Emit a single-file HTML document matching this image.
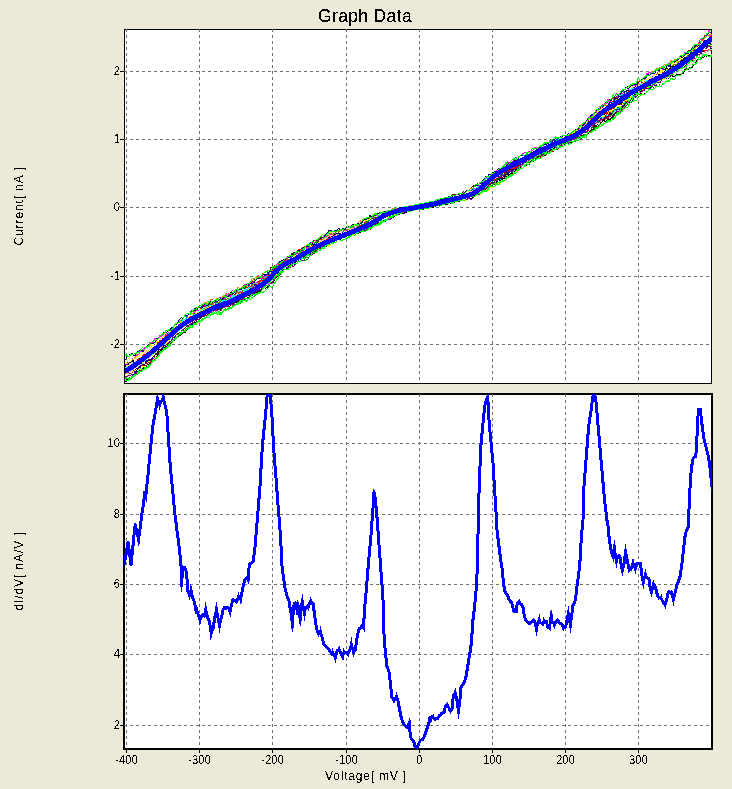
<!DOCTYPE html>
<html><head><meta charset="utf-8"><title>Graph Data</title>
<style>
html,body{margin:0;padding:0}
body{width:732px;height:789px;background:#ece9d8;position:relative;overflow:hidden;font-family:"Liberation Sans",sans-serif;color:#000}
.title{filter:url(#thr)}
.yl,.xl,.xt,.yt{filter:url(#thr2)}
.title{position:absolute;left:265px;width:200px;top:6px;text-align:center;font-size:17.5px;letter-spacing:0.35px;line-height:20px;white-space:nowrap}
.yl{position:absolute;left:61px;width:59px;text-align:right;font-size:12.5px;letter-spacing:0;line-height:13px;height:13px;transform:scaleX(0.9);transform-origin:100% 50%}
.xl{position:absolute;top:754px;width:61px;text-align:center;font-size:12.5px;letter-spacing:0;line-height:13px;height:13px;transform:scaleX(0.9);transform-origin:50% 50%}
.xt{position:absolute;left:301px;width:130px;top:769px;text-align:center;font-size:12px;letter-spacing:0.8px;line-height:14px;white-space:nowrap}
.yt{position:absolute;left:-41px;width:120px;height:14px;text-align:center;font-size:12px;letter-spacing:0.9px;line-height:14px;white-space:nowrap;transform:rotate(-90deg);transform-origin:50% 50%}
</style></head><body>
<svg width="732" height="789" viewBox="0 0 732 789" style="position:absolute;left:0;top:0"><defs><filter id="thr" x="0" y="0" width="100%" height="100%" color-interpolation-filters="sRGB"><feComponentTransfer><feFuncA type="discrete" tableValues="0 0 1 1 1"/></feComponentTransfer></filter><filter id="thr2" x="0" y="0" width="100%" height="100%" color-interpolation-filters="sRGB"><feComponentTransfer><feFuncA type="discrete" tableValues="0 0 0 0 0 1 1 1 1 1"/></feComponentTransfer></filter><clipPath id="c1"><rect x="125" y="30" width="587" height="353"/></clipPath><clipPath id="c2"><rect x="124" y="394" width="588" height="356"/></clipPath></defs><g shape-rendering="crispEdges"><rect x="124.5" y="29.5" width="587" height="354" fill="#fff" stroke="#000" stroke-width="1"/><rect x="124" y="394" width="588" height="355" fill="#fff" stroke="#000" stroke-width="2"/><line x1="126.5" y1="29" x2="126.5" y2="383" stroke="#707070" stroke-dasharray="3 3"/><line x1="126.5" y1="394" x2="126.5" y2="748" stroke="#707070" stroke-dasharray="3 3"/><line x1="126.5" y1="750" x2="126.5" y2="753" stroke="#000"/><line x1="199.5" y1="29" x2="199.5" y2="383" stroke="#707070" stroke-dasharray="3 3"/><line x1="199.5" y1="394" x2="199.5" y2="748" stroke="#707070" stroke-dasharray="3 3"/><line x1="199.5" y1="750" x2="199.5" y2="753" stroke="#000"/><line x1="272.5" y1="29" x2="272.5" y2="383" stroke="#707070" stroke-dasharray="3 3"/><line x1="272.5" y1="394" x2="272.5" y2="748" stroke="#707070" stroke-dasharray="3 3"/><line x1="272.5" y1="750" x2="272.5" y2="753" stroke="#000"/><line x1="346.5" y1="29" x2="346.5" y2="383" stroke="#707070" stroke-dasharray="3 3"/><line x1="346.5" y1="394" x2="346.5" y2="748" stroke="#707070" stroke-dasharray="3 3"/><line x1="346.5" y1="750" x2="346.5" y2="753" stroke="#000"/><line x1="419.5" y1="29" x2="419.5" y2="383" stroke="#707070" stroke-dasharray="3 3"/><line x1="419.5" y1="394" x2="419.5" y2="748" stroke="#707070" stroke-dasharray="3 3"/><line x1="419.5" y1="750" x2="419.5" y2="753" stroke="#000"/><line x1="492.5" y1="29" x2="492.5" y2="383" stroke="#707070" stroke-dasharray="3 3"/><line x1="492.5" y1="394" x2="492.5" y2="748" stroke="#707070" stroke-dasharray="3 3"/><line x1="492.5" y1="750" x2="492.5" y2="753" stroke="#000"/><line x1="565.5" y1="29" x2="565.5" y2="383" stroke="#707070" stroke-dasharray="3 3"/><line x1="565.5" y1="394" x2="565.5" y2="748" stroke="#707070" stroke-dasharray="3 3"/><line x1="565.5" y1="750" x2="565.5" y2="753" stroke="#000"/><line x1="638.5" y1="29" x2="638.5" y2="383" stroke="#707070" stroke-dasharray="3 3"/><line x1="638.5" y1="394" x2="638.5" y2="748" stroke="#707070" stroke-dasharray="3 3"/><line x1="638.5" y1="750" x2="638.5" y2="753" stroke="#000"/><line x1="124" y1="71.5" x2="711" y2="71.5" stroke="#707070" stroke-dasharray="3 3"/><line x1="120" y1="71.5" x2="124" y2="71.5" stroke="#000"/><line x1="124" y1="139.5" x2="711" y2="139.5" stroke="#707070" stroke-dasharray="3 3"/><line x1="120" y1="139.5" x2="124" y2="139.5" stroke="#000"/><line x1="124" y1="207.5" x2="711" y2="207.5" stroke="#707070" stroke-dasharray="3 3"/><line x1="120" y1="207.5" x2="124" y2="207.5" stroke="#000"/><line x1="124" y1="276.5" x2="711" y2="276.5" stroke="#707070" stroke-dasharray="3 3"/><line x1="120" y1="276.5" x2="124" y2="276.5" stroke="#000"/><line x1="124" y1="344.5" x2="711" y2="344.5" stroke="#707070" stroke-dasharray="3 3"/><line x1="120" y1="344.5" x2="124" y2="344.5" stroke="#000"/><line x1="124" y1="443.5" x2="711" y2="443.5" stroke="#707070" stroke-dasharray="3 3"/><line x1="120" y1="443.5" x2="123" y2="443.5" stroke="#000"/><line x1="124" y1="514.5" x2="711" y2="514.5" stroke="#707070" stroke-dasharray="3 3"/><line x1="120" y1="514.5" x2="123" y2="514.5" stroke="#000"/><line x1="124" y1="584.5" x2="711" y2="584.5" stroke="#707070" stroke-dasharray="3 3"/><line x1="120" y1="584.5" x2="123" y2="584.5" stroke="#000"/><line x1="124" y1="654.5" x2="711" y2="654.5" stroke="#707070" stroke-dasharray="3 3"/><line x1="120" y1="654.5" x2="123" y2="654.5" stroke="#000"/><line x1="124" y1="725.5" x2="711" y2="725.5" stroke="#707070" stroke-dasharray="3 3"/><line x1="120" y1="725.5" x2="123" y2="725.5" stroke="#000"/></g><g clip-path="url(#c1)" fill="none" shape-rendering="crispEdges" stroke-width="1"><polyline stroke="#ff00ff" points="125,364.0 126,364.2 127,363.0 128,362.9 129,362.2 130,362.2 131,363.0 132,363.4 133,362.7 134,363.7 135,364.5 136,362.8 137,362.9 138,362.5 139,361.2 140,361.4 141,361.6 142,360.1 143,359.4 144,358.5 145,358.0 146,356.9 147,355.9 148,356.7 149,355.9 150,353.7 151,352.6 152,351.7 153,351.2 154,350.6 155,349.2 156,348.2 157,346.3 158,345.6 159,344.4 160,343.8 161,343.2 162,341.8 163,341.5 164,341.8 165,340.9 166,338.8 167,337.3 168,337.8 169,336.0 170,334.3 171,332.8 172,332.6 173,331.0 174,328.1 175,327.3 176,326.4 177,326.7 178,325.7 179,322.8 180,322.4 181,322.8 182,320.8 183,320.1 184,319.3 185,318.5 186,317.8 187,316.0 188,316.1 189,317.4 190,314.1 191,312.5 192,313.2 193,312.0 194,311.1 195,309.1 196,308.7 197,308.2 198,307.7 199,306.8 200,305.7 201,305.5 202,307.0 203,305.7 204,302.8 205,302.1 206,303.0 207,302.6 208,302.1 209,301.8 210,300.9 211,299.1 212,299.3 213,301.5 214,300.7 215,300.6 216,299.9 217,298.7 218,298.3 219,297.9 220,297.3 221,297.3 222,298.4 223,299.1 224,299.2 225,296.9 226,294.6 227,295.4 228,294.9 229,293.2 230,293.4 231,293.5 232,290.8 233,291.0 234,291.0 235,291.3 236,291.2 237,290.0 238,291.1 239,289.6 240,289.7 241,288.5 242,288.5 243,286.8 244,284.7 245,284.7 246,285.4 247,284.7 248,286.0 249,284.4 250,284.2 251,283.7 252,282.9 253,281.9 254,281.2 255,281.0 256,279.3 257,277.5 258,278.6 259,278.1 260,278.8 261,277.8 262,278.2 263,277.4 264,275.8 265,276.3 266,276.7 267,274.1 268,272.7 269,273.0 270,272.1 271,271.0 272,270.2 273,270.1 274,268.2 275,267.7 276,266.5 277,264.1 278,262.7 279,263.6 280,263.5 281,263.5 282,262.1 283,260.5 284,260.2 285,259.6 286,258.2 287,257.8 288,259.3 289,260.4 290,259.3 291,256.5 292,256.5 293,256.9 294,257.5 295,255.6 296,253.5 297,252.3 298,253.8 299,254.0 300,252.6 301,251.6 302,253.1 303,252.4 304,250.6 305,249.6 306,249.0 307,247.6 308,248.2 309,247.4 310,246.7 311,246.9 312,246.1 313,245.0 314,243.5 315,243.5 316,244.6 317,244.8 318,242.4 319,240.5 320,241.8 321,241.4 322,240.2 323,240.4 324,238.9 325,237.1 326,237.5 327,237.9 328,237.8 329,236.3 330,234.9 331,235.0 332,234.7 333,234.5 334,235.1 335,235.9 336,235.6 337,233.9 338,233.4 339,234.2 340,234.2 341,233.4 342,233.1 343,232.5 344,232.9 345,232.6 346,232.4 347,232.0 348,230.5 349,230.7 350,230.7 351,230.9 352,230.3 353,228.8 354,227.3 355,227.0 356,227.4 357,226.5 358,226.2 359,226.5 360,227.1 361,226.5 362,224.2 363,223.2 364,223.1 365,224.0 366,223.2 367,222.3 368,221.8 369,222.1 370,220.0 371,220.1 372,219.6 373,217.9 374,217.4 375,217.0 376,217.8 377,216.3 378,215.8 379,216.9 380,216.8 381,215.6 382,214.9 383,214.5 384,214.6 385,214.9 386,216.2 387,214.9 388,213.7 389,213.0 390,212.7 391,212.1 392,211.1 393,210.7 394,211.1 395,211.1 396,210.9 397,210.4 398,209.5 399,208.8 400,208.8 401,209.1 402,208.8 403,208.3 404,208.3 405,208.8 406,208.2 407,206.9 408,206.9 409,207.2 410,206.8 411,206.7 412,206.6 413,206.7 414,206.4 415,205.6 416,205.6 417,205.4 418,205.1 419,204.8 420,204.6 421,204.6 422,204.6 423,204.3 424,204.2 425,204.0 426,203.8 427,203.3 428,203.1 429,202.5 430,202.3 431,202.0 432,202.2 433,202.1 434,202.1 435,202.4 436,202.3 437,201.2 438,200.6 439,200.0 440,199.9 441,200.3 442,199.9 443,199.0 444,198.2 445,198.8 446,199.0 447,198.1 448,198.1 449,198.3 450,197.4 451,197.2 452,196.9 453,196.0 454,196.1 455,196.2 456,196.4 457,195.5 458,194.6 459,194.3 460,194.5 461,193.9 462,193.1 463,192.8 464,192.6 465,191.7 466,191.4 467,191.4 468,190.8 469,190.4 470,190.2 471,190.1 472,188.6 473,188.4 474,188.3 475,187.5 476,187.1 477,186.1 478,185.6 479,186.4 480,186.3 481,184.2 482,182.7 483,180.8 484,180.0 485,179.9 486,178.4 487,177.6 488,177.1 489,177.7 490,178.7 491,178.0 492,173.9 493,173.5 494,175.2 495,174.1 496,172.7 497,172.0 498,171.3 499,168.9 500,168.3 501,168.1 502,167.4 503,166.1 504,165.7 505,165.3 506,163.4 507,161.7 508,162.6 509,162.8 510,162.9 511,162.8 512,163.3 513,161.6 514,159.0 515,157.9 516,157.0 517,157.9 518,157.2 519,157.0 520,156.1 521,155.8 522,154.9 523,153.3 524,153.0 525,152.7 526,152.9 527,153.6 528,152.7 529,151.0 530,151.1 531,151.4 532,151.1 533,149.9 534,149.3 535,147.6 536,147.7 537,147.4 538,147.0 539,148.4 540,147.3 541,146.5 542,145.9 543,144.9 544,145.2 545,145.4 546,143.1 547,142.9 548,144.2 549,143.5 550,142.3 551,141.4 552,141.0 553,140.6 554,140.9 555,141.5 556,141.4 557,141.5 558,141.3 559,140.8 560,139.8 561,138.7 562,138.0 563,138.3 564,137.9 565,137.2 566,136.9 567,137.4 568,135.9 569,135.0 570,134.6 571,133.7 572,132.9 573,132.5 574,133.3 575,132.7 576,130.9 577,130.1 578,129.2 579,129.7 580,129.2 581,127.6 582,126.6 583,125.2 584,125.4 585,124.0 586,121.9 587,121.2 588,119.6 589,120.9 590,120.8 591,117.6 592,115.9 593,115.5 594,114.6 595,112.5 596,112.0 597,112.3 598,112.0 599,109.6 600,107.7 601,106.3 602,106.5 603,106.1 604,106.0 605,105.1 606,103.6 607,100.7 608,99.5 609,99.1 610,101.8 611,101.1 612,100.5 613,100.2 614,98.2 615,96.8 616,94.0 617,93.5 618,93.8 619,94.1 620,93.5 621,92.8 622,92.4 623,91.5 624,89.7 625,88.3 626,87.8 627,88.3 628,88.2 629,87.9 630,87.1 631,86.5 632,85.0 633,84.5 634,84.2 635,83.5 636,83.2 637,81.8 638,80.5 639,80.5 640,81.6 641,81.0 642,79.5 643,78.2 644,77.2 645,77.8 646,76.2 647,73.5 648,73.3 649,72.8 650,72.5 651,73.3 652,73.5 653,73.2 654,72.2 655,71.8 656,70.9 657,70.9 658,70.3 659,70.2 660,70.5 661,69.3 662,67.9 663,68.8 664,67.0 665,66.0 666,65.0 667,65.1 668,64.2 669,62.7 670,61.9 671,61.9 672,61.9 673,61.0 674,60.9 675,61.1 676,60.0 677,59.1 678,58.2 679,59.8 680,60.0 681,59.3 682,57.9 683,55.7 684,53.8 685,52.7 686,52.6 687,53.7 688,53.0 689,52.1 690,51.4 691,52.0 692,51.1 693,48.8 694,46.9 695,45.6 696,46.3 697,45.5 698,44.6 699,41.8 700,40.1 701,39.4 702,38.5 703,38.5 704,38.2 705,38.4 706,36.4 707,34.3 708,33.5 709,30.5 710,29.5 711,29.7 712,30.1 713,28.9"/><polyline stroke="#800000" points="125,365.8 126,365.7 127,365.4 128,365.1 129,364.3 130,363.2 131,362.2 132,361.9 133,362.3 134,362.9 135,361.7 136,360.9 137,359.6 138,359.6 139,358.5 140,358.2 141,359.0 142,357.8 143,355.8 144,354.8 145,354.7 146,353.5 147,351.4 148,350.2 149,349.1 150,349.9 151,349.7 152,348.8 153,348.5 154,349.5 155,348.6 156,346.2 157,344.1 158,342.3 159,341.3 160,340.2 161,339.7 162,338.2 163,337.8 164,337.4 165,337.0 166,336.4 167,334.5 168,332.2 169,330.3 170,330.4 171,331.1 172,330.0 173,329.3 174,327.4 175,326.4 176,326.7 177,324.4 178,323.6 179,322.3 180,322.7 181,322.3 182,320.4 183,319.8 184,320.2 185,319.3 186,317.9 187,317.2 188,316.0 189,315.8 190,315.1 191,314.8 192,315.2 193,315.0 194,313.5 195,312.3 196,310.1 197,309.5 198,308.5 199,307.9 200,307.6 201,307.0 202,306.0 203,305.3 204,305.4 205,305.1 206,305.5 207,304.7 208,304.2 209,304.8 210,305.0 211,303.6 212,302.8 213,302.3 214,301.8 215,302.4 216,301.5 217,300.9 218,300.5 219,301.1 220,301.8 221,301.8 222,300.8 223,300.0 224,299.1 225,298.6 226,298.9 227,298.4 228,297.2 229,295.7 230,294.8 231,293.5 232,293.0 233,295.3 234,295.6 235,293.9 236,291.9 237,291.3 238,290.1 239,289.4 240,289.1 241,288.8 242,287.8 243,288.3 244,288.4 245,287.1 246,285.8 247,284.6 248,284.4 249,284.2 250,283.7 251,284.1 252,282.5 253,279.7 254,279.7 255,279.5 256,280.2 257,278.5 258,277.4 259,278.8 260,277.8 261,276.9 262,276.0 263,274.5 264,272.7 265,272.6 266,272.0 267,271.7 268,272.7 269,273.3 270,270.7 271,267.2 272,268.0 273,267.9 274,266.8 275,265.4 276,265.4 277,265.8 278,266.5 279,265.7 280,262.8 281,261.2 282,261.0 283,260.1 284,259.8 285,259.5 286,259.3 287,259.7 288,259.3 289,258.3 290,256.2 291,255.4 292,254.6 293,254.7 294,255.0 295,255.0 296,252.8 297,251.7 298,251.4 299,251.8 300,251.0 301,249.8 302,248.5 303,247.7 304,247.5 305,247.4 306,245.7 307,245.1 308,245.8 309,244.4 310,245.0 311,245.7 312,243.1 313,241.2 314,240.6 315,241.1 316,240.7 317,240.2 318,238.9 319,239.0 320,238.3 321,236.4 322,237.4 323,237.4 324,235.6 325,235.3 326,234.8 327,233.9 328,232.9 329,233.4 330,233.3 331,232.4 332,231.2 333,231.4 334,232.0 335,232.4 336,231.8 337,231.0 338,230.5 339,229.9 340,229.9 341,230.4 342,230.9 343,231.5 344,230.3 345,230.0 346,229.3 347,228.4 348,228.8 349,229.5 350,229.5 351,229.7 352,229.6 353,227.6 354,227.2 355,227.9 356,228.1 357,227.8 358,228.5 359,228.5 360,226.9 361,226.3 362,226.1 363,226.5 364,226.2 365,225.0 366,223.8 367,223.9 368,224.0 369,224.3 370,224.8 371,223.8 372,222.6 373,220.0 374,219.8 375,220.3 376,221.3 377,220.7 378,220.0 379,218.4 380,217.7 381,217.3 382,216.9 383,216.7 384,215.7 385,215.7 386,215.6 387,214.6 388,213.3 389,212.4 390,213.0 391,213.6 392,212.3 393,211.8 394,211.6 395,210.1 396,209.5 397,209.0 398,209.1 399,208.6 400,208.0 401,208.1 402,207.9 403,208.0 404,207.9 405,208.2 406,208.3 407,207.4 408,206.8 409,206.2 410,206.1 411,206.0 412,206.1 413,206.0 414,206.2 415,206.3 416,205.8 417,205.7 418,205.2 419,204.8 420,204.6 421,204.6 422,204.4 423,203.8 424,203.9 425,203.9 426,203.7 427,203.2 428,203.0 429,203.1 430,202.4 431,202.1 432,202.3 433,202.5 434,201.9 435,201.7 436,201.8 437,201.0 438,200.7 439,200.8 440,200.5 441,200.0 442,199.8 443,199.7 444,199.2 445,198.7 446,198.1 447,197.6 448,197.7 449,197.6 450,196.8 451,195.9 452,195.3 453,194.7 454,194.9 455,194.8 456,194.6 457,194.4 458,194.0 459,194.2 460,193.9 461,193.2 462,192.9 463,192.2 464,191.7 465,192.0 466,191.5 467,190.7 468,190.7 469,191.2 470,190.7 471,188.8 472,186.9 473,186.3 474,185.7 475,185.0 476,184.1 477,184.1 478,183.6 479,183.3 480,185.1 481,184.9 482,182.7 483,182.1 484,181.4 485,180.4 486,180.7 487,181.1 488,181.0 489,181.2 490,180.5 491,180.0 492,180.0 493,179.2 494,177.6 495,178.2 496,177.8 497,177.0 498,175.6 499,174.3 500,173.9 501,175.0 502,174.3 503,172.9 504,172.7 505,171.8 506,171.2 507,169.9 508,168.3 509,168.1 510,168.3 511,167.3 512,165.7 513,164.3 514,164.5 515,164.3 516,163.6 517,162.3 518,162.0 519,161.3 520,160.5 521,161.0 522,161.1 523,158.6 524,157.3 525,158.8 526,158.1 527,158.0 528,157.1 529,156.6 530,156.2 531,156.4 532,155.2 533,154.3 534,154.3 535,153.9 536,152.9 537,152.5 538,151.5 539,151.6 540,151.6 541,151.5 542,149.9 543,148.2 544,148.5 545,148.0 546,147.0 547,147.5 548,147.1 549,145.5 550,144.1 551,143.9 552,143.5 553,142.5 554,143.3 555,143.0 556,143.8 557,144.6 558,143.4 559,141.3 560,140.9 561,140.5 562,140.1 563,139.6 564,140.1 565,139.8 566,139.1 567,139.1 568,137.2 569,136.4 570,137.1 571,136.0 572,135.2 573,134.2 574,134.0 575,133.7 576,132.7 577,130.4 578,131.0 579,131.5 580,129.9 581,128.6 582,128.3 583,126.3 584,124.6 585,125.3 586,124.8 587,123.3 588,122.1 589,120.6 590,120.1 591,119.6 592,117.4 593,115.3 594,114.9 595,112.2 596,110.8 597,110.8 598,110.8 599,109.7 600,109.0 601,107.6 602,106.4 603,105.1 604,105.0 605,102.9 606,102.0 607,103.3 608,101.9 609,99.7 610,99.0 611,99.3 612,99.2 613,97.6 614,97.1 615,97.2 616,96.6 617,94.8 618,94.7 619,93.7 620,92.7 621,91.4 622,90.6 623,90.4 624,89.8 625,88.8 626,88.3 627,88.4 628,86.5 629,86.8 630,86.4 631,87.0 632,87.9 633,88.0 634,87.2 635,85.6 636,84.6 637,84.2 638,85.2 639,83.8 640,84.6 641,84.6 642,82.5 643,82.5 644,82.6 645,81.8 646,81.7 647,81.3 648,79.8 649,80.4 650,80.8 651,79.3 652,78.7 653,78.6 654,77.8 655,77.6 656,76.7 657,77.2 658,76.7 659,75.3 660,74.6 661,74.1 662,73.3 663,72.0 664,70.6 665,70.3 666,69.4 667,67.9 668,65.5 669,64.8 670,65.0 671,65.0 672,63.8 673,62.7 674,63.0 675,62.1 676,61.3 677,60.5 678,60.2 679,58.6 680,58.1 681,56.8 682,57.0 683,56.2 684,54.6 685,52.9 686,52.3 687,53.2 688,50.8 689,50.6 690,50.8 691,50.5 692,48.5 693,48.8 694,48.2 695,46.9 696,47.8 697,47.6 698,46.2 699,43.7 700,42.6 701,41.4 702,40.0 703,39.0 704,36.7 705,35.6 706,35.9 707,34.4 708,34.2 709,32.8 710,30.3 711,29.9 712,30.8 713,29.7"/><polyline stroke="#ff8000" points="125,362.2 126,361.2 127,361.1 128,360.7 129,359.6 130,358.9 131,358.2 132,358.8 133,359.3 134,359.3 135,357.6 136,354.7 137,353.8 138,355.5 139,355.8 140,355.5 141,355.3 142,353.9 143,352.5 144,350.8 145,349.0 146,348.1 147,347.8 148,347.2 149,346.5 150,345.6 151,343.9 152,343.6 153,342.4 154,342.0 155,342.4 156,341.4 157,339.4 158,338.6 159,337.4 160,335.6 161,335.8 162,335.4 163,334.2 164,334.1 165,333.0 166,332.3 167,332.0 168,331.9 169,332.5 170,331.5 171,329.7 172,329.7 173,328.7 174,327.4 175,325.6 176,325.2 177,323.8 178,322.2 179,323.4 180,322.9 181,320.6 182,319.2 183,318.2 184,318.2 185,316.9 186,316.2 187,316.6 188,315.6 189,314.5 190,315.0 191,313.5 192,312.9 193,313.5 194,312.6 195,310.4 196,307.4 197,306.9 198,307.2 199,307.3 200,306.7 201,305.8 202,307.4 203,307.1 204,304.3 205,302.6 206,303.6 207,302.3 208,301.7 209,301.9 210,301.2 211,299.3 212,300.1 213,301.0 214,299.9 215,299.9 216,299.1 217,298.7 218,298.4 219,300.0 220,298.7 221,298.0 222,297.2 223,296.4 224,295.9 225,294.9 226,293.7 227,293.8 228,295.7 229,295.1 230,294.3 231,292.8 232,293.0 233,291.9 234,291.4 235,291.4 236,290.5 237,289.7 238,287.4 239,287.9 240,288.7 241,288.9 242,288.0 243,286.2 244,286.1 245,285.3 246,286.1 247,286.3 248,283.9 249,282.7 250,283.8 251,282.1 252,281.2 253,280.2 254,278.6 255,277.9 256,277.8 257,276.1 258,275.7 259,276.0 260,276.7 261,276.9 262,275.5 263,273.3 264,272.9 265,272.0 266,272.0 267,271.7 268,270.7 269,269.8 270,271.0 271,271.4 272,270.4 273,269.6 274,268.3 275,267.5 276,268.1 277,266.8 278,265.6 279,263.5 280,262.6 281,263.3 282,262.6 283,260.5 284,260.9 285,261.7 286,260.0 287,260.0 288,259.4 289,259.0 290,259.0 291,258.4 292,256.3 293,256.7 294,256.1 295,254.4 296,254.4 297,254.9 298,254.4 299,254.0 300,254.0 301,253.2 302,252.9 303,253.6 304,252.7 305,251.2 306,252.0 307,251.9 308,250.8 309,249.6 310,248.8 311,248.2 312,248.5 313,249.9 314,247.3 315,245.1 316,243.4 317,243.4 318,245.3 319,244.5 320,241.6 321,241.6 322,241.4 323,241.3 324,239.9 325,237.9 326,236.9 327,237.7 328,238.2 329,236.3 330,236.1 331,236.4 332,235.7 333,234.4 334,233.2 335,234.0 336,233.5 337,232.7 338,232.7 339,231.4 340,230.3 341,230.0 342,230.7 343,229.4 344,229.2 345,230.4 346,230.2 347,229.3 348,227.6 349,227.8 350,227.1 351,227.5 352,228.6 353,226.5 354,224.5 355,225.3 356,225.3 357,224.2 358,224.0 359,222.2 360,220.7 361,221.6 362,221.5 363,221.4 364,220.3 365,218.9 366,218.8 367,217.7 368,218.1 369,218.4 370,217.6 371,216.6 372,216.4 373,216.0 374,215.0 375,214.9 376,214.1 377,213.8 378,214.3 379,213.3 380,211.9 381,212.5 382,212.4 383,212.5 384,211.9 385,211.9 386,211.5 387,211.0 388,210.7 389,210.6 390,210.4 391,210.0 392,208.9 393,208.7 394,209.3 395,208.7 396,208.6 397,208.3 398,208.5 399,208.6 400,208.0 401,207.6 402,207.5 403,207.3 404,206.8 405,207.0 406,206.6 407,206.7 408,206.8 409,206.0 410,205.8 411,205.9 412,206.1 413,205.6 414,205.3 415,205.4 416,205.1 417,204.8 418,205.2 419,205.1 420,204.3 421,204.0 422,204.4 423,204.5 424,204.8 425,205.3 426,204.8 427,204.7 428,204.6 429,203.8 430,203.2 431,202.9 432,203.0 433,203.5 434,203.3 435,202.4 436,201.7 437,201.6 438,201.3 439,200.7 440,200.3 441,200.3 442,201.0 443,200.3 444,199.8 445,199.5 446,198.8 447,198.3 448,197.7 449,197.9 450,197.7 451,197.3 452,197.0 453,196.7 454,196.9 455,196.7 456,196.0 457,195.4 458,194.9 459,194.2 460,194.5 461,194.7 462,193.3 463,193.0 464,193.0 465,192.4 466,191.2 467,191.4 468,191.8 469,191.0 470,189.4 471,188.2 472,188.1 473,188.8 474,188.3 475,187.7 476,186.7 477,185.4 478,184.5 479,183.3 480,182.6 481,182.1 482,180.8 483,181.5 484,181.0 485,180.4 486,180.3 487,180.4 488,178.5 489,179.0 490,179.0 491,178.3 492,176.6 493,176.4 494,176.9 495,175.7 496,173.2 497,173.8 498,175.0 499,173.3 500,172.5 501,171.9 502,172.9 503,172.4 504,169.6 505,168.7 506,168.0 507,169.2 508,167.7 509,166.5 510,166.5 511,167.3 512,165.3 513,163.6 514,162.8 515,162.7 516,162.3 517,160.9 518,160.6 519,161.3 520,161.9 521,160.7 522,158.8 523,157.6 524,157.1 525,156.0 526,155.7 527,156.4 528,155.9 529,155.7 530,155.1 531,154.4 532,153.9 533,153.3 534,153.1 535,153.7 536,153.1 537,152.5 538,151.8 539,150.0 540,149.7 541,149.9 542,148.4 543,147.5 544,148.0 545,147.4 546,146.2 547,146.2 548,144.7 549,144.1 550,144.9 551,144.8 552,144.3 553,142.7 554,142.5 555,141.9 556,141.4 557,142.2 558,141.2 559,141.3 560,141.3 561,141.3 562,141.4 563,139.7 564,138.9 565,138.3 566,138.8 567,138.2 568,135.7 569,136.1 570,137.0 571,135.9 572,134.0 573,132.4 574,133.2 575,132.3 576,131.1 577,129.3 578,129.2 579,127.7 580,127.0 581,126.1 582,124.6 583,123.5 584,123.2 585,122.1 586,121.2 587,120.9 588,119.2 589,117.3 590,116.0 591,116.9 592,116.1 593,114.8 594,113.1 595,112.5 596,111.9 597,110.3 598,109.6 599,108.9 600,106.5 601,106.3 602,108.2 603,106.1 604,105.8 605,105.7 606,105.1 607,105.5 608,105.1 609,104.8 610,104.3 611,104.6 612,104.2 613,101.4 614,102.0 615,103.1 616,101.6 617,100.2 618,99.5 619,99.6 620,98.4 621,98.3 622,97.0 623,95.8 624,96.2 625,94.8 626,92.4 627,92.4 628,92.4 629,92.4 630,92.0 631,90.0 632,87.0 633,86.0 634,85.5 635,84.9 636,85.3 637,84.2 638,82.7 639,81.6 640,81.2 641,80.2 642,78.9 643,79.3 644,78.1 645,76.2 646,76.4 647,75.8 648,75.1 649,75.8 650,73.7 651,73.0 652,71.0 653,71.9 654,72.9 655,71.4 656,68.9 657,68.4 658,68.7 659,68.2 660,67.5 661,68.4 662,68.3 663,66.7 664,65.3 665,64.1 666,64.3 667,65.1 668,64.6 669,64.6 670,62.5 671,60.2 672,61.4 673,62.4 674,61.2 675,59.6 676,59.0 677,59.1 678,58.5 679,58.5 680,57.7 681,56.0 682,55.0 683,55.2 684,55.5 685,53.2 686,51.8 687,52.9 688,53.8 689,53.3 690,53.7 691,52.7 692,51.9 693,50.6 694,49.4 695,49.3 696,47.4 697,46.0 698,44.1 699,43.9 700,43.4 701,42.0 702,41.0 703,40.8 704,39.3 705,37.6 706,36.2 707,36.3 708,34.9 709,35.5 710,34.4 711,33.9 712,34.9 713,34.1"/><polyline stroke="#ff00ff" points="125,363.7 126,363.6 127,361.3 128,360.9 129,360.3 130,359.1 131,359.2 132,358.7 133,356.8 134,355.9 135,355.3 136,355.8 137,355.1 138,354.8 139,353.8 140,352.0 141,351.2 142,351.4 143,348.8 144,348.2 145,347.8 146,347.5 147,346.9 148,346.1 149,344.3 150,342.5 151,342.0 152,342.2 153,342.2 154,340.0 155,338.3 156,338.7 157,340.7 158,340.2 159,337.5 160,335.5 161,337.0 162,336.9 163,334.9 164,334.1 165,334.8 166,334.4 167,334.3 168,334.0 169,332.3 170,332.0 171,333.0 172,333.5 173,331.9 174,328.7 175,327.3 176,328.3 177,327.6 178,325.6 179,322.9 180,322.3 181,323.5 182,323.0 183,322.7 184,321.9 185,321.7 186,319.6 187,318.1 188,319.0 189,318.5 190,317.1 191,315.1 192,315.5 193,314.6 194,313.0 195,312.1 196,310.8 197,310.6 198,310.2 199,311.0 200,311.2 201,309.6 202,307.6 203,306.9 204,306.4 205,305.4 206,305.9 207,305.4 208,304.0 209,303.6 210,303.4 211,302.0 212,301.6 213,301.5 214,302.3 215,302.5 216,300.9 217,300.1 218,300.4 219,301.1 220,300.0 221,300.0 222,300.1 223,300.6 224,300.5 225,298.2 226,298.3 227,298.8 228,298.4 229,298.1 230,296.5 231,295.7 232,293.9 233,293.2 234,292.9 235,291.8 236,292.8 237,291.8 238,291.3 239,291.0 240,291.5 241,291.9 242,291.6 243,289.7 244,289.5 245,288.9 246,287.4 247,287.2 248,286.9 249,287.1 250,287.2 251,285.9 252,283.3 253,282.1 254,282.6 255,283.3 256,282.8 257,282.9 258,281.4 259,281.0 260,280.3 261,280.8 262,279.2 263,276.7 264,277.4 265,277.1 266,276.0 267,275.0 268,275.7 269,274.6 270,271.7 271,270.4 272,272.6 273,271.6 274,271.0 275,268.4 276,269.0 277,268.9 278,266.0 279,265.3 280,265.9 281,265.5 282,264.3 283,263.5 284,263.3 285,260.5 286,260.0 287,260.4 288,259.3 289,257.9 290,258.2 291,257.3 292,256.8 293,256.2 294,254.9 295,254.3 296,254.1 297,253.8 298,254.0 299,253.4 300,252.6 301,252.4 302,251.5 303,250.0 304,249.6 305,250.3 306,249.9 307,248.4 308,247.8 309,245.9 310,244.3 311,243.1 312,243.2 313,243.4 314,243.2 315,242.9 316,241.9 317,241.8 318,239.6 319,238.8 320,241.1 321,241.7 322,240.5 323,239.7 324,239.1 325,238.2 326,235.2 327,235.9 328,235.5 329,235.3 330,235.7 331,235.7 332,235.0 333,236.0 334,235.6 335,234.2 336,234.0 337,234.7 338,235.4 339,235.3 340,234.5 341,234.1 342,233.4 343,231.9 344,230.8 345,231.0 346,231.5 347,230.7 348,230.2 349,229.7 350,230.2 351,229.7 352,229.6 353,228.8 354,227.4 355,226.3 356,226.4 357,226.4 358,224.9 359,223.8 360,223.3 361,223.0 362,224.3 363,224.4 364,223.7 365,221.0 366,219.4 367,219.6 368,221.3 369,219.2 370,217.8 371,218.6 372,217.7 373,217.7 374,217.7 375,217.1 376,216.2 377,215.2 378,216.6 379,216.9 380,216.1 381,216.0 382,215.7 383,214.5 384,213.7 385,213.2 386,212.5 387,212.9 388,212.9 389,212.3 390,212.4 391,212.6 392,211.5 393,211.0 394,211.2 395,211.0 396,210.8 397,210.7 398,210.5 399,210.4 400,209.3 401,208.7 402,209.0 403,208.7 404,209.0 405,208.8 406,208.5 407,207.9 408,207.4 409,207.0 410,207.0 411,207.0 412,207.0 413,206.8 414,206.6 415,206.1 416,205.3 417,205.3 418,204.9 419,204.9 420,205.3 421,204.6 422,203.5 423,203.7 424,204.2 425,204.2 426,203.8 427,202.9 428,202.4 429,203.1 430,202.3 431,201.5 432,201.8 433,201.3 434,201.2 435,201.1 436,200.7 437,200.8 438,200.6 439,200.0 440,199.9 441,199.8 442,199.6 443,199.7 444,199.4 445,198.3 446,197.5 447,197.3 448,198.0 449,197.5 450,197.2 451,196.7 452,196.6 453,196.9 454,196.5 455,196.1 456,195.2 457,195.1 458,195.6 459,196.5 460,196.6 461,196.2 462,195.2 463,195.0 464,195.3 465,194.6 466,193.0 467,191.5 468,191.4 469,191.5 470,191.5 471,190.0 472,189.8 473,190.0 474,188.5 475,187.4 476,188.3 477,187.7 478,186.3 479,185.0 480,184.6 481,182.9 482,182.8 483,182.9 484,181.7 485,180.8 486,179.5 487,178.5 488,178.8 489,178.6 490,176.2 491,175.9 492,176.6 493,176.5 494,175.9 495,172.6 496,170.7 497,170.5 498,169.2 499,170.5 500,170.5 501,170.2 502,169.1 503,167.0 504,168.0 505,167.5 506,166.1 507,164.1 508,164.4 509,164.2 510,164.8 511,164.4 512,162.2 513,162.2 514,162.7 515,162.5 516,161.3 517,160.7 518,160.6 519,160.2 520,160.2 521,159.3 522,160.5 523,159.8 524,158.0 525,158.8 526,158.0 527,155.3 528,154.7 529,156.5 530,156.7 531,155.0 532,154.1 533,153.3 534,152.4 535,151.8 536,152.2 537,151.9 538,152.3 539,152.9 540,151.4 541,151.8 542,151.5 543,149.9 544,149.1 545,149.2 546,148.4 547,147.4 548,147.2 549,147.3 550,147.1 551,146.3 552,145.8 553,145.2 554,145.9 555,146.0 556,144.0 557,142.2 558,142.0 559,142.0 560,141.8 561,141.7 562,141.5 563,141.8 564,141.4 565,140.4 566,139.8 567,140.1 568,139.3 569,138.1 570,137.6 571,137.2 572,136.2 573,134.5 574,132.9 575,132.0 576,132.3 577,131.6 578,129.7 579,129.7 580,128.2 581,128.2 582,127.0 583,126.0 584,125.2 585,123.4 586,121.2 587,120.0 588,118.2 589,117.8 590,118.3 591,116.8 592,116.1 593,115.7 594,115.3 595,112.6 596,109.7 597,110.3 598,110.3 599,109.7 600,107.7 601,106.6 602,104.7 603,104.5 604,104.3 605,103.5 606,103.9 607,102.8 608,101.8 609,101.5 610,101.8 611,100.8 612,100.5 613,101.7 614,101.4 615,99.7 616,97.6 617,96.6 618,97.0 619,95.5 620,95.8 621,95.4 622,93.6 623,93.0 624,93.2 625,93.8 626,93.5 627,91.2 628,90.5 629,88.7 630,87.9 631,86.8 632,86.5 633,86.7 634,86.5 635,85.5 636,85.1 637,84.6 638,84.0 639,82.9 640,81.8 641,82.1 642,81.0 643,80.7 644,80.2 645,79.5 646,80.0 647,80.0 648,78.8 649,78.4 650,78.1 651,78.7 652,78.8 653,76.3 654,75.6 655,75.9 656,76.0 657,73.9 658,71.2 659,70.2 660,73.0 661,72.6 662,71.0 663,69.2 664,68.7 665,68.4 666,68.3 667,68.0 668,68.7 669,69.5 670,68.4 671,66.4 672,65.5 673,66.1 674,65.3 675,66.4 676,65.4 677,65.2 678,64.3 679,64.4 680,63.4 681,61.3 682,60.6 683,60.0 684,60.7 685,61.0 686,57.9 687,57.7 688,59.0 689,57.5 690,56.8 691,55.7 692,54.8 693,54.9 694,53.1 695,52.0 696,51.3 697,50.7 698,49.4 699,47.1 700,45.3 701,45.8 702,45.3 703,44.0 704,43.0 705,41.7 706,40.5 707,40.1 708,40.2 709,38.2 710,36.2 711,35.5 712,35.0 713,32.6"/><polyline stroke="#ffffff" points="125,361.9 126,361.4 127,360.4 128,359.4 129,361.1 130,359.8 131,358.6 132,357.5 133,357.1 134,356.7 135,356.1 136,355.9 137,356.5 138,357.3 139,355.5 140,354.6 141,354.1 142,354.0 143,352.9 144,352.0 145,352.4 146,354.1 147,351.2 148,349.6 149,348.9 150,347.0 151,345.3 152,346.7 153,345.6 154,345.3 155,345.0 156,342.9 157,341.0 158,339.7 159,339.3 160,338.5 161,338.9 162,336.8 163,336.1 164,335.3 165,333.7 166,333.2 167,332.6 168,331.6 169,331.2 170,330.9 171,329.6 172,329.5 173,328.6 174,327.8 175,326.6 176,324.9 177,324.5 178,323.6 179,321.5 180,320.7 181,320.4 182,320.7 183,319.4 184,318.3 185,316.4 186,314.6 187,315.3 188,315.8 189,313.2 190,312.3 191,311.7 192,313.2 193,311.2 194,310.1 195,308.7 196,308.7 197,308.7 198,308.7 199,307.5 200,306.7 201,305.8 202,304.5 203,304.8 204,304.3 205,304.3 206,305.1 207,304.6 208,302.2 209,302.4 210,303.1 211,302.8 212,301.8 213,300.6 214,300.1 215,299.5 216,299.3 217,300.1 218,300.3 219,299.8 220,299.3 221,297.9 222,297.6 223,297.1 224,299.0 225,299.4 226,299.0 227,297.6 228,296.2 229,297.5 230,299.1 231,297.3 232,296.3 233,296.1 234,295.9 235,296.2 236,296.3 237,297.4 238,294.5 239,291.9 240,293.3 241,293.7 242,294.0 243,292.5 244,291.0 245,291.0 246,289.4 247,289.6 248,290.8 249,289.8 250,288.5 251,287.3 252,284.9 253,285.3 254,285.6 255,285.2 256,284.5 257,284.7 258,282.8 259,282.5 260,282.5 261,281.0 262,278.9 263,279.0 264,279.7 265,279.0 266,278.8 267,277.8 268,275.5 269,276.4 270,276.5 271,273.6 272,270.8 273,271.5 274,271.1 275,268.1 276,267.9 277,269.2 278,268.9 279,266.4 280,264.5 281,264.6 282,263.9 283,263.8 284,263.7 285,263.5 286,262.1 287,260.9 288,259.7 289,258.4 290,259.1 291,259.4 292,257.3 293,257.5 294,256.0 295,253.8 296,253.9 297,254.6 298,254.8 299,253.8 300,253.2 301,251.9 302,251.3 303,250.3 304,249.3 305,249.1 306,249.0 307,249.4 308,249.9 309,248.4 310,247.2 311,245.5 312,245.0 313,245.3 314,245.0 315,244.8 316,243.0 317,241.2 318,241.4 319,241.1 320,240.8 321,239.5 322,238.7 323,239.4 324,239.9 325,237.9 326,236.1 327,236.4 328,237.3 329,236.1 330,233.1 331,234.1 332,236.5 333,235.2 334,234.6 335,235.3 336,234.7 337,232.5 338,232.6 339,234.5 340,234.4 341,234.6 342,234.0 343,231.9 344,231.3 345,231.6 346,232.7 347,231.6 348,232.0 349,231.9 350,231.0 351,230.8 352,230.2 353,229.9 354,228.9 355,228.2 356,228.4 357,228.4 358,228.0 359,227.4 360,226.2 361,226.0 362,226.1 363,225.5 364,225.0 365,225.1 366,224.2 367,223.3 368,222.2 369,222.8 370,223.5 371,223.1 372,221.5 373,220.8 374,220.6 375,220.7 376,219.3 377,219.1 378,218.6 379,217.5 380,217.1 381,216.4 382,214.8 383,214.8 384,215.3 385,215.4 386,214.5 387,214.2 388,213.5 389,212.7 390,212.0 391,212.4 392,211.7 393,211.1 394,210.7 395,210.3 396,210.5 397,209.9 398,209.4 399,209.1 400,208.8 401,208.5 402,208.8 403,208.3 404,207.6 405,207.6 406,207.4 407,206.9 408,207.3 409,207.8 410,207.2 411,206.4 412,206.9 413,207.3 414,206.7 415,206.0 416,205.8 417,205.5 418,205.5 419,205.3 420,205.4 421,205.7 422,205.3 423,205.1 424,204.9 425,204.3 426,204.1 427,204.0 428,203.6 429,202.9 430,203.4 431,203.9 432,204.2 433,203.4 434,202.6 435,202.2 436,202.2 437,201.9 438,201.7 439,201.6 440,200.8 441,200.7 442,200.2 443,199.7 444,199.1 445,199.1 446,199.1 447,198.7 448,198.1 449,197.8 450,197.2 451,196.7 452,196.8 453,196.4 454,196.5 455,196.5 456,196.0 457,194.6 458,194.3 459,193.5 460,193.9 461,194.3 462,194.1 463,192.9 464,191.7 465,191.3 466,191.5 467,192.5 468,191.7 469,190.8 470,189.9 471,189.3 472,189.6 473,187.9 474,187.5 475,187.1 476,187.2 477,186.6 478,183.7 479,183.9 480,184.7 481,183.5 482,182.8 483,181.9 484,180.9 485,180.2 486,179.9 487,179.7 488,179.9 489,178.2 490,177.9 491,178.1 492,176.9 493,175.9 494,175.5 495,174.1 496,173.9 497,174.7 498,175.8 499,173.3 500,170.5 501,171.3 502,170.4 503,169.6 504,169.4 505,170.3 506,169.6 507,169.2 508,168.4 509,167.2 510,165.6 511,165.1 512,165.9 513,165.5 514,164.3 515,163.7 516,164.4 517,163.5 518,162.1 519,161.8 520,161.0 521,161.8 522,162.4 523,160.3 524,159.1 525,159.5 526,158.5 527,158.0 528,158.2 529,157.1 530,155.8 531,155.2 532,154.7 533,154.9 534,153.8 535,153.1 536,153.4 537,153.2 538,152.2 539,151.5 540,150.7 541,150.9 542,150.3 543,147.8 544,147.5 545,148.1 546,148.1 547,145.7 548,145.2 549,144.9 550,143.5 551,142.1 552,142.9 553,143.4 554,142.9 555,141.1 556,141.0 557,141.9 558,140.1 559,139.7 560,140.2 561,139.7 562,140.0 563,139.7 564,138.0 565,137.1 566,137.2 567,136.9 568,136.5 569,136.6 570,136.1 571,135.4 572,135.2 573,135.2 574,135.2 575,134.9 576,134.0 577,134.4 578,135.3 579,133.1 580,132.5 581,131.8 582,130.6 583,131.0 584,130.9 585,128.3 586,126.8 587,127.3 588,128.6 589,127.4 590,125.7 591,125.3 592,124.7 593,124.2 594,123.6 595,121.8 596,120.1 597,120.1 598,118.6 599,119.2 600,118.8 601,115.9 602,113.0 603,110.9 604,110.2 605,110.0 606,108.3 607,106.7 608,104.9 609,104.5 610,103.8 611,102.1 612,101.4 613,100.4 614,100.0 615,98.6 616,96.3 617,94.1 618,93.6 619,93.1 620,92.6 621,93.1 622,92.9 623,90.8 624,89.0 625,88.9 626,89.2 627,88.2 628,87.4 629,87.0 630,85.2 631,85.6 632,86.4 633,83.7 634,83.3 635,83.3 636,80.8 637,79.8 638,80.6 639,78.7 640,79.0 641,78.8 642,77.2 643,76.3 644,77.2 645,77.2 646,76.4 647,76.4 648,77.0 649,76.3 650,75.9 651,75.0 652,75.0 653,73.1 654,71.8 655,72.9 656,73.4 657,71.5 658,69.4 659,67.8 660,69.4 661,68.9 662,68.1 663,69.0 664,69.3 665,69.3 666,68.7 667,68.0 668,67.1 669,67.2 670,67.1 671,66.8 672,66.1 673,66.3 674,65.6 675,65.8 676,66.1 677,65.6 678,64.6 679,65.0 680,63.6 681,63.1 682,64.1 683,63.4 684,61.4 685,60.9 686,60.8 687,61.3 688,58.9 689,58.8 690,59.0 691,58.1 692,58.4 693,56.6 694,55.4 695,55.3 696,53.6 697,52.6 698,52.0 699,51.1 700,49.6 701,46.7 702,45.2 703,44.4 704,44.3 705,44.7 706,44.8 707,44.3 708,43.9 709,42.3 710,40.4 711,41.6 712,41.3 713,40.1"/><polyline stroke="#008080" points="125,365.2 126,366.2 127,365.0 128,362.9 129,362.6 130,362.9 131,362.8 132,363.2 133,363.5 134,362.7 135,361.8 136,360.6 137,361.3 138,361.7 139,362.5 140,360.3 141,357.8 142,358.1 143,358.8 144,358.5 145,356.9 146,355.7 147,354.3 148,353.7 149,352.4 150,352.2 151,350.8 152,350.2 153,349.8 154,349.5 155,347.5 156,345.9 157,344.6 158,344.6 159,344.3 160,344.2 161,342.3 162,340.9 163,339.8 164,338.2 165,336.9 166,335.7 167,334.9 168,335.0 169,333.5 170,332.3 171,332.7 172,332.5 173,329.8 174,328.4 175,326.9 176,327.6 177,326.4 178,326.9 179,325.7 180,324.7 181,322.9 182,320.3 183,319.5 184,320.0 185,320.2 186,318.2 187,316.5 188,316.8 189,316.7 190,314.7 191,315.6 192,317.0 193,317.2 194,316.2 195,313.7 196,313.0 197,311.8 198,310.8 199,311.6 200,310.2 201,308.9 202,309.6 203,309.0 204,308.1 205,307.5 206,308.9 207,308.2 208,305.6 209,306.6 210,306.5 211,305.4 212,306.1 213,306.6 214,305.7 215,304.4 216,303.9 217,304.9 218,305.8 219,304.6 220,304.7 221,303.2 222,303.2 223,304.0 224,305.0 225,305.3 226,305.3 227,304.8 228,303.7 229,303.0 230,302.3 231,301.5 232,300.9 233,301.9 234,301.7 235,300.8 236,300.4 237,299.6 238,297.5 239,297.0 240,296.2 241,296.8 242,298.9 243,298.8 244,296.8 245,296.2 246,293.9 247,294.0 248,292.9 249,292.7 250,292.9 251,291.3 252,290.5 253,290.1 254,288.8 255,288.9 256,287.4 257,286.1 258,285.7 259,284.4 260,283.7 261,284.3 262,283.0 263,281.9 264,280.9 265,279.8 266,278.7 267,278.2 268,276.6 269,275.4 270,275.6 271,274.4 272,273.7 273,272.5 274,270.0 275,268.2 276,268.8 277,266.9 278,265.0 279,265.1 280,265.0 281,264.8 282,264.5 283,263.7 284,262.8 285,261.3 286,259.5 287,260.1 288,259.7 289,260.0 290,260.3 291,258.5 292,256.7 293,256.9 294,257.2 295,256.4 296,255.4 297,254.2 298,254.0 299,253.9 300,253.0 301,252.8 302,251.0 303,249.4 304,249.4 305,249.4 306,249.5 307,249.0 308,247.9 309,247.1 310,246.4 311,246.1 312,245.0 313,244.0 314,243.8 315,242.6 316,242.0 317,242.7 318,241.4 319,241.0 320,239.3 321,239.6 322,238.2 323,237.2 324,237.4 325,236.8 326,236.6 327,236.8 328,235.2 329,235.0 330,234.0 331,233.4 332,232.8 333,233.6 334,234.8 335,233.2 336,232.5 337,232.0 338,231.4 339,230.7 340,230.5 341,230.4 342,231.2 343,231.4 344,230.4 345,229.6 346,228.7 347,228.7 348,227.7 349,227.8 350,227.5 351,227.2 352,227.5 353,226.2 354,226.5 355,226.9 356,226.3 357,224.8 358,224.0 359,225.3 360,225.2 361,224.2 362,223.4 363,222.5 364,223.7 365,223.1 366,220.8 367,220.0 368,218.8 369,218.9 370,219.8 371,220.6 372,219.2 373,218.5 374,218.3 375,217.4 376,217.1 377,216.0 378,216.7 379,217.4 380,216.8 381,216.6 382,216.0 383,216.9 384,216.3 385,215.2 386,215.2 387,214.8 388,214.0 389,213.3 390,214.4 391,214.6 392,213.0 393,212.5 394,213.2 395,212.0 396,212.0 397,212.5 398,211.9 399,211.5 400,211.1 401,210.2 402,209.5 403,209.5 404,209.5 405,209.0 406,209.2 407,209.4 408,209.3 409,208.9 410,208.3 411,208.3 412,208.0 413,207.4 414,207.1 415,207.2 416,207.0 417,206.7 418,206.5 419,206.2 420,205.8 421,206.1 422,205.4 423,204.8 424,205.2 425,204.5 426,204.0 427,203.9 428,203.4 429,203.5 430,203.1 431,202.2 432,202.2 433,202.0 434,202.6 435,202.7 436,202.1 437,201.3 438,201.4 439,200.6 440,200.0 441,199.9 442,201.0 443,200.4 444,199.2 445,199.2 446,199.0 447,199.0 448,198.9 449,199.0 450,198.8 451,198.3 452,197.9 453,197.2 454,197.7 455,198.1 456,197.7 457,196.6 458,196.0 459,196.3 460,196.6 461,196.4 462,196.0 463,195.6 464,195.1 465,195.0 466,195.0 467,194.7 468,193.6 469,192.1 470,192.3 471,192.8 472,192.0 473,190.9 474,190.8 475,191.2 476,190.3 477,188.7 478,187.3 479,187.4 480,186.1 481,185.5 482,185.2 483,184.6 484,183.5 485,182.3 486,182.0 487,182.0 488,180.6 489,180.8 490,179.3 491,176.5 492,177.2 493,178.3 494,176.4 495,175.1 496,175.6 497,175.6 498,174.6 499,173.8 500,172.2 501,171.6 502,169.8 503,169.0 504,167.9 505,168.4 506,168.8 507,168.2 508,167.3 509,166.4 510,165.5 511,165.9 512,164.5 513,163.6 514,164.8 515,164.9 516,162.4 517,160.9 518,161.4 519,160.9 520,160.4 521,160.2 522,159.3 523,158.9 524,157.7 525,157.5 526,157.2 527,155.9 528,155.4 529,155.5 530,154.8 531,153.5 532,152.5 533,152.4 534,152.7 535,152.7 536,151.7 537,151.2 538,150.1 539,148.8 540,148.2 541,147.5 542,147.3 543,147.6 544,146.1 545,144.9 546,144.4 547,144.3 548,144.4 549,144.0 550,142.8 551,141.1 552,140.1 553,141.0 554,140.3 555,139.8 556,137.9 557,138.1 558,138.4 559,138.5 560,139.2 561,137.6 562,136.4 563,135.6 564,135.8 565,136.1 566,136.3 567,136.1 568,135.5 569,135.0 570,134.5 571,133.0 572,132.5 573,132.5 574,132.5 575,131.8 576,132.2 577,133.5 578,132.4 579,129.4 580,129.8 581,129.6 582,128.6 583,127.8 584,126.5 585,126.6 586,126.1 587,125.4 588,124.1 589,122.6 590,123.0 591,121.1 592,120.2 593,120.2 594,119.8 595,118.8 596,117.7 597,117.0 598,114.8 599,113.8 600,113.5 601,112.6 602,112.5 603,112.0 604,109.8 605,108.6 606,110.5 607,109.9 608,106.7 609,104.2 610,104.2 611,103.9 612,103.1 613,101.7 614,99.5 615,98.4 616,99.8 617,100.2 618,98.6 619,96.4 620,95.1 621,95.3 622,96.0 623,94.3 624,91.9 625,92.2 626,92.9 627,93.1 628,90.8 629,89.9 630,91.1 631,91.1 632,90.8 633,90.1 634,87.5 635,87.1 636,86.5 637,86.8 638,85.0 639,84.8 640,84.9 641,85.3 642,85.2 643,84.9 644,85.0 645,83.4 646,83.3 647,82.7 648,82.4 649,82.5 650,81.4 651,79.3 652,78.4 653,77.8 654,77.1 655,78.8 656,79.7 657,77.6 658,77.9 659,77.7 660,76.9 661,75.7 662,75.4 663,74.0 664,74.3 665,72.6 666,71.6 667,71.3 668,69.4 669,69.4 670,68.6 671,66.5 672,67.5 673,66.6 674,67.7 675,67.0 676,65.4 677,63.6 678,63.0 679,61.3 680,61.3 681,61.5 682,60.9 683,59.3 684,58.7 685,58.8 686,59.5 687,58.1 688,56.2 689,55.0 690,55.5 691,55.5 692,53.3 693,52.4 694,51.9 695,50.8 696,51.2 697,52.5 698,50.5 699,48.6 700,48.1 701,46.1 702,45.3 703,43.9 704,44.0 705,42.3 706,41.8 707,39.8 708,38.8 709,38.9 710,38.4 711,36.0 712,33.8 713,34.7"/><polyline stroke="#ffff00" points="125,372.3 126,373.2 127,372.7 128,371.5 129,370.0 130,368.9 131,369.4 132,369.0 133,366.5 134,364.3 135,364.3 136,365.2 137,365.3 138,364.1 139,361.8 140,362.1 141,361.9 142,361.8 143,362.2 144,359.6 145,358.0 146,357.7 147,356.8 148,355.3 149,353.3 150,353.5 151,352.8 152,350.8 153,349.5 154,349.6 155,350.2 156,348.7 157,346.4 158,345.5 159,344.6 160,343.8 161,343.3 162,341.9 163,340.4 164,338.6 165,338.0 166,336.4 167,335.3 168,336.4 169,335.5 170,334.2 171,334.1 172,332.6 173,331.0 174,328.6 175,327.3 176,327.3 177,327.7 178,327.0 179,325.4 180,323.2 181,322.3 182,322.2 183,320.8 184,319.5 185,319.2 186,319.1 187,318.9 188,318.9 189,318.1 190,317.1 191,317.2 192,316.7 193,316.1 194,316.0 195,314.2 196,313.5 197,312.5 198,311.7 199,312.0 200,313.2 201,312.0 202,310.6 203,310.0 204,309.0 205,308.9 206,308.5 207,307.1 208,308.4 209,308.8 210,308.2 211,307.1 212,306.9 213,306.2 214,305.7 215,305.9 216,306.6 217,305.8 218,305.8 219,306.0 220,305.4 221,302.6 222,301.3 223,302.0 224,302.5 225,301.8 226,300.6 227,300.9 228,301.5 229,300.7 230,299.5 231,298.6 232,298.2 233,299.0 234,297.1 235,296.1 236,295.6 237,294.8 238,295.0 239,293.9 240,294.2 241,293.5 242,290.9 243,290.5 244,290.1 245,291.0 246,290.9 247,289.9 248,290.3 249,289.3 250,288.2 251,286.8 252,288.1 253,289.7 254,288.5 255,287.1 256,285.0 257,284.2 258,285.1 259,286.4 260,285.2 261,283.8 262,283.0 263,282.1 264,281.4 265,279.4 266,280.4 267,280.5 268,279.2 269,279.5 270,279.4 271,278.2 272,278.6 273,276.3 274,275.7 275,275.7 276,274.4 277,273.2 278,271.7 279,270.5 280,270.3 281,267.8 282,267.5 283,268.2 284,267.7 285,266.7 286,264.0 287,262.5 288,262.3 289,261.4 290,260.6 291,261.1 292,260.4 293,258.5 294,259.0 295,259.1 296,258.5 297,258.0 298,257.1 299,256.3 300,254.8 301,254.1 302,254.5 303,253.4 304,251.7 305,252.2 306,253.2 307,252.8 308,251.8 309,251.2 310,249.6 311,248.2 312,246.8 313,246.4 314,246.0 315,245.3 316,245.3 317,244.1 318,242.0 319,241.3 320,239.9 321,240.4 322,240.1 323,239.4 324,237.7 325,237.0 326,236.2 327,235.6 328,236.0 329,235.0 330,233.7 331,232.7 332,232.3 333,232.8 334,232.7 335,232.7 336,232.3 337,231.0 338,231.0 339,231.1 340,230.6 341,230.4 342,230.9 343,229.4 344,228.9 345,229.6 346,228.6 347,228.8 348,227.6 349,227.4 350,226.9 351,226.6 352,226.2 353,226.2 354,225.7 355,225.9 356,226.2 357,225.1 358,224.6 359,223.5 360,223.4 361,222.6 362,221.8 363,221.7 364,220.9 365,220.3 366,220.8 367,220.4 368,219.7 369,219.7 370,219.0 371,218.3 372,218.2 373,218.1 374,219.0 375,216.6 376,216.7 377,217.8 378,217.8 379,217.1 380,216.1 381,215.9 382,215.6 383,215.2 384,215.3 385,215.8 386,215.7 387,215.9 388,215.7 389,214.9 390,213.6 391,213.0 392,213.2 393,213.4 394,213.2 395,212.6 396,212.1 397,211.6 398,210.8 399,210.8 400,211.2 401,210.9 402,210.6 403,209.9 404,209.4 405,209.5 406,209.0 407,208.5 408,208.2 409,208.0 410,208.3 411,207.9 412,207.4 413,207.7 414,207.6 415,207.5 416,206.6 417,206.4 418,206.7 419,206.2 420,206.1 421,205.9 422,205.9 423,205.7 424,205.4 425,205.1 426,204.8 427,204.6 428,203.9 429,203.8 430,204.2 431,204.2 432,203.3 433,203.1 434,203.1 435,203.1 436,202.5 437,202.4 438,202.0 439,201.8 440,202.0 441,202.4 442,202.1 443,201.6 444,200.7 445,200.4 446,200.5 447,199.9 448,199.6 449,199.2 450,199.5 451,199.4 452,199.5 453,199.1 454,198.5 455,197.8 456,198.0 457,198.5 458,198.8 459,198.2 460,197.1 461,197.4 462,198.0 463,198.7 464,199.1 465,197.5 466,196.5 467,196.6 468,195.7 469,195.6 470,194.8 471,194.6 472,194.6 473,194.1 474,193.1 475,191.9 476,191.6 477,191.6 478,191.0 479,190.8 480,190.1 481,189.6 482,188.1 483,185.3 484,184.8 485,184.2 486,182.8 487,182.5 488,181.9 489,179.6 490,178.1 491,177.9 492,178.4 493,178.3 494,177.1 495,176.2 496,174.6 497,174.7 498,174.2 499,173.6 500,172.7 501,172.3 502,171.1 503,170.5 504,170.5 505,169.2 506,170.1 507,170.2 508,168.6 509,167.0 510,166.4 511,166.4 512,166.1 513,164.0 514,162.0 515,163.1 516,162.9 517,161.9 518,161.2 519,162.0 520,162.3 521,160.9 522,159.2 523,158.1 524,158.5 525,158.7 526,158.4 527,158.4 528,157.9 529,157.8 530,158.0 531,157.9 532,156.5 533,155.6 534,153.1 535,152.5 536,152.7 537,152.4 538,151.7 539,152.1 540,151.9 541,150.9 542,150.2 543,149.1 544,146.9 545,147.2 546,148.2 547,148.7 548,147.7 549,147.3 550,147.5 551,146.5 552,146.2 553,145.4 554,144.7 555,144.1 556,143.8 557,143.4 558,143.9 559,143.6 560,142.7 561,142.0 562,140.2 563,139.3 564,139.4 565,139.1 566,138.4 567,138.4 568,138.2 569,136.8 570,135.1 571,133.5 572,134.0 573,134.7 574,134.7 575,135.5 576,134.4 577,131.5 578,130.6 579,130.8 580,129.3 581,126.8 582,126.4 583,127.0 584,125.1 585,124.3 586,123.9 587,123.5 588,123.3 589,121.8 590,119.6 591,119.2 592,119.0 593,117.8 594,116.3 595,115.0 596,115.5 597,116.1 598,114.7 599,113.2 600,111.6 601,109.5 602,110.0 603,109.0 604,108.6 605,109.0 606,107.0 607,107.5 608,106.4 609,105.4 610,105.6 611,104.7 612,104.5 613,105.1 614,103.7 615,101.8 616,100.9 617,101.8 618,101.5 619,100.6 620,99.5 621,98.9 622,98.0 623,97.3 624,96.5 625,96.1 626,94.7 627,94.3 628,93.9 629,93.6 630,93.9 631,93.3 632,92.0 633,90.4 634,88.2 635,88.3 636,87.3 637,86.1 638,86.8 639,87.2 640,87.2 641,86.6 642,85.0 643,83.2 644,83.8 645,82.3 646,81.6 647,81.1 648,79.8 649,79.0 650,77.8 651,77.3 652,77.3 653,78.2 654,78.4 655,76.7 656,76.8 657,76.7 658,76.0 659,73.3 660,73.0 661,72.7 662,71.5 663,70.4 664,71.1 665,71.7 666,70.3 667,68.7 668,68.4 669,68.3 670,67.2 671,66.8 672,66.3 673,65.8 674,64.1 675,63.1 676,62.3 677,61.6 678,60.4 679,58.4 680,56.9 681,58.8 682,59.2 683,57.8 684,57.2 685,56.4 686,56.6 687,55.9 688,54.6 689,54.1 690,52.9 691,54.0 692,54.2 693,52.3 694,50.5 695,50.5 696,49.6 697,48.3 698,48.0 699,48.0 700,48.3 701,47.5 702,45.1 703,44.1 704,42.8 705,44.1 706,43.3 707,41.5 708,41.3 709,40.6 710,41.0 711,41.5 712,42.8 713,42.1"/><polyline stroke="#ff0000" points="125,367.2 126,367.0 127,365.8 128,365.6 129,366.4 130,365.8 131,363.4 132,362.7 133,364.7 134,366.6 135,366.9 136,366.0 137,364.6 138,363.8 139,363.7 140,362.0 141,360.7 142,360.3 143,359.3 144,358.4 145,359.0 146,358.3 147,357.1 148,356.0 149,354.6 150,352.5 151,351.1 152,352.2 153,350.8 154,349.9 155,350.3 156,349.3 157,347.6 158,346.3 159,345.5 160,343.5 161,344.9 162,344.1 163,341.6 164,341.1 165,339.4 166,338.4 167,337.9 168,337.9 169,336.6 170,335.4 171,333.1 172,331.2 173,331.6 174,331.2 175,330.7 176,328.9 177,328.4 178,327.0 179,326.7 180,326.6 181,324.8 182,322.8 183,322.7 184,322.3 185,321.3 186,320.5 187,320.5 188,319.2 189,316.4 190,317.4 191,316.3 192,314.5 193,314.2 194,314.2 195,314.3 196,313.3 197,313.6 198,312.3 199,311.9 200,309.8 201,308.4 202,307.2 203,306.9 204,306.4 205,307.2 206,306.2 207,306.5 208,305.9 209,306.6 210,304.3 211,304.4 212,304.4 213,307.3 214,306.6 215,304.3 216,302.8 217,302.3 218,302.2 219,302.4 220,302.8 221,303.4 222,302.5 223,301.2 224,301.1 225,301.2 226,299.3 227,299.1 228,298.9 229,299.0 230,299.3 231,299.3 232,299.4 233,298.5 234,296.7 235,296.2 236,296.4 237,295.2 238,294.9 239,294.3 240,294.3 241,294.6 242,294.8 243,294.4 244,293.6 245,292.0 246,290.7 247,290.0 248,289.3 249,289.9 250,290.0 251,289.5 252,287.2 253,285.4 254,285.2 255,284.8 256,284.0 257,283.8 258,282.0 259,281.0 260,281.5 261,280.7 262,281.6 263,279.7 264,278.8 265,277.5 266,276.3 267,276.1 268,276.7 269,274.8 270,272.9 271,273.7 272,272.5 273,270.9 274,269.4 275,268.3 276,266.7 277,265.5 278,264.3 279,264.7 280,262.9 281,263.5 282,263.0 283,262.0 284,261.2 285,259.5 286,259.5 287,258.2 288,256.5 289,256.9 290,256.4 291,254.9 292,253.4 293,253.6 294,253.8 295,253.0 296,252.4 297,251.5 298,250.5 299,249.7 300,249.7 301,249.8 302,249.1 303,248.6 304,248.0 305,246.2 306,246.0 307,247.0 308,246.4 309,246.2 310,245.2 311,243.7 312,242.5 313,241.2 314,240.9 315,240.9 316,240.7 317,240.4 318,240.8 319,239.9 320,239.8 321,238.8 322,239.0 323,239.6 324,239.7 325,239.6 326,237.6 327,236.7 328,236.8 329,236.1 330,236.1 331,236.3 332,236.9 333,237.9 334,238.2 335,238.8 336,239.1 337,237.5 338,237.1 339,237.8 340,237.9 341,236.6 342,235.8 343,235.7 344,234.9 345,234.6 346,234.1 347,233.9 348,233.5 349,232.3 350,231.9 351,231.9 352,231.8 353,231.6 354,231.1 355,230.5 356,230.0 357,229.0 358,229.2 359,229.6 360,228.0 361,228.0 362,227.5 363,226.8 364,225.4 365,224.9 366,224.6 367,225.2 368,223.2 369,222.3 370,221.6 371,221.8 372,222.8 373,221.8 374,220.9 375,219.4 376,218.9 377,219.6 378,220.2 379,218.8 380,217.5 381,216.9 382,217.4 383,217.1 384,216.6 385,216.1 386,215.7 387,215.0 388,214.2 389,214.3 390,213.4 391,212.0 392,211.4 393,211.6 394,211.7 395,211.8 396,211.9 397,211.5 398,210.4 399,209.5 400,210.1 401,209.7 402,209.0 403,209.2 404,209.4 405,208.9 406,208.9 407,208.6 408,208.5 409,208.0 410,207.6 411,207.2 412,207.1 413,206.6 414,206.6 415,206.6 416,206.1 417,205.8 418,205.8 419,206.0 420,205.6 421,205.2 422,205.2 423,205.4 424,205.6 425,204.8 426,204.4 427,204.4 428,204.2 429,203.8 430,203.5 431,202.8 432,203.0 433,203.0 434,202.1 435,201.9 436,202.1 437,201.4 438,201.2 439,201.5 440,202.1 441,201.4 442,200.1 443,200.5 444,200.2 445,199.8 446,199.3 447,198.6 448,198.5 449,198.3 450,198.0 451,198.0 452,197.7 453,197.2 454,197.0 455,197.1 456,196.5 457,196.2 458,195.0 459,194.8 460,195.0 461,195.3 462,195.7 463,195.0 464,194.1 465,193.8 466,193.5 467,193.7 468,193.2 469,192.4 470,191.4 471,190.8 472,191.0 473,191.2 474,190.0 475,189.1 476,188.7 477,187.4 478,187.7 479,188.3 480,187.3 481,186.0 482,186.7 483,185.8 484,184.3 485,183.4 486,182.2 487,181.5 488,181.5 489,180.0 490,180.5 491,180.7 492,179.2 493,179.4 494,180.2 495,179.2 496,177.4 497,177.1 498,176.6 499,177.1 500,176.0 501,173.9 502,174.2 503,173.3 504,171.1 505,171.7 506,171.6 507,171.7 508,170.4 509,169.5 510,166.6 511,165.7 512,166.7 513,166.0 514,165.0 515,164.4 516,163.7 517,162.8 518,161.9 519,162.1 520,162.3 521,161.5 522,160.3 523,159.5 524,158.9 525,157.5 526,156.8 527,156.1 528,156.4 529,157.2 530,156.2 531,155.2 532,154.7 533,152.9 534,153.5 535,153.8 536,153.1 537,152.6 538,151.8 539,151.5 540,149.6 541,148.9 542,148.5 543,149.0 544,148.6 545,147.8 546,148.5 547,148.3 548,147.2 549,145.7 550,145.4 551,144.7 552,143.3 553,143.1 554,143.7 555,142.9 556,142.3 557,142.6 558,142.3 559,141.4 560,140.9 561,140.7 562,140.8 563,140.4 564,140.0 565,140.5 566,140.1 567,139.9 568,139.1 569,138.6 570,138.4 571,137.8 572,136.9 573,136.2 574,136.0 575,135.2 576,135.0 577,135.6 578,134.8 579,133.1 580,132.2 581,132.8 582,133.2 583,131.5 584,130.8 585,129.9 586,129.0 587,130.0 588,128.5 589,127.4 590,127.1 591,126.4 592,125.7 593,124.6 594,124.1 595,122.3 596,121.7 597,120.8 598,119.3 599,118.2 600,118.5 601,116.8 602,116.2 603,112.3 604,110.3 605,110.0 606,109.9 607,109.5 608,108.0 609,105.1 610,105.1 611,105.1 612,102.1 613,101.2 614,100.9 615,100.0 616,99.3 617,97.0 618,97.2 619,97.4 620,96.9 621,95.5 622,95.2 623,94.1 624,93.2 625,92.1 626,91.2 627,91.0 628,91.2 629,91.5 630,91.0 631,89.8 632,88.5 633,87.3 634,87.5 635,86.9 636,85.9 637,86.3 638,86.4 639,86.1 640,85.5 641,84.4 642,83.6 643,82.4 644,82.6 645,82.8 646,82.6 647,82.0 648,81.7 649,82.0 650,80.4 651,79.8 652,79.4 653,79.0 654,78.5 655,77.8 656,75.8 657,74.3 658,75.6 659,76.4 660,76.2 661,74.3 662,74.4 663,73.3 664,72.6 665,72.4 666,72.1 667,71.0 668,69.2 669,69.0 670,68.9 671,68.5 672,68.0 673,66.9 674,66.3 675,66.8 676,66.2 677,64.7 678,64.3 679,62.1 680,61.3 681,62.4 682,62.1 683,61.3 684,60.4 685,59.1 686,58.0 687,57.0 688,55.9 689,56.7 690,57.6 691,56.2 692,56.4 693,55.9 694,53.1 695,52.1 696,51.5 697,51.4 698,49.9 699,48.5 700,49.2 701,48.4 702,46.2 703,45.4 704,45.0 705,44.0 706,44.4 707,43.2 708,42.9 709,43.0 710,44.2 711,44.3 712,44.3 713,44.6"/><polyline stroke="#ffff00" points="125,362.1 126,362.6 127,361.8 128,358.9 129,359.1 130,360.0 131,360.0 132,360.8 133,359.8 134,359.2 135,358.6 136,357.8 137,356.6 138,356.3 139,356.5 140,355.7 141,353.8 142,352.3 143,352.3 144,352.8 145,352.0 146,350.8 147,351.8 148,351.7 149,350.3 150,348.2 151,346.9 152,345.7 153,345.4 154,345.9 155,345.8 156,343.9 157,341.1 158,341.1 159,342.2 160,341.8 161,340.7 162,338.4 163,336.9 164,336.5 165,335.6 166,335.5 167,335.0 168,336.1 169,334.0 170,331.5 171,332.1 172,331.7 173,332.2 174,331.1 175,330.2 176,327.8 177,328.2 178,327.9 179,327.2 180,325.4 181,323.8 182,322.4 183,322.0 184,321.8 185,321.3 186,320.7 187,319.9 188,318.6 189,319.7 190,320.5 191,317.7 192,314.5 193,315.5 194,316.4 195,315.5 196,314.5 197,313.0 198,312.5 199,312.5 200,311.6 201,312.2 202,311.7 203,310.5 204,308.5 205,309.6 206,308.6 207,307.5 208,308.6 209,308.1 210,306.8 211,306.7 212,307.2 213,307.9 214,306.6 215,306.2 216,305.9 217,305.2 218,305.9 219,304.3 220,304.5 221,304.7 222,302.5 223,302.2 224,303.5 225,304.3 226,303.4 227,303.1 228,303.8 229,302.5 230,300.9 231,300.8 232,300.8 233,300.0 234,298.3 235,297.1 236,297.1 237,296.9 238,296.2 239,294.8 240,293.2 241,294.4 242,294.4 243,292.5 244,290.8 245,293.3 246,293.3 247,292.0 248,290.4 249,289.0 250,289.3 251,290.1 252,289.4 253,287.9 254,288.4 255,286.5 256,285.3 257,285.3 258,285.6 259,284.6 260,286.1 261,285.9 262,284.2 263,283.6 264,283.3 265,281.9 266,281.4 267,281.2 268,280.4 269,280.0 270,280.5 271,278.5 272,276.5 273,275.5 274,274.4 275,273.8 276,272.6 277,271.3 278,270.4 279,269.7 280,269.4 281,269.2 282,269.9 283,267.1 284,264.6 285,265.4 286,264.4 287,264.3 288,263.7 289,261.7 290,260.8 291,260.0 292,258.9 293,259.9 294,258.7 295,256.9 296,258.3 297,257.8 298,256.7 299,255.6 300,256.0 301,254.9 302,252.9 303,252.2 304,252.8 305,253.9 306,252.6 307,251.0 308,250.9 309,249.8 310,249.6 311,249.9 312,249.0 313,248.1 314,246.8 315,246.8 316,247.1 317,246.7 318,246.6 319,244.5 320,243.3 321,242.0 322,240.6 323,241.0 324,240.1 325,240.2 326,239.1 327,238.8 328,239.1 329,239.0 330,238.9 331,239.3 332,238.8 333,239.7 334,237.8 335,237.3 336,237.8 337,237.6 338,236.7 339,235.9 340,234.0 341,233.9 342,235.0 343,235.3 344,234.9 345,233.7 346,232.8 347,233.1 348,233.7 349,232.9 350,232.2 351,231.8 352,231.1 353,231.8 354,231.4 355,230.4 356,229.8 357,230.1 358,229.0 359,227.5 360,227.2 361,227.1 362,225.8 363,225.0 364,225.3 365,225.4 366,224.5 367,222.8 368,222.3 369,221.6 370,221.6 371,221.4 372,221.8 373,221.8 374,220.1 375,218.5 376,218.5 377,218.1 378,218.3 379,217.1 380,217.0 381,216.8 382,216.8 383,215.8 384,215.1 385,214.8 386,216.0 387,215.1 388,214.4 389,213.3 390,212.1 391,211.7 392,211.1 393,211.3 394,211.9 395,211.1 396,209.9 397,209.3 398,209.7 399,209.4 400,208.3 401,207.2 402,207.2 403,208.3 404,207.9 405,207.0 406,207.4 407,206.9 408,207.2 409,207.0 410,207.1 411,206.9 412,206.4 413,206.8 414,206.5 415,205.7 416,206.0 417,206.4 418,206.0 419,205.5 420,205.2 421,205.1 422,205.3 423,205.3 424,205.2 425,205.1 426,204.9 427,204.3 428,204.5 429,204.7 430,204.1 431,203.7 432,204.0 433,203.6 434,202.4 435,202.4 436,202.9 437,203.1 438,202.4 439,201.7 440,201.9 441,201.9 442,200.4 443,200.0 444,200.8 445,200.8 446,200.9 447,200.7 448,199.8 449,199.9 450,199.8 451,198.8 452,198.4 453,197.8 454,197.3 455,197.3 456,197.6 457,197.2 458,197.1 459,196.9 460,196.8 461,196.2 462,196.1 463,196.6 464,195.9 465,196.2 466,196.6 467,196.1 468,194.4 469,193.7 470,194.0 471,193.7 472,192.3 473,191.5 474,191.9 475,192.8 476,192.0 477,191.7 478,190.4 479,189.5 480,187.9 481,186.4 482,186.9 483,185.2 484,182.7 485,183.4 486,183.6 487,182.8 488,182.5 489,181.1 490,179.9 491,179.4 492,178.8 493,177.4 494,176.5 495,176.5 496,177.1 497,176.4 498,175.1 499,174.3 500,174.1 501,172.4 502,170.9 503,171.5 504,171.7 505,171.3 506,170.5 507,169.0 508,167.0 509,168.4 510,167.7 511,166.6 512,166.8 513,165.9 514,163.9 515,162.3 516,162.7 517,162.5 518,162.2 519,161.6 520,161.2 521,158.8 522,158.8 523,157.5 524,156.4 525,156.3 526,157.0 527,157.0 528,154.9 529,155.4 530,155.6 531,155.0 532,153.8 533,154.6 534,153.9 535,153.3 536,152.1 537,151.9 538,151.5 539,150.5 540,150.6 541,150.0 542,148.6 543,147.9 544,149.1 545,148.7 546,147.7 547,146.4 548,144.0 549,144.9 550,144.6 551,144.2 552,144.4 553,143.5 554,141.8 555,141.6 556,141.2 557,141.4 558,142.1 559,140.8 560,140.2 561,139.5 562,138.2 563,138.1 564,139.1 565,138.9 566,137.8 567,138.3 568,137.2 569,136.9 570,137.5 571,138.2 572,137.9 573,137.0 574,136.5 575,135.7 576,134.9 577,134.2 578,133.4 579,132.8 580,132.2 581,133.0 582,132.8 583,133.3 584,133.8 585,133.3 586,131.4 587,130.5 588,129.1 589,128.5 590,127.0 591,125.6 592,124.9 593,124.9 594,124.5 595,122.2 596,122.0 597,119.8 598,119.1 599,119.7 600,119.0 601,116.5 602,113.3 603,111.5 604,112.0 605,109.9 606,108.6 607,108.7 608,108.5 609,107.5 610,106.9 611,104.7 612,103.4 613,101.8 614,101.4 615,101.0 616,101.2 617,99.1 618,97.8 619,98.6 620,95.6 621,94.2 622,94.9 623,94.7 624,93.2 625,92.9 626,94.7 627,93.3 628,90.3 629,90.2 630,89.9 631,89.1 632,88.9 633,87.2 634,86.4 635,87.0 636,86.4 637,84.7 638,85.0 639,84.1 640,82.1 641,80.4 642,79.9 643,80.9 644,79.1 645,78.8 646,79.8 647,80.3 648,79.1 649,77.7 650,77.8 651,77.2 652,77.7 653,77.1 654,74.6 655,74.6 656,75.0 657,75.0 658,74.9 659,74.3 660,72.4 661,70.6 662,71.0 663,70.9 664,70.0 665,68.2 666,66.4 667,65.4 668,67.1 669,66.5 670,64.8 671,64.7 672,64.5 673,62.1 674,63.2 675,64.7 676,63.9 677,61.6 678,59.8 679,59.3 680,59.4 681,58.1 682,56.7 683,55.7 684,55.7 685,54.8 686,54.5 687,56.5 688,55.5 689,52.6 690,53.0 691,53.1 692,52.0 693,51.7 694,49.7 695,47.9 696,48.2 697,47.4 698,47.5 699,47.3 700,46.4 701,46.8 702,45.0 703,43.2 704,43.2 705,43.0 706,43.1 707,41.5 708,40.6 709,40.4 710,41.2 711,42.2 712,43.0 713,43.8"/><polyline stroke="#ffc0c0" points="125,365.4 126,365.2 127,364.3 128,363.0 129,363.0 130,363.0 131,362.8 132,362.2 133,362.4 134,362.0 135,362.0 136,361.0 137,359.4 138,359.0 139,358.0 140,357.1 141,357.6 142,356.9 143,355.7 144,354.4 145,352.6 146,351.1 147,350.8 148,351.8 149,352.7 150,351.3 151,349.3 152,348.1 153,347.7 154,346.9 155,345.4 156,345.3 157,344.8 158,343.4 159,341.7 160,339.8 161,337.8 162,338.9 163,338.6 164,336.2 165,335.0 166,335.0 167,335.8 168,335.3 169,333.5 170,332.4 171,331.2 172,331.5 173,331.1 174,331.2 175,330.2 176,329.0 177,327.2 178,327.3 179,326.0 180,324.6 181,324.7 182,325.3 183,322.9 184,320.5 185,318.4 186,318.8 187,318.0 188,318.6 189,317.5 190,315.9 191,315.9 192,314.9 193,315.3 194,316.1 195,314.4 196,313.5 197,312.3 198,311.2 199,312.4 200,312.7 201,311.7 202,311.3 203,309.8 204,309.6 205,309.7 206,310.0 207,310.5 208,309.2 209,308.7 210,310.1 211,309.9 212,309.9 213,308.7 214,307.4 215,307.7 216,307.6 217,307.3 218,307.6 219,306.8 220,306.7 221,306.8 222,306.4 223,304.1 224,303.2 225,303.3 226,302.6 227,301.6 228,301.0 229,299.7 230,300.3 231,299.9 232,299.6 233,300.4 234,299.6 235,299.0 236,296.8 237,296.0 238,295.2 239,293.5 240,293.4 241,293.9 242,293.0 243,293.5 244,294.2 245,292.5 246,290.5 247,290.5 248,291.0 249,289.9 250,287.8 251,288.3 252,288.0 253,288.4 254,287.1 255,285.5 256,285.4 257,284.1 258,283.8 259,282.5 260,282.0 261,282.0 262,281.4 263,279.1 264,277.8 265,277.3 266,278.3 267,277.4 268,277.1 269,277.0 270,276.0 271,275.7 272,275.2 273,274.4 274,271.8 275,270.1 276,270.1 277,268.9 278,268.0 279,269.4 280,270.2 281,267.7 282,265.1 283,264.8 284,263.8 285,263.5 286,262.6 287,262.5 288,262.0 289,262.1 290,261.4 291,260.6 292,258.4 293,257.8 294,258.0 295,256.4 296,255.3 297,254.8 298,256.1 299,256.7 300,255.9 301,255.4 302,255.3 303,255.1 304,253.9 305,253.5 306,252.0 307,251.1 308,251.5 309,250.0 310,249.0 311,248.4 312,248.0 313,246.9 314,246.6 315,244.4 316,243.7 317,244.1 318,244.2 319,244.1 320,243.6 321,241.5 322,241.1 323,240.2 324,238.5 325,238.1 326,238.1 327,237.7 328,236.5 329,234.9 330,233.5 331,234.0 332,234.0 333,232.4 334,232.7 335,233.5 336,232.7 337,230.7 338,229.9 339,230.9 340,230.6 341,229.9 342,230.5 343,230.7 344,230.0 345,229.6 346,229.0 347,228.1 348,226.9 349,228.0 350,228.5 351,228.9 352,228.5 353,227.9 354,227.2 355,226.4 356,225.7 357,225.4 358,225.6 359,225.1 360,224.6 361,224.5 362,224.4 363,222.6 364,222.0 365,221.8 366,221.5 367,222.0 368,221.0 369,219.9 370,220.8 371,220.9 372,220.7 373,220.1 374,218.0 375,217.9 376,216.6 377,217.4 378,217.9 379,217.6 380,217.5 381,216.8 382,216.0 383,215.5 384,215.1 385,213.5 386,213.4 387,213.7 388,213.7 389,213.0 390,213.1 391,212.0 392,211.5 393,210.4 394,210.7 395,210.8 396,210.7 397,210.1 398,210.4 399,210.1 400,209.0 401,208.8 402,209.0 403,209.9 404,209.7 405,208.7 406,207.9 407,207.0 408,207.3 409,208.1 410,208.0 411,207.6 412,207.5 413,207.5 414,207.7 415,207.6 416,207.0 417,206.4 418,206.0 419,206.0 420,205.2 421,205.1 422,205.5 423,205.4 424,205.2 425,204.6 426,204.5 427,204.5 428,204.3 429,204.0 430,204.0 431,204.0 432,203.8 433,202.8 434,202.3 435,202.2 436,202.5 437,202.0 438,201.7 439,201.8 440,201.9 441,201.1 442,201.1 443,201.1 444,200.5 445,200.5 446,200.0 447,199.4 448,199.2 449,199.1 450,198.3 451,198.5 452,198.1 453,197.7 454,197.3 455,197.2 456,196.7 457,195.8 458,196.2 459,196.3 460,195.7 461,195.8 462,196.1 463,196.2 464,195.4 465,194.5 466,193.7 467,194.1 468,194.4 469,194.1 470,193.2 471,192.6 472,192.5 473,192.7 474,191.5 475,190.4 476,189.9 477,190.1 478,189.4 479,189.7 480,189.3 481,189.2 482,187.1 483,185.5 484,184.0 485,184.2 486,185.0 487,185.3 488,185.4 489,184.4 490,181.9 491,181.5 492,181.7 493,181.4 494,180.1 495,178.4 496,178.3 497,178.9 498,178.2 499,177.4 500,175.6 501,175.0 502,175.6 503,175.7 504,174.1 505,172.6 506,171.1 507,171.6 508,171.8 509,170.6 510,168.9 511,168.9 512,168.0 513,166.4 514,165.1 515,164.7 516,163.5 517,163.4 518,163.2 519,161.9 520,161.3 521,159.9 522,159.3 523,159.2 524,159.0 525,157.8 526,158.1 527,157.3 528,156.8 529,156.0 530,155.2 531,155.2 532,156.7 533,155.3 534,152.7 535,152.6 536,153.5 537,152.5 538,150.8 539,149.3 540,148.5 541,148.9 542,149.2 543,148.4 544,148.0 545,148.0 546,146.3 547,144.7 548,144.6 549,144.7 550,143.8 551,144.5 552,145.2 553,144.5 554,143.5 555,142.0 556,141.5 557,141.7 558,141.4 559,138.9 560,138.6 561,139.4 562,139.5 563,139.1 564,138.4 565,138.8 566,138.2 567,137.5 568,137.2 569,137.3 570,136.5 571,136.3 572,136.5 573,136.8 574,135.4 575,134.5 576,134.9 577,134.8 578,134.1 579,132.8 580,132.9 581,133.8 582,133.0 583,132.1 584,132.5 585,132.0 586,131.6 587,128.9 588,129.4 589,129.9 590,128.3 591,126.9 592,126.1 593,125.0 594,125.5 595,125.2 596,125.1 597,123.6 598,122.3 599,120.4 600,118.6 601,118.3 602,116.0 603,114.1 604,113.3 605,114.2 606,113.6 607,112.4 608,110.4 609,109.7 610,111.2 611,110.5 612,108.2 613,105.5 614,105.9 615,105.2 616,103.6 617,103.7 618,103.3 619,102.6 620,101.8 621,100.8 622,99.5 623,99.9 624,99.0 625,97.8 626,96.9 627,96.2 628,96.2 629,95.2 630,93.4 631,92.2 632,91.9 633,91.6 634,90.7 635,90.4 636,89.3 637,88.6 638,88.2 639,87.9 640,87.6 641,88.3 642,85.5 643,85.6 644,85.9 645,85.1 646,85.7 647,85.6 648,85.5 649,84.6 650,83.4 651,82.4 652,81.8 653,81.2 654,80.3 655,80.8 656,79.2 657,78.6 658,79.2 659,79.3 660,78.5 661,77.5 662,77.6 663,76.6 664,73.3 665,73.4 666,73.0 667,72.4 668,71.7 669,70.9 670,69.7 671,70.2 672,68.8 673,69.1 674,69.1 675,68.0 676,66.4 677,66.2 678,65.4 679,64.3 680,61.8 681,60.9 682,61.5 683,62.3 684,60.8 685,59.9 686,60.5 687,58.9 688,56.9 689,56.0 690,55.8 691,55.2 692,54.1 693,53.0 694,52.0 695,52.0 696,52.6 697,52.5 698,50.5 699,48.7 700,48.0 701,46.4 702,44.9 703,43.1 704,41.8 705,42.2 706,42.3 707,42.9 708,42.9 709,43.2 710,42.6 711,41.0 712,40.2 713,38.8"/><polyline stroke="#ffffff" points="125,366.9 126,367.3 127,366.4 128,365.9 129,364.7 130,365.3 131,365.9 132,366.0 133,364.9 134,365.0 135,364.2 136,363.3 137,362.9 138,363.0 139,363.7 140,362.8 141,361.1 142,360.9 143,360.1 144,358.5 145,358.2 146,359.0 147,356.9 148,354.3 149,354.7 150,353.6 151,353.9 152,352.3 153,351.7 154,350.6 155,349.4 156,349.8 157,347.0 158,345.4 159,346.4 160,345.3 161,344.6 162,342.6 163,340.2 164,340.2 165,339.9 166,338.2 167,337.3 168,336.0 169,333.9 170,332.1 171,333.5 172,332.0 173,330.4 174,330.3 175,328.4 176,326.2 177,325.5 178,325.7 179,325.1 180,324.4 181,322.7 182,321.6 183,319.5 184,319.0 185,318.2 186,318.0 187,318.4 188,316.9 189,316.3 190,314.2 191,314.5 192,316.9 193,315.8 194,315.6 195,314.0 196,312.9 197,311.6 198,311.2 199,312.8 200,312.7 201,312.1 202,311.6 203,310.4 204,310.1 205,309.1 206,308.8 207,308.5 208,308.2 209,308.3 210,308.4 211,308.0 212,306.6 213,306.8 214,306.9 215,307.1 216,306.5 217,307.5 218,307.3 219,304.3 220,303.7 221,305.4 222,306.5 223,304.9 224,304.1 225,302.1 226,300.3 227,300.3 228,301.0 229,300.9 230,298.5 231,296.8 232,299.1 233,298.1 234,297.4 235,296.1 236,295.5 237,293.8 238,292.1 239,290.3 240,290.9 241,290.4 242,291.3 243,290.1 244,289.5 245,290.8 246,290.3 247,288.9 248,287.2 249,285.3 250,285.4 251,285.5 252,286.0 253,285.5 254,285.8 255,285.0 256,284.8 257,284.9 258,285.1 259,283.1 260,282.5 261,282.7 262,283.9 263,284.5 264,283.2 265,282.4 266,281.0 267,279.9 268,279.8 269,280.1 270,280.1 271,278.9 272,278.3 273,277.7 274,276.5 275,277.2 276,276.4 277,274.2 278,272.6 279,271.6 280,270.3 281,270.0 282,269.1 283,267.2 284,267.6 285,265.2 286,262.9 287,264.0 288,263.0 289,263.0 290,261.8 291,260.7 292,260.2 293,260.6 294,259.3 295,257.3 296,256.7 297,256.1 298,255.9 299,255.8 300,256.1 301,253.4 302,252.3 303,253.6 304,252.8 305,251.7 306,250.6 307,251.2 308,250.5 309,249.8 310,249.4 311,248.6 312,246.4 313,245.4 314,245.4 315,245.8 316,244.8 317,244.2 318,243.5 319,242.8 320,242.8 321,242.7 322,242.6 323,241.5 324,241.5 325,241.0 326,240.5 327,240.7 328,239.9 329,238.7 330,239.5 331,238.4 332,237.2 333,238.5 334,239.9 335,239.3 336,237.4 337,237.1 338,237.1 339,237.6 340,237.9 341,236.7 342,235.4 343,234.6 344,234.3 345,234.5 346,234.5 347,234.5 348,234.8 349,233.1 350,231.4 351,232.3 352,232.1 353,231.2 354,230.4 355,230.2 356,229.2 357,228.6 358,227.5 359,227.1 360,225.5 361,224.3 362,223.1 363,223.4 364,224.1 365,223.0 366,223.0 367,222.5 368,221.5 369,220.7 370,220.7 371,219.8 372,219.7 373,218.4 374,218.2 375,219.1 376,218.6 377,218.7 378,216.6 379,215.3 380,215.4 381,216.1 382,215.3 383,214.1 384,214.2 385,215.7 386,215.3 387,213.3 388,212.7 389,213.0 390,212.9 391,212.8 392,212.5 393,211.8 394,211.4 395,211.3 396,210.9 397,210.8 398,210.7 399,210.9 400,210.2 401,210.3 402,210.6 403,209.9 404,209.3 405,209.0 406,208.3 407,208.7 408,208.7 409,208.5 410,208.3 411,208.6 412,208.3 413,207.9 414,208.1 415,207.6 416,207.0 417,207.1 418,207.4 419,207.2 420,206.9 421,206.7 422,207.1 423,207.8 424,207.4 425,206.7 426,206.5 427,206.2 428,206.3 429,206.1 430,205.7 431,205.6 432,205.6 433,205.2 434,204.4 435,204.4 436,204.2 437,204.3 438,204.3 439,203.7 440,203.3 441,203.7 442,203.5 443,202.3 444,202.5 445,202.2 446,201.8 447,201.3 448,201.5 449,200.2 450,199.9 451,199.2 452,199.2 453,199.4 454,199.2 455,198.4 456,198.0 457,197.8 458,197.3 459,197.2 460,196.9 461,196.2 462,195.5 463,195.3 464,195.6 465,196.1 466,195.3 467,194.2 468,194.6 469,194.5 470,194.5 471,193.8 472,192.3 473,191.0 474,191.5 475,191.3 476,191.0 477,190.9 478,190.7 479,188.9 480,187.5 481,188.7 482,188.0 483,187.4 484,187.0 485,184.5 486,184.6 487,184.6 488,183.8 489,182.8 490,182.8 491,181.2 492,180.5 493,180.3 494,180.2 495,180.3 496,178.3 497,178.7 498,176.9 499,176.9 500,178.3 501,176.8 502,175.4 503,175.2 504,174.5 505,172.5 506,172.5 507,172.3 508,172.0 509,170.6 510,170.0 511,170.3 512,169.5 513,168.1 514,165.1 515,165.6 516,166.6 517,166.6 518,165.2 519,162.7 520,162.5 521,162.1 522,162.9 523,162.0 524,161.3 525,159.3 526,157.7 527,158.3 528,158.1 529,157.7 530,156.8 531,156.4 532,155.3 533,154.6 534,154.5 535,153.6 536,153.1 537,153.5 538,151.5 539,149.4 540,148.4 541,148.6 542,148.8 543,148.4 544,146.7 545,145.5 546,145.9 547,146.1 548,146.4 549,143.9 550,143.2 551,143.7 552,143.8 553,142.6 554,140.9 555,139.7 556,139.2 557,141.1 558,139.9 559,139.0 560,137.9 561,136.4 562,135.8 563,136.4 564,137.4 565,137.7 566,136.6 567,136.9 568,136.8 569,136.4 570,134.5 571,133.2 572,133.3 573,133.2 574,132.7 575,132.8 576,132.1 577,131.8 578,131.9 579,130.8 580,130.7 581,130.2 582,128.5 583,128.9 584,127.1 585,126.2 586,128.1 587,128.0 588,126.0 589,125.1 590,123.9 591,123.4 592,122.4 593,121.3 594,120.8 595,120.9 596,120.6 597,118.0 598,117.7 599,117.8 600,116.2 601,115.0 602,112.8 603,112.6 604,113.3 605,113.0 606,112.5 607,111.2 608,110.4 609,109.0 610,107.8 611,106.5 612,107.8 613,107.2 614,105.2 615,103.5 616,102.6 617,104.3 618,102.8 619,102.6 620,103.3 621,101.4 622,100.8 623,99.9 624,98.1 625,96.8 626,95.5 627,95.0 628,93.8 629,94.7 630,93.6 631,91.0 632,91.0 633,91.5 634,91.0 635,90.7 636,88.8 637,87.0 638,86.1 639,85.5 640,86.7 641,85.0 642,84.1 643,83.0 644,82.8 645,82.4 646,82.5 647,81.3 648,80.8 649,79.7 650,79.8 651,81.3 652,79.4 653,78.2 654,76.8 655,75.0 656,76.3 657,75.8 658,74.5 659,74.8 660,74.1 661,73.3 662,73.5 663,73.0 664,71.2 665,68.7 666,68.1 667,68.5 668,68.9 669,68.1 670,67.2 671,65.6 672,66.0 673,66.2 674,64.2 675,62.9 676,62.7 677,64.4 678,61.9 679,60.6 680,61.4 681,59.8 682,57.8 683,58.4 684,57.2 685,56.8 686,56.6 687,55.0 688,55.3 689,55.9 690,53.1 691,52.6 692,52.6 693,52.4 694,51.0 695,50.2 696,50.0 697,48.4 698,48.5 699,48.9 700,47.4 701,46.2 702,45.4 703,44.4 704,42.5 705,42.2 706,40.7 707,42.1 708,41.5 709,40.2 710,40.3 711,40.4 712,40.7 713,43.6"/><polyline stroke="#808000" points="125,369.9 126,368.7 127,369.9 128,370.4 129,370.3 130,368.6 131,366.0 132,365.1 133,366.2 134,366.7 135,365.2 136,363.8 137,362.2 138,359.9 139,358.5 140,360.3 141,360.2 142,360.3 143,359.7 144,358.3 145,356.6 146,355.0 147,353.9 148,352.9 149,353.3 150,353.5 151,351.4 152,351.0 153,351.1 154,349.7 155,349.1 156,346.9 157,346.5 158,345.4 159,344.1 160,342.9 161,341.8 162,341.9 163,341.4 164,339.5 165,340.4 166,338.9 167,339.1 168,339.1 169,337.6 170,337.0 171,335.7 172,335.9 173,335.4 174,335.1 175,333.7 176,330.6 177,328.5 178,328.5 179,328.0 180,326.5 181,325.5 182,327.7 183,326.6 184,323.7 185,323.6 186,323.5 187,321.6 188,321.0 189,319.3 190,320.0 191,318.7 192,317.1 193,316.4 194,317.1 195,316.5 196,315.3 197,313.9 198,312.4 199,312.5 200,311.7 201,310.1 202,309.9 203,308.7 204,308.7 205,308.0 206,307.3 207,306.6 208,303.4 209,304.9 210,305.3 211,303.6 212,303.9 213,303.6 214,304.3 215,304.1 216,302.8 217,303.3 218,303.6 219,301.9 220,302.1 221,301.9 222,301.5 223,299.6 224,299.5 225,300.4 226,300.8 227,299.3 228,298.1 229,298.6 230,298.7 231,297.4 232,296.1 233,296.3 234,295.8 235,294.9 236,293.9 237,292.2 238,292.3 239,293.1 240,292.3 241,292.1 242,291.5 243,290.6 244,291.5 245,290.9 246,289.6 247,289.0 248,288.1 249,287.2 250,286.7 251,287.7 252,286.6 253,284.4 254,283.2 255,284.2 256,285.2 257,284.3 258,282.6 259,282.0 260,282.6 261,280.8 262,279.0 263,278.7 264,280.3 265,279.8 266,278.5 267,278.0 268,279.3 269,278.8 270,277.2 271,276.6 272,275.8 273,273.6 274,273.2 275,273.2 276,273.1 277,271.4 278,270.5 279,268.5 280,266.9 281,266.9 282,266.6 283,265.7 284,264.0 285,263.3 286,263.3 287,262.1 288,260.9 289,259.4 290,260.5 291,259.4 292,258.7 293,258.3 294,257.4 295,255.9 296,255.7 297,256.5 298,255.5 299,253.5 300,252.3 301,252.8 302,253.0 303,252.9 304,252.7 305,252.5 306,251.3 307,249.6 308,247.6 309,247.1 310,248.6 311,247.4 312,245.9 313,246.1 314,246.0 315,244.2 316,242.1 317,241.0 318,240.8 319,240.9 320,241.7 321,240.2 322,239.5 323,239.2 324,237.9 325,236.9 326,235.9 327,235.8 328,235.6 329,235.1 330,233.2 331,233.0 332,234.6 333,234.9 334,234.2 335,233.5 336,232.0 337,231.2 338,231.8 339,232.2 340,231.9 341,231.2 342,230.0 343,229.9 344,230.5 345,230.1 346,229.0 347,229.3 348,229.6 349,229.7 350,229.3 351,227.9 352,227.9 353,227.8 354,228.0 355,228.8 356,227.5 357,226.2 358,226.5 359,225.7 360,225.0 361,225.2 362,224.9 363,224.8 364,224.4 365,223.1 366,223.2 367,224.1 368,224.4 369,224.1 370,222.0 371,221.9 372,222.1 373,222.4 374,220.2 375,218.4 376,218.4 377,218.8 378,218.5 379,217.6 380,218.4 381,218.2 382,217.4 383,215.6 384,215.4 385,216.1 386,216.3 387,215.0 388,215.0 389,214.6 390,213.9 391,213.7 392,213.3 393,213.5 394,212.8 395,212.0 396,212.1 397,212.0 398,210.7 399,210.4 400,210.5 401,210.7 402,210.5 403,210.1 404,209.7 405,209.3 406,209.4 407,209.5 408,208.7 409,208.9 410,208.8 411,208.1 412,207.9 413,208.1 414,208.0 415,207.6 416,207.7 417,207.9 418,207.2 419,206.7 420,206.4 421,206.6 422,206.3 423,205.9 424,206.0 425,205.6 426,205.5 427,206.0 428,205.7 429,204.7 430,204.5 431,204.4 432,203.9 433,204.1 434,204.0 435,203.7 436,202.8 437,202.1 438,202.4 439,202.8 440,203.3 441,203.2 442,202.3 443,201.4 444,200.7 445,199.8 446,200.3 447,200.5 448,200.0 449,200.3 450,199.4 451,198.3 452,198.0 453,198.6 454,198.5 455,198.5 456,198.2 457,198.0 458,197.4 459,197.2 460,196.5 461,196.9 462,196.4 463,195.9 464,195.6 465,195.8 466,195.2 467,195.1 468,195.1 469,194.3 470,194.0 471,193.8 472,192.6 473,192.2 474,191.9 475,191.1 476,190.1 477,189.5 478,187.7 479,187.7 480,187.8 481,187.9 482,186.4 483,184.8 484,182.2 485,181.9 486,184.0 487,184.3 488,182.7 489,182.0 490,180.5 491,180.6 492,180.0 493,180.2 494,177.9 495,177.8 496,177.5 497,176.4 498,175.9 499,174.7 500,174.9 501,174.4 502,173.5 503,172.3 504,170.5 505,170.8 506,169.8 507,168.2 508,168.1 509,168.3 510,167.8 511,167.0 512,165.6 513,164.9 514,164.3 515,165.0 516,164.1 517,162.4 518,161.9 519,160.8 520,161.3 521,160.0 522,157.7 523,157.6 524,158.5 525,158.6 526,158.3 527,157.0 528,156.1 529,156.4 530,156.2 531,154.2 532,153.1 533,153.1 534,152.7 535,151.9 536,151.3 537,151.2 538,150.9 539,151.1 540,150.1 541,149.8 542,148.6 543,147.2 544,148.3 545,147.8 546,146.3 547,144.1 548,143.2 549,144.3 550,144.4 551,143.2 552,142.7 553,143.0 554,142.9 555,142.7 556,143.4 557,142.7 558,140.3 559,140.1 560,139.7 561,138.8 562,137.8 563,137.4 564,137.4 565,137.6 566,137.7 567,136.5 568,136.3 569,136.7 570,135.2 571,134.4 572,135.0 573,135.1 574,135.6 575,133.3 576,131.2 577,131.3 578,131.4 579,131.6 580,131.3 581,129.9 582,127.3 583,125.6 584,127.0 585,127.1 586,126.2 587,125.0 588,124.6 589,126.1 590,124.4 591,121.7 592,120.1 593,119.1 594,118.4 595,117.3 596,117.3 597,115.9 598,114.4 599,114.0 600,113.3 601,113.4 602,111.2 603,111.3 604,111.6 605,111.4 606,111.3 607,108.3 608,108.5 609,108.6 610,109.4 611,108.2 612,107.8 613,107.1 614,106.3 615,106.5 616,106.0 617,105.2 618,103.3 619,102.3 620,101.2 621,101.6 622,102.3 623,100.2 624,96.7 625,96.3 626,97.0 627,96.4 628,94.6 629,94.2 630,93.4 631,93.0 632,92.7 633,92.1 634,90.9 635,89.6 636,90.0 637,89.6 638,88.3 639,88.6 640,87.2 641,87.0 642,86.3 643,85.2 644,82.9 645,81.7 646,81.4 647,82.3 648,81.2 649,80.4 650,78.9 651,79.6 652,81.0 653,80.2 654,79.2 655,79.0 656,78.2 657,78.0 658,76.2 659,75.3 660,76.1 661,74.7 662,73.9 663,74.6 664,73.4 665,72.3 666,72.0 667,71.7 668,70.6 669,70.5 670,68.4 671,67.7 672,66.4 673,65.7 674,64.2 675,65.0 676,64.8 677,63.8 678,61.7 679,60.8 680,61.5 681,60.6 682,59.3 683,59.4 684,59.3 685,58.6 686,57.7 687,56.5 688,55.6 689,55.4 690,55.4 691,54.7 692,54.7 693,52.8 694,49.8 695,49.2 696,50.9 697,50.9 698,49.7 699,48.3 700,47.5 701,47.2 702,48.6 703,47.7 704,45.5 705,44.1 706,44.7 707,45.5 708,46.3 709,46.3 710,45.3 711,43.3 712,44.7 713,46.9"/><polyline stroke="#000000" points="125,371.3 126,371.1 127,370.0 128,368.6 129,368.2 130,367.9 131,368.5 132,368.3 133,367.4 134,366.2 135,366.3 136,366.3 137,364.5 138,364.0 139,364.6 140,363.5 141,362.4 142,362.0 143,360.5 144,361.0 145,360.5 146,361.0 147,357.9 148,356.2 149,357.6 150,356.5 151,355.4 152,355.3 153,354.8 154,353.5 155,351.9 156,350.2 157,349.0 158,350.2 159,348.7 160,347.4 161,347.8 162,346.5 163,345.5 164,344.4 165,343.0 166,340.9 167,339.2 168,339.0 169,339.2 170,338.3 171,337.2 172,337.6 173,337.9 174,336.0 175,334.9 176,334.6 177,333.4 178,331.9 179,331.4 180,330.8 181,328.6 182,327.5 183,328.0 184,327.5 185,326.7 186,325.1 187,324.0 188,324.2 189,323.0 190,323.4 191,322.7 192,321.9 193,320.2 194,318.4 195,318.1 196,316.7 197,315.9 198,315.8 199,316.1 200,315.8 201,314.0 202,314.2 203,313.1 204,312.4 205,312.8 206,310.2 207,309.5 208,309.4 209,308.8 210,308.1 211,309.1 212,308.9 213,307.5 214,308.6 215,308.3 216,307.5 217,307.3 218,307.2 219,307.7 220,307.1 221,307.2 222,305.2 223,303.9 224,304.6 225,305.3 226,304.9 227,304.8 228,303.7 229,302.6 230,301.7 231,301.7 232,299.7 233,298.4 234,299.7 235,299.9 236,298.2 237,298.1 238,297.6 239,295.3 240,293.8 241,294.6 242,295.1 243,295.5 244,295.2 245,294.4 246,296.0 247,294.0 248,291.6 249,291.0 250,290.3 251,290.2 252,290.3 253,290.7 254,289.7 255,288.5 256,287.2 257,285.7 258,286.1 259,284.8 260,284.1 261,284.7 262,285.6 263,285.2 264,284.3 265,284.0 266,284.2 267,282.6 268,281.3 269,280.4 270,279.9 271,280.4 272,279.6 273,278.8 274,276.9 275,276.3 276,274.6 277,272.4 278,272.2 279,273.3 280,271.9 281,269.7 282,268.7 283,266.7 284,265.5 285,265.3 286,264.2 287,263.8 288,263.7 289,262.3 290,262.3 291,261.8 292,260.2 293,259.1 294,260.2 295,258.6 296,256.7 297,256.3 298,255.9 299,256.0 300,255.6 301,254.1 302,253.6 303,253.0 304,252.3 305,252.3 306,251.3 307,249.3 308,249.2 309,249.4 310,249.0 311,248.3 312,246.5 313,244.1 314,245.6 315,245.1 316,243.9 317,242.9 318,241.7 319,242.3 320,242.8 321,243.2 322,242.9 323,242.5 324,242.1 325,241.5 326,240.7 327,240.7 328,240.3 329,240.7 330,240.0 331,238.5 332,238.5 333,239.3 334,239.0 335,237.7 336,237.5 337,236.3 338,237.1 339,235.8 340,234.4 341,235.1 342,234.7 343,234.8 344,235.3 345,234.2 346,233.5 347,233.6 348,233.5 349,233.5 350,232.9 351,232.5 352,232.4 353,231.4 354,231.5 355,232.1 356,232.1 357,231.0 358,230.0 359,228.2 360,227.6 361,226.5 362,225.6 363,225.8 364,227.1 365,226.7 366,225.0 367,224.3 368,224.7 369,224.1 370,222.7 371,222.4 372,222.7 373,221.8 374,221.0 375,219.7 376,219.8 377,219.3 378,218.4 379,218.9 380,219.0 381,219.9 382,219.0 383,218.3 384,217.6 385,217.5 386,217.6 387,216.9 388,217.2 389,216.8 390,215.9 391,215.8 392,215.2 393,214.3 394,214.6 395,214.4 396,213.7 397,212.9 398,211.2 399,211.4 400,211.9 401,211.6 402,210.2 403,210.1 404,210.0 405,209.8 406,210.1 407,209.9 408,209.6 409,209.0 410,208.9 411,209.1 412,208.7 413,208.6 414,208.4 415,208.2 416,208.2 417,207.8 418,207.0 419,206.5 420,206.6 421,206.9 422,207.3 423,207.0 424,206.5 425,205.7 426,205.5 427,204.9 428,204.6 429,205.5 430,205.5 431,204.6 432,204.3 433,204.2 434,204.0 435,203.9 436,203.7 437,203.2 438,202.9 439,202.5 440,202.2 441,202.3 442,202.2 443,202.2 444,202.0 445,201.7 446,200.8 447,199.9 448,200.3 449,200.9 450,200.4 451,199.9 452,199.1 453,199.1 454,199.2 455,198.7 456,198.5 457,198.7 458,198.2 459,197.9 460,197.5 461,197.5 462,197.4 463,197.3 464,196.5 465,196.0 466,196.0 467,196.6 468,195.9 469,195.7 470,195.5 471,194.7 472,193.8 473,193.3 474,191.8 475,191.3 476,190.5 477,190.2 478,189.0 479,188.8 480,188.0 481,188.2 482,189.2 483,186.6 484,184.8 485,184.2 486,183.8 487,183.1 488,183.4 489,183.9 490,184.2 491,183.1 492,182.2 493,182.2 494,181.2 495,178.9 496,177.6 497,177.8 498,176.4 499,176.9 500,176.6 501,177.1 502,174.6 503,172.5 504,172.8 505,173.1 506,172.1 507,171.3 508,170.2 509,169.7 510,169.8 511,168.0 512,165.3 513,165.5 514,165.3 515,162.4 516,160.7 517,162.0 518,161.6 519,160.4 520,159.6 521,158.3 522,158.8 523,158.1 524,158.0 525,157.0 526,155.4 527,156.1 528,156.1 529,154.9 530,154.1 531,154.5 532,153.6 533,154.7 534,154.8 535,153.7 536,151.6 537,151.2 538,150.7 539,149.6 540,149.6 541,149.8 542,150.9 543,151.3 544,150.5 545,149.6 546,150.1 547,150.6 548,148.6 549,146.5 550,146.7 551,147.2 552,145.9 553,145.1 554,144.8 555,145.0 556,144.9 557,143.3 558,142.2 559,142.1 560,143.5 561,142.4 562,139.6 563,139.9 564,140.4 565,140.5 566,139.4 567,138.5 568,137.7 569,137.8 570,138.2 571,138.5 572,137.2 573,136.5 574,136.5 575,134.7 576,133.5 577,134.0 578,133.0 579,132.4 580,131.2 581,130.5 582,129.1 583,127.4 584,128.2 585,128.4 586,127.8 587,125.5 588,124.5 589,123.2 590,121.0 591,121.0 592,121.5 593,120.7 594,118.5 595,118.4 596,117.0 597,116.3 598,115.7 599,114.0 600,112.7 601,111.1 602,112.0 603,113.1 604,111.9 605,111.7 606,112.4 607,110.4 608,108.1 609,106.9 610,107.5 611,107.6 612,108.0 613,107.5 614,104.4 615,103.5 616,103.6 617,104.5 618,104.4 619,104.5 620,103.8 621,102.6 622,100.5 623,99.0 624,100.1 625,100.0 626,99.3 627,98.1 628,96.9 629,96.0 630,95.3 631,94.5 632,94.6 633,93.5 634,91.7 635,89.6 636,90.1 637,90.5 638,90.1 639,88.3 640,86.9 641,87.0 642,86.0 643,86.1 644,86.0 645,84.0 646,83.6 647,83.9 648,82.7 649,81.7 650,81.8 651,82.1 652,82.4 653,81.4 654,80.1 655,79.1 656,79.2 657,77.8 658,77.1 659,77.7 660,76.3 661,75.4 662,74.6 663,75.1 664,73.8 665,72.6 666,71.9 667,72.9 668,73.7 669,70.6 670,68.8 671,68.5 672,68.0 673,68.5 674,68.3 675,66.1 676,66.1 677,65.9 678,65.5 679,64.7 680,64.3 681,64.7 682,63.9 683,62.7 684,60.5 685,58.9 686,59.6 687,60.6 688,58.2 689,57.6 690,55.9 691,55.2 692,54.7 693,55.1 694,55.8 695,52.7 696,50.1 697,49.6 698,49.0 699,49.6 700,48.7 701,46.8 702,45.7 703,44.5 704,42.6 705,43.1 706,44.5 707,42.8 708,41.0 709,39.7 710,39.4 711,37.8 712,37.4 713,36.0"/><polyline stroke="#00ffff" points="125,367.8 126,368.0 127,367.3 128,368.3 129,369.4 130,370.0 131,369.2 132,366.2 133,365.2 134,367.6 135,366.9 136,365.6 137,365.0 138,364.1 139,363.6 140,364.5 141,363.2 142,363.6 143,363.4 144,361.7 145,360.3 146,359.8 147,358.2 148,358.2 149,357.6 150,354.7 151,353.5 152,352.9 153,353.1 154,352.6 155,353.8 156,351.6 157,349.8 158,350.7 159,347.3 160,345.2 161,344.2 162,343.9 163,342.2 164,341.4 165,340.7 166,340.3 167,338.2 168,334.9 169,332.7 170,333.0 171,333.1 172,332.8 173,334.5 174,332.9 175,328.7 176,326.7 177,327.9 178,326.6 179,325.0 180,324.8 181,323.1 182,320.8 183,321.3 184,320.1 185,318.8 186,318.2 187,318.0 188,317.9 189,318.9 190,319.0 191,317.6 192,317.4 193,316.5 194,314.9 195,314.5 196,313.4 197,313.2 198,311.7 199,311.7 200,312.3 201,312.5 202,311.9 203,311.5 204,311.4 205,310.6 206,310.1 207,311.4 208,311.1 209,309.2 210,309.7 211,309.5 212,310.6 213,310.1 214,309.6 215,310.2 216,310.3 217,309.9 218,309.0 219,307.9 220,307.6 221,307.4 222,306.2 223,305.0 224,304.3 225,304.4 226,304.1 227,302.7 228,301.8 229,302.2 230,302.3 231,301.2 232,299.8 233,297.1 234,296.6 235,297.8 236,297.5 237,295.7 238,294.1 239,293.1 240,293.5 241,294.8 242,295.3 243,293.5 244,290.4 245,290.4 246,289.7 247,289.5 248,289.2 249,288.5 250,288.4 251,287.6 252,287.3 253,286.0 254,285.5 255,284.4 256,285.2 257,286.3 258,286.4 259,285.3 260,283.9 261,283.0 262,282.1 263,280.9 264,281.3 265,281.7 266,281.6 267,281.2 268,279.5 269,279.7 270,277.9 271,277.0 272,276.4 273,275.3 274,275.3 275,275.6 276,274.6 277,273.8 278,272.5 279,271.6 280,268.9 281,267.2 282,268.0 283,267.6 284,265.9 285,264.6 286,263.8 287,262.5 288,261.9 289,261.2 290,260.6 291,260.8 292,259.8 293,259.0 294,258.2 295,257.7 296,256.4 297,255.2 298,254.7 299,254.1 300,254.5 301,254.3 302,253.0 303,252.3 304,252.4 305,252.7 306,252.0 307,250.3 308,249.2 309,249.4 310,248.8 311,249.2 312,249.4 313,248.1 314,246.4 315,246.4 316,245.8 317,245.9 318,245.5 319,244.4 320,243.5 321,241.8 322,240.8 323,240.4 324,240.8 325,240.4 326,239.2 327,238.2 328,237.4 329,237.4 330,237.9 331,236.9 332,236.6 333,236.9 334,237.0 335,237.5 336,237.8 337,236.6 338,236.0 339,236.0 340,235.6 341,235.4 342,235.0 343,234.5 344,234.1 345,232.3 346,233.2 347,233.9 348,233.0 349,231.9 350,231.4 351,230.7 352,231.7 353,232.0 354,231.0 355,230.5 356,230.7 357,230.6 358,230.5 359,230.3 360,229.4 361,229.3 362,230.5 363,230.2 364,228.3 365,227.4 366,226.8 367,226.1 368,226.2 369,227.1 370,225.9 371,223.6 372,223.1 373,223.2 374,224.0 375,223.5 376,223.8 377,223.2 378,221.9 379,222.0 380,221.2 381,220.2 382,219.8 383,220.2 384,219.3 385,218.6 386,217.3 387,217.3 388,215.8 389,214.9 390,214.1 391,214.3 392,214.1 393,213.3 394,212.8 395,212.2 396,211.7 397,211.6 398,211.4 399,210.2 400,210.0 401,209.9 402,209.5 403,209.1 404,209.1 405,209.0 406,209.2 407,208.6 408,208.2 409,208.0 410,207.5 411,207.1 412,207.5 413,207.3 414,207.5 415,207.2 416,206.8 417,207.3 418,207.2 419,206.7 420,206.1 421,206.4 422,206.8 423,206.8 424,206.3 425,206.0 426,205.7 427,205.8 428,205.9 429,205.1 430,204.7 431,205.3 432,205.8 433,205.6 434,205.0 435,204.2 436,203.5 437,203.7 438,204.3 439,204.0 440,203.3 441,203.5 442,202.7 443,201.7 444,202.1 445,201.7 446,201.3 447,202.0 448,201.3 449,200.5 450,200.1 451,200.3 452,200.1 453,198.8 454,198.8 455,198.9 456,198.7 457,198.2 458,198.2 459,198.8 460,198.3 461,198.0 462,197.9 463,196.3 464,195.2 465,196.0 466,196.9 467,196.6 468,196.1 469,195.2 470,195.7 471,195.2 472,194.5 473,193.1 474,192.8 475,192.8 476,192.9 477,192.2 478,190.5 479,188.9 480,188.7 481,188.0 482,188.5 483,189.3 484,187.6 485,186.4 486,185.9 487,184.9 488,183.2 489,182.1 490,182.1 491,182.3 492,181.6 493,179.9 494,178.3 495,178.8 496,178.5 497,177.3 498,177.4 499,179.6 500,180.0 501,177.7 502,176.8 503,176.5 504,174.6 505,173.3 506,172.4 507,172.8 508,172.6 509,171.1 510,172.1 511,171.8 512,171.2 513,170.5 514,170.4 515,168.3 516,166.5 517,168.5 518,168.8 519,167.8 520,164.9 521,164.2 522,166.1 523,166.2 524,164.5 525,161.5 526,162.0 527,162.3 528,160.9 529,158.4 530,158.6 531,158.7 532,158.1 533,156.8 534,156.6 535,156.4 536,156.0 537,154.9 538,154.1 539,152.9 540,153.1 541,154.6 542,153.2 543,151.2 544,149.7 545,149.8 546,149.9 547,149.4 548,146.9 549,146.0 550,145.9 551,146.3 552,145.2 553,144.4 554,144.0 555,143.8 556,143.0 557,142.1 558,141.2 559,141.7 560,141.0 561,141.2 562,141.5 563,141.8 564,140.4 565,139.6 566,139.6 567,138.2 568,136.5 569,137.0 570,136.8 571,136.7 572,135.7 573,134.8 574,134.5 575,134.5 576,134.2 577,133.9 578,133.8 579,132.4 580,132.1 581,132.0 582,130.2 583,129.2 584,128.5 585,128.4 586,126.8 587,127.0 588,127.1 589,127.7 590,127.1 591,125.1 592,123.4 593,122.1 594,121.3 595,120.6 596,119.7 597,117.8 598,116.2 599,116.8 600,115.6 601,116.1 602,115.8 603,114.8 604,114.2 605,113.1 606,112.9 607,112.0 608,112.8 609,113.3 610,111.9 611,109.8 612,109.9 613,110.6 614,111.7 615,110.7 616,109.3 617,108.2 618,108.6 619,108.2 620,108.3 621,107.7 622,105.4 623,103.5 624,102.0 625,101.0 626,101.0 627,101.0 628,100.4 629,98.7 630,97.6 631,98.1 632,96.6 633,93.9 634,92.3 635,91.4 636,90.7 637,91.1 638,89.6 639,87.4 640,86.3 641,85.3 642,83.3 643,85.2 644,85.4 645,84.9 646,82.5 647,81.4 648,83.4 649,83.4 650,81.5 651,79.9 652,79.7 653,78.4 654,77.2 655,76.5 656,76.1 657,76.4 658,75.9 659,76.5 660,76.9 661,76.2 662,73.8 663,74.3 664,73.0 665,71.0 666,70.9 667,71.0 668,69.4 669,68.9 670,68.7 671,69.1 672,68.2 673,68.3 674,67.5 675,66.5 676,67.3 677,68.6 678,66.5 679,63.8 680,62.7 681,63.1 682,62.3 683,60.3 684,59.9 685,60.7 686,61.6 687,60.2 688,58.8 689,58.0 690,57.4 691,55.7 692,54.6 693,54.6 694,54.6 695,53.0 696,52.7 697,53.3 698,51.8 699,50.5 700,47.9 701,45.8 702,46.3 703,46.8 704,44.6 705,43.5 706,43.9 707,45.1 708,44.6 709,43.2 710,43.3 711,44.9 712,45.5 713,45.0"/><polyline stroke="#ff0000" points="125,369.9 126,369.6 127,368.2 128,367.9 129,368.4 130,368.0 131,365.7 132,363.1 133,362.9 134,363.1 135,362.7 136,362.5 137,361.2 138,360.8 139,360.0 140,360.6 141,359.5 142,357.1 143,355.2 144,354.8 145,354.7 146,355.3 147,354.4 148,353.0 149,351.4 150,350.8 151,350.6 152,350.7 153,350.3 154,349.9 155,348.0 156,346.0 157,344.9 158,343.4 159,342.2 160,340.1 161,340.8 162,340.0 163,338.4 164,337.9 165,337.1 166,335.9 167,335.3 168,335.8 169,335.0 170,333.0 171,331.9 172,331.3 173,330.4 174,329.7 175,330.2 176,329.8 177,327.0 178,326.8 179,326.7 180,325.3 181,325.3 182,324.1 183,324.4 184,324.3 185,322.3 186,322.0 187,320.8 188,318.9 189,319.0 190,319.1 191,317.4 192,318.1 193,319.0 194,317.1 195,315.9 196,316.3 197,315.7 198,314.3 199,314.3 200,314.3 201,314.6 202,314.0 203,315.5 204,315.6 205,314.3 206,312.5 207,311.5 208,310.3 209,310.3 210,310.6 211,310.5 212,311.4 213,311.8 214,311.2 215,312.0 216,311.8 217,311.3 218,309.2 219,309.5 220,309.1 221,310.5 222,309.5 223,306.0 224,305.8 225,306.2 226,306.3 227,305.8 228,303.8 229,302.9 230,301.8 231,300.7 232,299.7 233,298.8 234,299.3 235,298.2 236,296.2 237,295.0 238,294.4 239,293.4 240,293.4 241,292.9 242,292.8 243,292.8 244,292.4 245,289.4 246,287.2 247,288.0 248,287.1 249,285.8 250,286.3 251,286.5 252,285.7 253,286.7 254,286.5 255,284.8 256,283.5 257,283.3 258,284.1 259,283.5 260,282.9 261,281.9 262,280.4 263,279.7 264,280.6 265,281.2 266,280.1 267,279.1 268,279.4 269,278.2 270,277.1 271,275.9 272,274.0 273,274.5 274,274.5 275,273.8 276,272.2 277,270.9 278,269.8 279,269.0 280,268.6 281,268.3 282,267.2 283,267.1 284,266.8 285,266.4 286,265.4 287,264.8 288,263.2 289,263.0 290,262.3 291,260.8 292,259.2 293,258.8 294,258.9 295,259.1 296,259.7 297,259.2 298,256.5 299,255.3 300,254.6 301,254.4 302,254.1 303,252.3 304,251.9 305,252.7 306,252.3 307,251.6 308,250.7 309,250.1 310,251.1 311,250.3 312,249.6 313,250.0 314,249.2 315,247.9 316,246.6 317,246.3 318,245.2 319,244.3 320,244.1 321,243.8 322,242.4 323,243.0 324,243.0 325,243.2 326,241.7 327,240.4 328,239.0 329,240.0 330,239.5 331,239.9 332,239.7 333,239.8 334,239.0 335,238.2 336,237.8 337,237.7 338,237.4 339,236.5 340,236.0 341,235.8 342,236.1 343,236.4 344,235.0 345,233.6 346,232.9 347,234.1 348,233.2 349,232.0 350,232.6 351,232.0 352,231.7 353,229.7 354,228.2 355,228.4 356,227.1 357,226.5 358,226.4 359,227.6 360,226.4 361,225.4 362,225.6 363,225.4 364,224.3 365,223.7 366,223.6 367,224.0 368,222.8 369,222.2 370,222.4 371,220.5 372,220.4 373,220.4 374,219.9 375,220.3 376,220.4 377,219.5 378,219.5 379,217.7 380,216.4 381,217.3 382,217.7 383,216.8 384,215.5 385,215.1 386,215.4 387,214.0 388,214.7 389,214.9 390,213.4 391,213.2 392,213.3 393,212.6 394,212.3 395,211.6 396,212.0 397,211.6 398,211.1 399,210.9 400,211.5 401,211.0 402,210.9 403,210.6 404,209.8 405,210.1 406,210.0 407,208.6 408,208.3 409,208.8 410,208.5 411,208.0 412,208.5 413,208.8 414,208.6 415,207.9 416,207.5 417,206.4 418,205.6 419,205.2 420,205.2 421,205.9 422,205.8 423,205.3 424,204.9 425,204.6 426,204.4 427,204.3 428,203.8 429,203.3 430,203.4 431,203.6 432,203.3 433,203.3 434,203.2 435,202.0 436,201.3 437,201.7 438,201.5 439,201.6 440,201.0 441,200.5 442,201.1 443,200.7 444,200.2 445,199.6 446,199.5 447,199.9 448,199.7 449,199.6 450,198.9 451,198.8 452,199.0 453,198.7 454,198.4 455,198.5 456,197.6 457,196.9 458,197.2 459,197.3 460,196.9 461,196.6 462,197.2 463,196.2 464,195.9 465,195.6 466,195.8 467,195.5 468,194.3 469,193.9 470,192.4 471,192.8 472,193.1 473,192.3 474,191.9 475,190.8 476,189.5 477,189.2 478,188.7 479,186.9 480,185.0 481,185.1 482,184.7 483,183.5 484,182.7 485,182.5 486,182.5 487,181.5 488,179.5 489,178.0 490,177.4 491,176.5 492,177.0 493,177.1 494,175.5 495,174.9 496,174.2 497,173.9 498,172.9 499,173.3 500,172.9 501,171.9 502,171.6 503,171.2 504,170.1 505,170.0 506,169.3 507,168.4 508,167.9 509,167.4 510,168.2 511,167.8 512,167.0 513,167.5 514,167.4 515,165.9 516,164.6 517,164.9 518,165.0 519,164.0 520,161.9 521,161.6 522,161.7 523,162.1 524,160.7 525,159.0 526,159.5 527,160.4 528,160.0 529,158.7 530,156.2 531,156.1 532,157.4 533,155.3 534,154.1 535,154.2 536,154.4 537,154.4 538,153.8 539,151.6 540,150.3 541,150.2 542,151.1 543,150.9 544,150.0 545,146.8 546,147.1 547,147.2 548,146.2 549,145.4 550,144.6 551,144.2 552,144.6 553,143.1 554,141.8 555,141.6 556,140.5 557,139.4 558,139.3 559,140.5 560,139.5 561,138.6 562,137.9 563,139.0 564,139.5 565,138.2 566,136.2 567,135.8 568,136.3 569,135.3 570,134.8 571,135.0 572,134.6 573,133.8 574,133.8 575,133.0 576,132.2 577,131.4 578,129.1 579,129.2 580,130.1 581,129.1 582,128.6 583,127.2 584,127.2 585,127.7 586,126.2 587,124.6 588,121.7 589,122.1 590,123.0 591,120.7 592,120.1 593,120.0 594,119.1 595,117.5 596,116.4 597,116.0 598,114.5 599,112.4 600,111.4 601,111.8 602,111.3 603,110.9 604,108.8 605,107.8 606,106.8 607,107.3 608,106.1 609,106.1 610,106.6 611,105.7 612,106.6 613,106.5 614,106.3 615,105.7 616,104.1 617,102.9 618,103.9 619,103.6 620,101.0 621,99.8 622,99.8 623,100.3 624,99.3 625,98.0 626,96.7 627,94.2 628,95.1 629,95.5 630,95.2 631,95.4 632,94.0 633,90.8 634,89.6 635,89.7 636,87.9 637,86.9 638,87.8 639,88.5 640,87.5 641,86.8 642,85.3 643,83.8 644,83.1 645,83.1 646,84.3 647,84.2 648,82.9 649,81.2 650,80.4 651,80.1 652,80.5 653,80.6 654,80.9 655,80.3 656,79.3 657,77.3 658,77.4 659,77.0 660,77.3 661,75.6 662,73.7 663,72.9 664,73.1 665,72.5 666,74.2 667,74.3 668,71.8 669,71.4 670,71.7 671,70.5 672,69.7 673,68.4 674,67.3 675,67.1 676,66.7 677,67.0 678,67.0 679,66.6 680,65.9 681,65.4 682,65.0 683,64.5 684,64.3 685,62.2 686,61.3 687,61.0 688,61.6 689,62.0 690,60.7 691,60.8 692,59.1 693,58.3 694,57.6 695,55.8 696,54.6 697,54.1 698,52.6 699,52.0 700,49.5 701,46.8 702,45.1 703,44.2 704,43.0 705,42.4 706,41.2 707,41.1 708,39.7 709,38.3 710,37.0 711,36.8 712,35.3 713,32.2"/><polyline stroke="#ffff00" points="125,368.9 126,368.3 127,366.4 128,366.0 129,365.9 130,365.6 131,366.6 132,366.9 133,366.6 134,367.2 135,367.0 136,366.6 137,366.2 138,365.3 139,364.8 140,363.5 141,363.3 142,362.1 143,361.6 144,359.3 145,358.0 146,359.0 147,359.5 148,358.3 149,356.9 150,355.2 151,354.6 152,355.5 153,354.5 154,353.5 155,351.3 156,350.0 157,348.6 158,347.4 159,346.8 160,345.8 161,344.4 162,343.3 163,344.1 164,344.7 165,341.8 166,339.2 167,337.8 168,336.4 169,336.3 170,335.0 171,335.2 172,334.7 173,331.6 174,330.7 175,331.4 176,331.1 177,328.8 178,326.5 179,325.7 180,323.4 181,323.2 182,324.5 183,324.3 184,323.0 185,321.9 186,320.2 187,319.6 188,319.6 189,319.9 190,319.4 191,319.4 192,317.8 193,317.5 194,316.9 195,314.4 196,314.9 197,316.8 198,315.7 199,314.6 200,313.9 201,312.6 202,312.1 203,313.3 204,313.5 205,311.6 206,311.3 207,311.4 208,311.7 209,312.6 210,313.7 211,312.4 212,310.3 213,308.6 214,308.4 215,308.4 216,308.4 217,309.4 218,309.0 219,308.2 220,308.5 221,307.9 222,307.7 223,307.2 224,304.2 225,304.5 226,305.0 227,305.2 228,305.0 229,302.8 230,301.8 231,303.4 232,304.6 233,304.1 234,302.7 235,300.7 236,299.5 237,301.0 238,299.6 239,297.9 240,297.3 241,296.5 242,295.8 243,294.5 244,294.1 245,294.1 246,294.2 247,294.2 248,292.3 249,291.0 250,291.8 251,292.2 252,291.4 253,289.9 254,289.0 255,288.6 256,290.1 257,287.2 258,284.3 259,285.5 260,284.5 261,283.4 262,284.9 263,283.1 264,281.3 265,281.0 266,281.4 267,279.3 268,279.6 269,277.7 270,276.8 271,277.2 272,274.9 273,273.1 274,271.6 275,271.0 276,269.5 277,268.0 278,268.8 279,269.0 280,270.3 281,270.2 282,267.9 283,265.3 284,264.8 285,264.4 286,264.7 287,262.4 288,261.3 289,260.2 290,259.4 291,259.1 292,259.0 293,258.7 294,256.5 295,255.5 296,256.4 297,255.0 298,254.0 299,255.3 300,253.9 301,253.4 302,253.4 303,252.6 304,251.0 305,250.1 306,249.1 307,249.8 308,250.7 309,249.1 310,247.7 311,246.5 312,246.8 313,244.8 314,243.6 315,242.9 316,244.2 317,243.9 318,243.7 319,242.2 320,241.6 321,240.7 322,241.9 323,242.3 324,241.8 325,241.0 326,240.6 327,239.8 328,240.2 329,239.4 330,238.8 331,237.6 332,236.7 333,238.2 334,237.9 335,237.9 336,237.8 337,236.6 338,236.5 339,235.9 340,236.0 341,236.3 342,236.3 343,234.7 344,233.7 345,234.0 346,234.0 347,234.0 348,233.6 349,233.7 350,233.4 351,232.7 352,233.1 353,232.0 354,230.6 355,230.3 356,230.8 357,230.4 358,229.5 359,229.2 360,229.2 361,228.1 362,227.7 363,227.6 364,226.8 365,225.3 366,225.0 367,224.4 368,225.3 369,224.5 370,223.0 371,222.6 372,221.7 373,221.7 374,220.6 375,219.9 376,220.0 377,219.9 378,218.7 379,218.7 380,218.5 381,218.2 382,217.1 383,217.0 384,217.8 385,217.3 386,216.1 387,215.3 388,215.7 389,214.9 390,214.1 391,215.0 392,214.5 393,213.6 394,212.6 395,212.2 396,212.0 397,211.3 398,210.6 399,209.8 400,210.3 401,210.2 402,209.9 403,210.2 404,209.8 405,209.5 406,209.6 407,208.7 408,208.4 409,208.3 410,208.4 411,208.6 412,208.4 413,207.9 414,207.8 415,207.9 416,208.0 417,207.2 418,207.1 419,207.1 420,206.8 421,206.2 422,206.1 423,206.0 424,205.9 425,205.6 426,205.2 427,205.2 428,206.1 429,206.1 430,205.0 431,204.7 432,204.7 433,204.5 434,204.3 435,204.3 436,204.3 437,204.0 438,204.0 439,203.3 440,202.8 441,202.6 442,202.1 443,201.7 444,201.4 445,201.5 446,200.9 447,200.6 448,200.5 449,200.6 450,200.3 451,199.9 452,198.7 453,197.7 454,197.6 455,198.7 456,198.6 457,198.0 458,198.3 459,198.2 460,197.6 461,197.4 462,197.3 463,196.7 464,196.7 465,196.9 466,196.3 467,196.3 468,195.2 469,195.8 470,195.3 471,194.1 472,193.9 473,194.2 474,193.3 475,192.5 476,191.4 477,191.2 478,192.0 479,190.5 480,190.7 481,189.6 482,188.5 483,188.6 484,187.7 485,186.6 486,186.2 487,186.8 488,186.8 489,185.7 490,184.6 491,183.3 492,182.5 493,181.4 494,180.9 495,181.5 496,181.3 497,179.3 498,178.7 499,179.7 500,179.0 501,177.0 502,176.6 503,176.2 504,176.6 505,176.1 506,174.9 507,175.3 508,173.7 509,172.3 510,172.1 511,171.7 512,170.8 513,171.0 514,170.6 515,169.1 516,167.9 517,165.8 518,166.8 519,165.2 520,164.3 521,165.2 522,165.7 523,164.3 524,163.5 525,162.6 526,162.1 527,161.5 528,159.9 529,160.3 530,158.9 531,158.0 532,156.8 533,155.7 534,155.3 535,153.9 536,153.4 537,154.7 538,155.0 539,154.7 540,152.5 541,150.3 542,150.1 543,148.8 544,147.1 545,146.9 546,146.0 547,147.2 548,147.4 549,147.3 550,145.1 551,143.1 552,142.5 553,142.1 554,141.0 555,139.8 556,139.4 557,139.0 558,138.0 559,137.5 560,137.8 561,138.7 562,138.1 563,137.2 564,137.2 565,137.8 566,135.9 567,134.9 568,134.1 569,133.1 570,133.2 571,133.6 572,133.2 573,133.0 574,133.1 575,131.2 576,130.4 577,130.9 578,130.6 579,129.8 580,129.2 581,130.1 582,127.9 583,127.8 584,127.4 585,126.5 586,124.4 587,125.0 588,124.0 589,122.9 590,120.9 591,121.8 592,120.8 593,118.5 594,117.8 595,117.6 596,115.7 597,113.5 598,113.9 599,114.2 600,111.5 601,111.1 602,111.1 603,110.3 604,109.8 605,108.4 606,108.0 607,108.1 608,107.7 609,106.7 610,105.0 611,104.4 612,104.5 613,103.8 614,103.2 615,103.7 616,102.4 617,103.0 618,101.3 619,99.3 620,99.8 621,100.1 622,98.9 623,98.2 624,97.1 625,97.0 626,96.1 627,94.8 628,95.6 629,95.0 630,95.3 631,96.0 632,94.3 633,92.3 634,91.5 635,91.5 636,90.2 637,90.6 638,90.8 639,90.2 640,88.6 641,87.1 642,87.1 643,87.4 644,87.0 645,85.9 646,85.7 647,84.2 648,83.7 649,84.6 650,83.8 651,83.5 652,83.3 653,83.5 654,82.9 655,83.4 656,83.6 657,83.2 658,83.1 659,80.7 660,78.3 661,79.2 662,77.8 663,76.6 664,77.1 665,76.2 666,77.5 667,76.3 668,75.0 669,74.3 670,73.6 671,72.2 672,72.0 673,71.0 674,69.9 675,68.6 676,68.1 677,66.9 678,66.2 679,66.8 680,66.9 681,66.0 682,64.0 683,65.3 684,66.3 685,66.3 686,64.0 687,62.0 688,60.8 689,59.5 690,58.3 691,58.8 692,58.7 693,58.7 694,58.0 695,57.5 696,56.6 697,56.3 698,53.1 699,51.5 700,51.5 701,51.7 702,50.4 703,49.0 704,47.9 705,47.2 706,46.3 707,46.3 708,47.6 709,46.5 710,45.7 711,44.0 712,44.3 713,43.6"/><polyline stroke="#00ffff" points="125,366.0 126,366.0 127,365.1 128,364.8 129,364.7 130,366.4 131,366.8 132,365.5 133,365.6 134,365.3 135,364.7 136,363.4 137,363.5 138,363.8 139,363.0 140,361.4 141,361.4 142,361.2 143,360.8 144,360.0 145,360.1 146,359.4 147,358.2 148,359.1 149,357.1 150,356.5 151,356.3 152,354.1 153,350.9 154,351.7 155,352.9 156,351.4 157,349.3 158,348.3 159,348.6 160,347.8 161,346.0 162,344.0 163,342.7 164,340.8 165,340.1 166,339.1 167,337.6 168,337.3 169,338.3 170,337.6 171,335.5 172,334.6 173,333.5 174,333.1 175,332.7 176,332.2 177,331.0 178,329.6 179,327.7 180,327.3 181,325.6 182,324.9 183,323.4 184,323.1 185,323.1 186,323.5 187,321.7 188,319.6 189,320.0 190,320.0 191,318.9 192,316.9 193,315.5 194,314.6 195,315.1 196,314.5 197,313.0 198,311.8 199,311.7 200,310.6 201,310.1 202,309.9 203,306.4 204,307.1 205,307.5 206,307.1 207,306.4 208,304.8 209,305.1 210,307.1 211,305.6 212,305.6 213,305.0 214,304.4 215,304.6 216,304.7 217,302.8 218,303.9 219,304.3 220,303.5 221,302.5 222,301.4 223,300.1 224,300.0 225,300.7 226,300.8 227,301.0 228,300.1 229,299.3 230,298.1 231,298.4 232,296.5 233,295.4 234,295.7 235,295.4 236,295.2 237,294.9 238,295.0 239,294.3 240,293.2 241,293.4 242,293.4 243,292.4 244,292.0 245,289.1 246,289.0 247,290.5 248,287.9 249,286.8 250,287.1 251,287.4 252,287.0 253,286.1 254,283.0 255,282.3 256,284.0 257,283.9 258,283.9 259,284.3 260,283.0 261,281.8 262,279.9 263,278.5 264,277.9 265,277.8 266,277.5 267,276.0 268,274.5 269,273.5 270,274.0 271,274.8 272,274.4 273,273.6 274,271.5 275,270.2 276,268.8 277,268.8 278,268.4 279,268.4 280,267.1 281,264.7 282,265.0 283,264.7 284,263.4 285,263.0 286,263.1 287,262.6 288,262.1 289,261.4 290,260.9 291,260.2 292,260.0 293,260.2 294,260.3 295,259.1 296,258.4 297,258.2 298,257.9 299,257.4 300,257.2 301,257.7 302,257.3 303,256.2 304,255.5 305,255.6 306,254.5 307,253.3 308,252.6 309,252.3 310,252.1 311,252.3 312,250.5 313,249.2 314,248.4 315,249.0 316,250.4 317,249.9 318,247.5 319,247.2 320,246.4 321,246.2 322,245.9 323,243.7 324,242.9 325,241.5 326,240.8 327,240.3 328,240.2 329,239.6 330,240.3 331,239.3 332,237.5 333,238.6 334,239.4 335,238.5 336,238.0 337,237.0 338,237.3 339,237.5 340,236.0 341,234.7 342,234.7 343,235.9 344,236.8 345,235.8 346,235.2 347,234.6 348,233.4 349,233.7 350,232.9 351,231.9 352,231.5 353,230.5 354,231.1 355,231.3 356,229.9 357,228.8 358,228.9 359,228.6 360,228.3 361,227.9 362,229.0 363,227.3 364,226.7 365,226.2 366,225.7 367,224.8 368,225.2 369,223.6 370,221.8 371,221.8 372,222.6 373,222.8 374,221.5 375,219.5 376,218.1 377,216.8 378,216.3 379,216.4 380,217.6 381,217.1 382,216.5 383,214.9 384,215.2 385,214.4 386,213.6 387,214.1 388,213.8 389,213.1 390,212.7 391,212.4 392,212.1 393,212.1 394,211.6 395,210.6 396,210.5 397,210.5 398,210.2 399,209.7 400,209.1 401,208.6 402,207.8 403,206.9 404,206.9 405,207.4 406,208.4 407,207.9 408,207.8 409,207.3 410,207.3 411,206.9 412,206.9 413,206.7 414,206.6 415,206.1 416,205.7 417,206.0 418,205.6 419,205.7 420,206.0 421,205.5 422,205.2 423,205.1 424,205.0 425,204.8 426,204.8 427,204.6 428,204.1 429,204.1 430,204.1 431,203.4 432,203.2 433,203.2 434,203.0 435,203.1 436,203.3 437,202.6 438,202.3 439,202.2 440,201.9 441,202.1 442,201.4 443,200.4 444,200.2 445,199.8 446,199.4 447,199.9 448,200.2 449,199.7 450,198.8 451,199.0 452,198.4 453,198.5 454,198.4 455,197.4 456,196.3 457,196.4 458,196.9 459,197.0 460,196.7 461,196.4 462,196.4 463,196.2 464,195.8 465,195.1 466,193.8 467,193.6 468,193.9 469,193.0 470,192.7 471,192.7 472,191.3 473,190.6 474,190.5 475,189.3 476,188.0 477,187.5 478,186.5 479,186.7 480,186.4 481,185.5 482,183.0 483,183.0 484,182.8 485,180.8 486,179.1 487,177.9 488,177.6 489,177.4 490,176.8 491,176.4 492,175.1 493,173.4 494,173.4 495,172.9 496,171.4 497,172.2 498,173.8 499,172.6 500,169.8 501,169.0 502,170.8 503,170.3 504,167.8 505,167.1 506,167.4 507,167.0 508,165.6 509,164.9 510,164.3 511,164.2 512,164.7 513,164.4 514,164.7 515,162.6 516,161.3 517,161.7 518,162.2 519,160.0 520,160.3 521,159.6 522,159.5 523,159.4 524,158.5 525,158.4 526,158.6 527,158.6 528,157.0 529,155.8 530,154.5 531,154.1 532,154.4 533,153.8 534,153.3 535,152.7 536,151.8 537,151.9 538,152.6 539,151.8 540,150.3 541,150.5 542,150.7 543,149.2 544,148.1 545,149.3 546,149.5 547,147.9 548,145.5 549,144.9 550,144.0 551,142.6 552,143.0 553,143.6 554,142.8 555,141.3 556,140.4 557,140.2 558,139.7 559,139.0 560,139.3 561,138.6 562,139.6 563,140.4 564,139.6 565,138.2 566,136.7 567,137.0 568,137.6 569,137.2 570,136.7 571,136.2 572,136.2 573,136.3 574,136.0 575,134.4 576,133.4 577,133.6 578,134.6 579,134.9 580,133.7 581,133.7 582,132.7 583,131.5 584,131.6 585,130.9 586,130.0 587,130.5 588,129.9 589,128.3 590,127.2 591,126.6 592,124.9 593,124.9 594,124.8 595,123.6 596,122.7 597,122.1 598,121.0 599,119.8 600,117.6 601,116.1 602,113.9 603,113.6 604,112.6 605,112.4 606,111.5 607,110.5 608,109.0 609,106.9 610,105.8 611,106.0 612,104.0 613,102.5 614,101.9 615,100.4 616,100.6 617,100.5 618,98.0 619,97.0 620,95.6 621,94.5 622,94.3 623,93.9 624,94.2 625,93.0 626,92.3 627,91.3 628,90.6 629,90.9 630,90.0 631,89.3 632,88.4 633,87.9 634,88.3 635,89.9 636,88.2 637,86.8 638,87.1 639,86.4 640,84.4 641,83.9 642,84.3 643,83.9 644,83.2 645,82.8 646,80.8 647,80.2 648,80.4 649,80.6 650,80.3 651,79.5 652,78.8 653,78.5 654,76.8 655,76.2 656,76.6 657,78.1 658,77.1 659,75.8 660,75.6 661,75.6 662,74.7 663,74.4 664,74.1 665,72.6 666,73.1 667,72.5 668,71.2 669,72.1 670,72.9 671,71.4 672,70.2 673,71.0 674,70.8 675,70.8 676,69.8 677,69.0 678,67.4 679,66.9 680,65.9 681,65.2 682,64.7 683,64.0 684,64.3 685,64.1 686,62.2 687,60.3 688,60.2 689,59.4 690,59.1 691,58.2 692,57.0 693,57.4 694,57.2 695,56.5 696,56.2 697,55.9 698,53.0 699,52.1 700,51.0 701,47.2 702,46.2 703,46.3 704,47.2 705,45.8 706,44.6 707,43.9 708,43.8 709,44.0 710,43.0 711,42.3 712,41.3 713,41.5"/><polyline stroke="#ffc0c0" points="125,367.0 126,366.4 127,365.5 128,364.6 129,364.5 130,365.0 131,364.8 132,363.7 133,362.1 134,362.0 135,361.2 136,360.0 137,360.9 138,359.9 139,360.7 140,361.8 141,359.6 142,358.6 143,357.0 144,357.0 145,354.9 146,352.5 147,351.2 148,350.7 149,352.2 150,352.9 151,351.4 152,349.5 153,350.0 154,350.0 155,349.2 156,347.8 157,345.0 158,344.4 159,345.2 160,343.6 161,343.0 162,342.3 163,341.4 164,340.6 165,340.3 166,342.4 167,340.7 168,338.3 169,338.2 170,337.2 171,336.0 172,334.7 173,332.4 174,331.2 175,332.4 176,330.7 177,328.1 178,328.7 179,328.8 180,327.6 181,326.2 182,324.9 183,323.7 184,322.5 185,323.1 186,323.7 187,322.4 188,320.8 189,320.8 190,320.4 191,320.1 192,319.4 193,318.3 194,318.0 195,316.6 196,315.7 197,315.1 198,313.6 199,312.8 200,313.5 201,313.4 202,313.0 203,312.6 204,311.6 205,310.6 206,308.6 207,309.2 208,309.4 209,309.4 210,309.3 211,309.5 212,308.1 213,306.5 214,304.9 215,304.7 216,306.3 217,306.6 218,306.3 219,305.8 220,306.8 221,306.9 222,305.5 223,304.8 224,304.6 225,304.7 226,304.1 227,304.0 228,303.8 229,302.8 230,301.4 231,301.1 232,300.3 233,300.6 234,298.9 235,298.8 236,299.9 237,299.8 238,299.7 239,298.9 240,298.5 241,297.7 242,296.3 243,295.8 244,296.5 245,297.0 246,296.0 247,296.0 248,294.2 249,294.0 250,293.5 251,291.3 252,290.5 253,290.6 254,290.6 255,289.4 256,289.3 257,289.1 258,287.4 259,286.2 260,284.8 261,283.1 262,284.3 263,284.1 264,282.4 265,282.4 266,281.8 267,279.2 268,278.5 269,277.9 270,275.9 271,273.5 272,274.4 273,273.6 274,273.2 275,271.6 276,271.1 277,270.5 278,268.5 279,266.8 280,267.2 281,267.0 282,265.6 283,265.2 284,265.1 285,263.7 286,262.8 287,262.9 288,263.2 289,262.6 290,261.3 291,259.8 292,259.1 293,258.4 294,258.4 295,258.1 296,257.6 297,257.0 298,257.2 299,256.7 300,255.2 301,254.8 302,254.8 303,253.7 304,252.9 305,252.9 306,252.1 307,250.3 308,249.4 309,249.6 310,250.2 311,249.4 312,247.5 313,247.1 314,246.4 315,245.4 316,245.2 317,244.4 318,243.5 319,242.8 320,240.3 321,239.9 322,240.2 323,239.9 324,239.5 325,239.9 326,238.6 327,237.7 328,237.6 329,235.7 330,235.5 331,236.4 332,236.9 333,235.2 334,234.9 335,235.6 336,234.2 337,235.7 338,234.7 339,233.0 340,231.9 341,231.0 342,231.3 343,231.8 344,232.7 345,232.7 346,231.9 347,231.4 348,230.8 349,230.2 350,229.4 351,229.8 352,229.6 353,228.7 354,229.2 355,227.7 356,226.7 357,226.2 358,227.4 359,227.1 360,226.8 361,225.7 362,224.9 363,224.0 364,222.9 365,223.0 366,222.1 367,221.6 368,222.1 369,221.8 370,221.3 371,219.8 372,218.6 373,219.4 374,219.2 375,217.7 376,216.9 377,217.2 378,217.4 379,216.5 380,216.8 381,217.0 382,216.4 383,216.4 384,216.0 385,216.3 386,216.3 387,216.3 388,215.6 389,213.9 390,215.2 391,215.5 392,214.3 393,213.3 394,213.9 395,213.3 396,212.4 397,212.4 398,212.1 399,211.5 400,211.7 401,211.4 402,211.4 403,211.5 404,210.8 405,209.9 406,209.9 407,210.4 408,210.0 409,209.6 410,209.6 411,208.7 412,208.8 413,208.9 414,208.6 415,208.4 416,207.9 417,207.4 418,207.6 419,207.3 420,206.0 421,205.6 422,206.1 423,206.2 424,205.4 425,205.2 426,205.5 427,205.6 428,204.8 429,204.2 430,203.7 431,203.6 432,204.3 433,203.8 434,202.6 435,202.4 436,202.9 437,203.0 438,202.4 439,201.8 440,200.9 441,201.4 442,201.7 443,201.6 444,200.8 445,200.3 446,200.0 447,201.0 448,201.1 449,200.6 450,200.1 451,199.6 452,199.2 453,198.8 454,198.7 455,198.0 456,198.0 457,198.6 458,198.7 459,197.8 460,196.7 461,196.9 462,197.5 463,197.2 464,197.8 465,197.8 466,196.2 467,194.7 468,194.2 469,194.6 470,194.5 471,194.2 472,193.6 473,192.6 474,191.9 475,192.4 476,190.7 477,189.7 478,188.8 479,189.4 480,189.8 481,188.5 482,186.2 483,185.4 484,185.6 485,184.4 486,183.0 487,181.7 488,181.7 489,182.7 490,180.9 491,179.3 492,179.3 493,180.6 494,178.9 495,178.0 496,177.9 497,177.2 498,176.8 499,174.8 500,173.7 501,173.8 502,173.8 503,172.6 504,172.8 505,172.8 506,170.9 507,169.7 508,169.3 509,169.4 510,168.1 511,167.0 512,167.2 513,167.9 514,165.2 515,165.5 516,164.6 517,162.8 518,162.9 519,162.1 520,161.2 521,160.8 522,162.6 523,163.1 524,161.2 525,161.5 526,160.3 527,159.9 528,158.4 529,157.5 530,156.4 531,155.7 532,155.4 533,155.8 534,155.8 535,154.1 536,152.5 537,150.9 538,150.6 539,150.9 540,150.1 541,150.2 542,149.6 543,148.3 544,147.6 545,146.9 546,147.1 547,148.4 548,148.1 549,147.1 550,146.5 551,145.8 552,144.9 553,143.2 554,142.7 555,142.8 556,142.5 557,141.6 558,140.9 559,140.0 560,140.1 561,140.4 562,141.0 563,140.4 564,138.6 565,138.5 566,139.1 567,139.4 568,138.2 569,136.9 570,136.3 571,136.5 572,136.4 573,135.7 574,136.0 575,135.4 576,134.1 577,133.9 578,133.4 579,132.9 580,132.3 581,130.7 582,131.7 583,132.5 584,132.3 585,131.9 586,130.9 587,127.2 588,125.8 589,126.0 590,126.9 591,126.3 592,124.7 593,123.1 594,122.7 595,123.3 596,121.8 597,118.7 598,118.5 599,117.2 600,116.5 601,116.0 602,114.6 603,113.2 604,112.3 605,112.2 606,111.9 607,110.6 608,109.0 609,107.3 610,106.2 611,104.5 612,102.7 613,104.1 614,104.0 615,103.3 616,102.6 617,102.4 618,99.4 619,97.8 620,96.6 621,96.3 622,96.0 623,97.0 624,95.7 625,94.3 626,92.1 627,90.4 628,90.1 629,90.1 630,88.0 631,87.4 632,86.9 633,86.8 634,86.9 635,86.8 636,86.5 637,84.9 638,85.1 639,86.3 640,85.9 641,85.7 642,84.8 643,83.0 644,82.6 645,83.5 646,83.6 647,83.2 648,80.9 649,79.3 650,79.0 651,78.3 652,77.0 653,77.8 654,78.1 655,77.4 656,77.0 657,77.5 658,77.3 659,75.7 660,75.2 661,74.3 662,74.0 663,74.6 664,74.3 665,73.0 666,71.4 667,71.7 668,72.8 669,72.1 670,69.0 671,67.0 672,66.4 673,66.3 674,66.3 675,67.0 676,67.0 677,66.6 678,66.0 679,67.2 680,66.3 681,64.5 682,63.4 683,63.7 684,62.6 685,61.7 686,60.7 687,60.4 688,60.2 689,58.2 690,56.6 691,56.9 692,56.7 693,56.1 694,56.3 695,55.6 696,53.6 697,52.2 698,49.0 699,48.2 700,48.6 701,46.3 702,46.1 703,44.9 704,43.3 705,43.5 706,43.3 707,42.6 708,43.0 709,41.6 710,40.8 711,40.2 712,39.8 713,39.1"/><polyline stroke="#000080" points="125,363.3 126,363.5 127,363.1 128,362.7 129,363.3 130,363.2 131,362.6 132,361.5 133,361.5 134,362.8 135,362.3 136,361.4 137,361.8 138,361.6 139,361.2 140,360.4 141,360.1 142,360.1 143,359.9 144,357.6 145,355.3 146,354.8 147,354.6 148,354.5 149,354.2 150,353.8 151,353.1 152,351.9 153,350.6 154,350.9 155,349.8 156,349.1 157,347.3 158,344.4 159,344.8 160,345.0 161,344.1 162,342.5 163,342.7 164,342.4 165,340.3 166,338.8 167,338.8 168,338.2 169,336.4 170,337.0 171,337.9 172,335.4 173,334.2 174,333.9 175,333.3 176,331.9 177,330.6 178,330.9 179,330.6 180,327.9 181,326.6 182,326.1 183,325.2 184,323.3 185,321.8 186,322.8 187,322.8 188,322.0 189,321.0 190,321.9 191,321.0 192,319.2 193,319.0 194,318.6 195,319.2 196,318.3 197,316.7 198,317.7 199,317.9 200,317.0 201,315.3 202,312.7 203,311.1 204,311.8 205,312.1 206,311.7 207,312.3 208,313.2 209,311.1 210,309.5 211,308.9 212,308.8 213,309.7 214,309.0 215,307.9 216,308.8 217,310.2 218,308.9 219,308.5 220,308.8 221,308.2 222,307.5 223,307.3 224,305.4 225,304.0 226,303.9 227,304.2 228,302.2 229,302.7 230,304.2 231,302.5 232,301.4 233,301.1 234,301.1 235,299.0 236,298.0 237,298.1 238,298.0 239,296.6 240,295.4 241,294.4 242,293.5 243,293.8 244,293.5 245,292.6 246,291.0 247,291.8 248,290.6 249,289.8 250,290.1 251,288.6 252,288.0 253,286.9 254,286.0 255,284.0 256,284.9 257,285.4 258,284.8 259,285.7 260,285.6 261,285.3 262,284.6 263,283.4 264,283.3 265,282.9 266,281.0 267,279.2 268,279.0 269,279.0 270,278.5 271,276.9 272,276.8 273,276.6 274,274.5 275,274.1 276,272.9 277,272.8 278,272.9 279,272.5 280,272.1 281,271.9 282,270.7 283,271.1 284,271.2 285,269.0 286,267.6 287,267.2 288,266.0 289,265.8 290,265.0 291,262.4 292,262.1 293,262.6 294,263.0 295,262.5 296,261.7 297,262.3 298,261.8 299,261.0 300,260.0 301,258.9 302,259.7 303,258.9 304,256.4 305,256.4 306,257.0 307,257.6 308,257.1 309,256.2 310,253.7 311,253.6 312,252.7 313,251.7 314,252.0 315,251.6 316,250.1 317,250.5 318,250.2 319,247.0 320,246.0 321,245.1 322,244.3 323,245.0 324,244.6 325,243.0 326,242.1 327,240.7 328,238.4 329,237.6 330,237.1 331,237.0 332,236.2 333,236.2 334,234.8 335,234.1 336,234.6 337,233.5 338,233.3 339,233.5 340,233.3 341,233.1 342,233.1 343,232.9 344,232.3 345,231.9 346,232.7 347,231.5 348,231.5 349,231.4 350,231.0 351,230.5 352,231.3 353,230.9 354,230.6 355,230.4 356,229.6 357,229.2 358,228.6 359,228.9 360,228.1 361,228.7 362,228.7 363,227.6 364,226.9 365,226.9 366,226.5 367,226.9 368,227.1 369,226.1 370,227.1 371,226.2 372,224.9 373,224.4 374,224.7 375,222.6 376,221.1 377,220.6 378,219.7 379,220.7 380,220.4 381,218.2 382,217.6 383,217.6 384,217.8 385,217.9 386,217.2 387,216.3 388,215.0 389,214.4 390,214.5 391,213.8 392,213.4 393,212.9 394,211.8 395,211.5 396,211.3 397,210.9 398,210.8 399,210.3 400,210.0 401,209.2 402,208.9 403,209.1 404,208.9 405,208.4 406,208.0 407,207.9 408,208.2 409,208.8 410,209.2 411,208.4 412,207.5 413,207.6 414,207.7 415,208.2 416,208.3 417,208.0 418,208.0 419,207.7 420,207.0 421,207.2 422,207.8 423,207.6 424,206.9 425,206.4 426,206.2 427,206.1 428,206.2 429,206.0 430,205.7 431,205.8 432,205.7 433,205.2 434,204.9 435,205.1 436,204.9 437,204.9 438,204.4 439,204.2 440,204.6 441,204.2 442,203.8 443,203.1 444,203.0 445,203.6 446,202.7 447,201.2 448,201.2 449,201.4 450,201.5 451,201.5 452,200.9 453,201.1 454,200.8 455,200.4 456,200.1 457,200.1 458,200.4 459,199.2 460,198.5 461,198.6 462,199.3 463,198.8 464,197.4 465,196.7 466,197.1 467,196.9 468,195.6 469,196.1 470,196.7 471,195.3 472,195.0 473,195.1 474,195.6 475,194.9 476,193.1 477,191.8 478,190.2 479,190.4 480,189.8 481,188.9 482,189.6 483,188.0 484,187.5 485,188.2 486,185.1 487,184.4 488,183.8 489,183.3 490,183.4 491,182.2 492,182.0 493,180.2 494,179.5 495,178.1 496,177.1 497,176.9 498,176.9 499,176.9 500,175.7 501,175.1 502,175.1 503,176.0 504,174.9 505,173.5 506,171.2 507,171.0 508,171.1 509,169.3 510,170.0 511,170.5 512,168.9 513,167.5 514,168.0 515,167.9 516,166.8 517,165.9 518,165.0 519,165.5 520,166.1 521,164.7 522,164.5 523,163.0 524,162.4 525,161.0 526,160.1 527,160.9 528,161.2 529,159.7 530,159.3 531,159.2 532,157.5 533,156.7 534,155.5 535,155.9 536,156.7 537,156.6 538,154.7 539,153.9 540,153.5 541,152.6 542,152.6 543,152.6 544,152.2 545,152.5 546,149.6 547,148.7 548,148.9 549,148.4 550,148.8 551,149.3 552,148.2 553,147.5 554,146.5 555,146.0 556,146.8 557,145.9 558,145.1 559,145.0 560,144.4 561,144.0 562,144.8 563,143.9 564,142.5 565,142.1 566,142.6 567,142.1 568,141.3 569,139.9 570,139.5 571,139.2 572,138.1 573,136.7 574,137.4 575,136.2 576,137.1 577,137.1 578,135.5 579,133.6 580,131.7 581,132.5 582,132.7 583,131.5 584,130.0 585,127.9 586,126.2 587,124.5 588,124.7 589,123.6 590,123.9 591,123.9 592,123.7 593,123.3 594,121.4 595,119.8 596,117.5 597,115.4 598,114.3 599,111.9 600,111.4 601,111.2 602,110.6 603,110.3 604,109.6 605,108.4 606,107.4 607,105.7 608,105.0 609,103.4 610,102.7 611,102.2 612,103.1 613,103.9 614,101.6 615,97.8 616,98.3 617,98.3 618,97.9 619,96.3 620,96.4 621,98.2 622,97.6 623,96.2 624,94.1 625,90.8 626,91.8 627,90.6 628,90.8 629,90.1 630,90.8 631,91.3 632,91.8 633,90.7 634,89.1 635,86.7 636,87.1 637,87.7 638,86.7 639,87.3 640,87.0 641,87.4 642,87.9 643,87.8 644,87.5 645,87.0 646,85.6 647,84.8 648,86.0 649,84.3 650,83.4 651,83.1 652,82.1 653,80.7 654,79.2 655,78.7 656,80.6 657,80.0 658,79.6 659,77.9 660,78.0 661,77.5 662,77.0 663,76.1 664,74.5 665,74.2 666,74.6 667,73.7 668,72.7 669,71.5 670,69.6 671,69.9 672,69.2 673,67.0 674,66.2 675,67.0 676,67.4 677,68.4 678,65.5 679,64.9 680,64.3 681,61.6 682,60.7 683,60.0 684,58.6 685,57.1 686,58.6 687,59.5 688,58.5 689,55.6 690,53.8 691,52.6 692,53.1 693,53.8 694,53.6 695,50.4 696,50.7 697,50.4 698,49.2 699,47.1 700,46.6 701,46.0 702,46.1 703,43.1 704,40.7 705,40.5 706,40.0 707,40.4 708,39.1 709,38.2 710,39.0 711,37.7 712,36.1 713,34.9"/><polyline stroke="#000000" points="125,367.2 126,364.9 127,364.3 128,364.7 129,363.6 130,362.0 131,362.7 132,362.0 133,360.3 134,361.5 135,362.5 136,362.0 137,360.7 138,360.0 139,359.2 140,358.3 141,359.7 142,360.1 143,359.5 144,358.0 145,356.6 146,356.9 147,355.5 148,355.1 149,354.4 150,353.5 151,352.3 152,351.5 153,351.5 154,350.2 155,349.2 156,348.7 157,347.2 158,344.0 159,343.3 160,344.2 161,343.6 162,342.8 163,341.4 164,340.6 165,340.0 166,338.9 167,337.0 168,337.4 169,337.9 170,337.0 171,336.6 172,335.4 173,334.0 174,333.7 175,333.5 176,333.3 177,330.9 178,330.7 179,329.6 180,327.8 181,327.4 182,327.5 183,326.0 184,326.0 185,326.6 186,325.3 187,324.3 188,323.4 189,322.2 190,320.9 191,320.2 192,319.4 193,319.7 194,318.9 195,317.8 196,316.4 197,314.9 198,315.2 199,314.9 200,313.4 201,312.9 202,313.2 203,312.7 204,312.7 205,312.3 206,310.9 207,309.9 208,310.4 209,310.4 210,309.0 211,308.3 212,308.8 213,309.7 214,309.2 215,306.6 216,305.7 217,306.1 218,306.8 219,307.2 220,306.2 221,306.2 222,307.4 223,306.7 224,305.3 225,304.4 226,304.1 227,303.5 228,302.9 229,301.9 230,301.5 231,301.1 232,299.6 233,299.4 234,299.4 235,298.1 236,298.2 237,298.1 238,298.0 239,298.2 240,298.5 241,296.0 242,296.0 243,295.0 244,293.1 245,294.3 246,293.9 247,292.8 248,291.9 249,292.1 250,291.7 251,291.1 252,290.0 253,289.9 254,290.9 255,290.4 256,288.7 257,288.7 258,288.1 259,287.1 260,287.1 261,286.7 262,286.0 263,284.1 264,282.9 265,282.9 266,282.1 267,281.2 268,279.5 269,280.1 270,278.4 271,276.2 272,275.3 273,274.8 274,274.1 275,274.4 276,274.1 277,271.9 278,270.9 279,268.7 280,268.3 281,269.1 282,268.3 283,267.3 284,266.9 285,266.8 286,265.0 287,264.5 288,263.0 289,262.8 290,263.3 291,261.4 292,260.6 293,261.1 294,259.4 295,258.4 296,258.8 297,258.8 298,257.2 299,257.0 300,257.2 301,255.7 302,254.4 303,255.0 304,255.7 305,253.7 306,252.7 307,252.8 308,250.7 309,251.0 310,252.5 311,251.0 312,250.1 313,249.1 314,249.2 315,249.3 316,248.1 317,248.5 318,247.9 319,246.5 320,246.9 321,246.3 322,245.4 323,244.1 324,242.2 325,242.6 326,242.3 327,240.4 328,240.6 329,240.6 330,240.8 331,242.4 332,241.3 333,239.7 334,239.6 335,238.5 336,237.2 337,237.0 338,237.0 339,237.7 340,237.5 341,236.0 342,235.5 343,236.0 344,237.5 345,236.8 346,236.0 347,235.1 348,234.2 349,233.6 350,233.9 351,234.8 352,233.1 353,232.7 354,233.4 355,233.0 356,231.7 357,231.0 358,232.3 359,232.2 360,232.3 361,231.6 362,229.6 363,228.6 364,227.9 365,229.0 366,229.4 367,229.1 368,228.4 369,226.7 370,225.4 371,225.8 372,226.8 373,225.8 374,225.4 375,225.0 376,224.4 377,224.2 378,224.9 379,223.8 380,222.6 381,222.0 382,221.9 383,221.9 384,221.5 385,221.5 386,221.2 387,219.4 388,218.1 389,217.2 390,216.3 391,216.7 392,216.7 393,215.9 394,215.0 395,214.6 396,213.6 397,212.5 398,212.5 399,213.1 400,213.3 401,212.8 402,212.0 403,211.2 404,210.8 405,211.2 406,211.7 407,210.9 408,210.5 409,210.5 410,210.2 411,210.0 412,209.9 413,209.2 414,208.8 415,208.5 416,208.3 417,208.5 418,208.3 419,208.2 420,207.9 421,207.7 422,207.4 423,207.6 424,207.4 425,207.0 426,206.5 427,206.3 428,205.7 429,205.1 430,204.8 431,204.6 432,205.1 433,204.5 434,203.8 435,203.2 436,203.4 437,203.7 438,203.5 439,203.0 440,203.4 441,203.3 442,203.1 443,202.4 444,202.3 445,201.4 446,201.1 447,201.0 448,201.1 449,201.0 450,201.0 451,200.0 452,199.7 453,199.3 454,198.8 455,198.4 456,197.7 457,197.1 458,197.2 459,197.5 460,197.3 461,197.8 462,196.8 463,195.7 464,195.4 465,195.6 466,195.6 467,195.0 468,194.7 469,195.5 470,194.4 471,194.2 472,193.8 473,193.2 474,192.7 475,191.6 476,191.7 477,191.9 478,191.4 479,190.2 480,187.9 481,186.9 482,188.5 483,188.9 484,188.1 485,187.1 486,184.4 487,183.5 488,185.9 489,184.9 490,183.7 491,184.0 492,183.7 493,183.7 494,184.4 495,183.8 496,183.1 497,181.1 498,179.3 499,178.0 500,179.2 501,178.8 502,177.5 503,177.1 504,177.3 505,176.4 506,173.9 507,172.9 508,172.7 509,171.7 510,170.8 511,169.1 512,169.4 513,169.5 514,169.0 515,166.9 516,166.4 517,167.6 518,165.5 519,162.0 520,161.7 521,163.3 522,163.9 523,162.8 524,162.3 525,161.8 526,160.2 527,158.8 528,157.9 529,156.4 530,156.2 531,156.3 532,155.9 533,155.9 534,155.0 535,155.3 536,154.9 537,154.7 538,153.2 539,152.5 540,152.8 541,152.4 542,153.2 543,153.0 544,151.1 545,150.3 546,150.3 547,149.7 548,148.7 549,149.1 550,148.2 551,148.2 552,148.2 553,148.4 554,147.5 555,146.7 556,146.4 557,146.0 558,144.2 559,144.2 560,143.6 561,142.9 562,141.9 563,141.2 564,141.1 565,141.7 566,141.6 567,140.6 568,139.1 569,139.0 570,138.8 571,139.0 572,137.1 573,137.1 574,137.2 575,136.3 576,135.3 577,134.4 578,134.3 579,133.0 580,132.0 581,131.3 582,131.0 583,129.7 584,129.6 585,130.0 586,128.0 587,127.1 588,126.9 589,125.4 590,124.6 591,123.2 592,121.3 593,121.1 594,122.2 595,121.0 596,120.2 597,120.1 598,119.2 599,117.2 600,116.3 601,115.8 602,116.6 603,116.8 604,115.2 605,113.8 606,113.3 607,113.0 608,114.1 609,114.0 610,115.8 611,114.4 612,112.3 613,112.2 614,111.5 615,110.3 616,109.9 617,110.9 618,110.4 619,109.4 620,106.8 621,106.5 622,106.9 623,105.6 624,105.7 625,104.3 626,102.7 627,100.4 628,97.3 629,97.5 630,98.2 631,97.1 632,97.3 633,96.4 634,94.8 635,93.8 636,91.5 637,89.0 638,89.0 639,88.9 640,88.6 641,88.7 642,85.9 643,84.8 644,83.6 645,83.7 646,84.5 647,82.8 648,81.4 649,80.9 650,79.4 651,79.8 652,80.1 653,79.3 654,78.9 655,77.4 656,76.1 657,76.1 658,76.3 659,74.3 660,74.6 661,74.7 662,73.8 663,73.6 664,72.8 665,70.8 666,69.0 667,68.3 668,68.9 669,70.3 670,68.5 671,66.1 672,66.8 673,67.0 674,66.2 675,66.1 676,65.1 677,65.8 678,65.7 679,64.6 680,63.1 681,62.9 682,62.0 683,60.2 684,59.9 685,60.3 686,58.1 687,56.8 688,58.0 689,58.4 690,56.8 691,55.7 692,56.4 693,55.2 694,54.1 695,52.4 696,52.7 697,53.1 698,52.6 699,51.4 700,51.5 701,50.6 702,48.4 703,47.3 704,46.9 705,47.2 706,46.1 707,45.6 708,44.4 709,42.9 710,43.6 711,44.0 712,43.9 713,44.9"/><polyline stroke="#ff0000" points="125,370.7 126,370.1 127,369.2 128,369.1 129,368.4 130,368.0 131,369.5 132,369.5 133,368.2 134,366.5 135,367.6 136,368.1 137,368.8 138,369.0 139,366.9 140,365.9 141,365.2 142,365.1 143,365.9 144,366.2 145,366.0 146,365.3 147,364.6 148,362.7 149,361.5 150,361.8 151,361.6 152,360.4 153,359.3 154,357.2 155,355.0 156,353.5 157,352.8 158,353.1 159,351.2 160,350.0 161,349.7 162,348.8 163,347.7 164,344.9 165,344.6 166,342.3 167,339.1 168,337.3 169,337.2 170,335.9 171,333.2 172,333.2 173,333.9 174,332.9 175,330.3 176,330.3 177,330.2 178,328.0 179,325.7 180,324.9 181,323.8 182,323.1 183,323.0 184,323.2 185,322.6 186,322.9 187,321.9 188,319.7 189,318.0 190,317.7 191,318.0 192,319.1 193,317.6 194,316.9 195,317.6 196,316.6 197,316.5 198,315.4 199,314.4 200,314.3 201,313.8 202,314.1 203,314.7 204,313.9 205,313.3 206,314.0 207,314.4 208,313.7 209,311.4 210,313.1 211,313.2 212,312.2 213,311.2 214,311.5 215,310.7 216,311.3 217,313.4 218,312.0 219,311.2 220,308.6 221,307.8 222,308.3 223,309.4 224,309.5 225,308.6 226,306.2 227,306.3 228,305.9 229,304.8 230,304.2 231,301.6 232,301.4 233,301.4 234,300.5 235,299.7 236,299.5 237,297.7 238,295.9 239,295.0 240,295.7 241,294.1 242,294.4 243,292.6 244,293.5 245,292.7 246,292.5 247,292.6 248,291.4 249,290.2 250,290.2 251,289.3 252,289.2 253,287.5 254,285.9 255,286.5 256,285.0 257,284.6 258,285.0 259,283.5 260,282.2 261,280.4 262,278.9 263,278.1 264,278.4 265,278.8 266,278.0 267,277.5 268,278.4 269,278.3 270,276.3 271,274.7 272,273.0 273,272.5 274,272.6 275,271.7 276,271.1 277,270.6 278,268.9 279,268.3 280,268.6 281,267.7 282,265.3 283,263.9 284,264.4 285,264.7 286,263.9 287,263.8 288,263.7 289,262.6 290,261.8 291,260.9 292,261.6 293,260.5 294,259.8 295,259.8 296,258.9 297,258.3 298,258.6 299,258.9 300,260.8 301,261.7 302,259.1 303,256.4 304,255.9 305,257.2 306,255.3 307,254.6 308,255.5 309,254.9 310,254.5 311,253.1 312,251.9 313,250.9 314,251.8 315,252.1 316,249.1 317,247.6 318,249.0 319,248.0 320,246.2 321,245.3 322,244.4 323,243.6 324,243.7 325,243.6 326,242.6 327,241.8 328,240.4 329,239.6 330,237.9 331,237.8 332,238.1 333,238.3 334,236.7 335,235.1 336,235.2 337,234.5 338,234.7 339,234.5 340,235.0 341,235.2 342,235.5 343,234.2 344,233.4 345,232.6 346,233.3 347,232.7 348,231.3 349,231.8 350,231.3 351,231.6 352,231.7 353,230.7 354,229.9 355,230.2 356,230.6 357,229.8 358,228.6 359,228.2 360,227.8 361,226.9 362,226.3 363,225.0 364,224.4 365,224.8 366,225.1 367,224.5 368,225.5 369,225.8 370,223.9 371,222.2 372,221.9 373,222.9 374,222.7 375,222.1 376,221.7 377,222.2 378,221.0 379,219.3 380,219.5 381,220.0 382,219.5 383,218.6 384,218.3 385,217.6 386,217.7 387,217.8 388,216.8 389,216.4 390,216.0 391,215.2 392,214.3 393,214.0 394,214.0 395,213.8 396,213.5 397,212.3 398,211.8 399,212.4 400,212.5 401,212.2 402,211.4 403,210.8 404,211.2 405,210.8 406,210.2 407,210.3 408,209.8 409,209.9 410,210.3 411,209.6 412,209.0 413,209.0 414,209.2 415,208.8 416,207.9 417,207.3 418,207.2 419,206.9 420,206.2 421,205.9 422,206.4 423,206.5 424,206.0 425,205.9 426,205.9 427,205.5 428,204.9 429,204.5 430,204.1 431,204.2 432,204.2 433,203.6 434,203.4 435,203.6 436,202.5 437,202.1 438,202.5 439,202.6 440,202.7 441,202.4 442,202.0 443,202.1 444,201.5 445,200.8 446,200.2 447,200.0 448,200.4 449,200.3 450,199.5 451,199.3 452,199.6 453,199.5 454,199.6 455,199.0 456,198.7 457,198.7 458,198.1 459,198.4 460,198.2 461,197.6 462,197.2 463,197.1 464,196.7 465,196.5 466,196.4 467,197.1 468,196.6 469,195.9 470,194.9 471,194.2 472,193.5 473,192.8 474,192.4 475,191.7 476,190.6 477,190.3 478,191.2 479,191.1 480,188.4 481,187.1 482,186.9 483,186.4 484,185.5 485,184.8 486,184.9 487,183.9 488,182.5 489,181.9 490,180.7 491,179.6 492,178.8 493,180.3 494,179.7 495,179.0 496,178.5 497,178.5 498,178.3 499,177.7 500,177.0 501,174.7 502,173.4 503,172.6 504,172.1 505,172.0 506,170.7 507,171.0 508,170.5 509,171.3 510,170.4 511,170.8 512,170.5 513,169.0 514,166.7 515,167.0 516,167.2 517,167.4 518,167.0 519,166.9 520,166.4 521,165.2 522,163.2 523,163.4 524,162.0 525,159.8 526,160.2 527,161.3 528,160.6 529,161.0 530,161.2 531,159.0 532,158.1 533,156.4 534,156.7 535,158.7 536,159.0 537,157.6 538,156.7 539,156.6 540,155.9 541,154.7 542,154.4 543,152.3 544,153.6 545,153.6 546,152.9 547,153.4 548,152.7 549,151.5 550,151.8 551,151.7 552,150.9 553,149.6 554,149.7 555,149.2 556,149.2 557,148.7 558,147.3 559,146.9 560,147.0 561,146.4 562,145.7 563,145.1 564,144.6 565,143.2 566,142.6 567,142.5 568,141.6 569,141.7 570,141.9 571,140.7 572,139.5 573,138.2 574,137.4 575,137.6 576,137.5 577,137.5 578,137.1 579,136.4 580,136.7 581,135.3 582,134.0 583,133.8 584,133.3 585,133.2 586,132.0 587,131.8 588,132.0 589,130.4 590,129.2 591,127.8 592,127.6 593,124.6 594,122.6 595,123.6 596,124.1 597,122.7 598,121.1 599,120.6 600,120.0 601,119.3 602,117.3 603,116.4 604,116.7 605,116.7 606,115.2 607,112.6 608,112.2 609,111.8 610,110.8 611,109.7 612,108.4 613,107.8 614,107.9 615,106.7 616,105.3 617,103.6 618,102.2 619,102.2 620,101.9 621,100.3 622,99.6 623,100.2 624,99.6 625,97.9 626,96.2 627,96.4 628,95.5 629,94.7 630,94.5 631,92.6 632,92.3 633,92.6 634,91.4 635,91.0 636,90.1 637,88.5 638,89.1 639,89.8 640,91.1 641,88.6 642,87.5 643,88.4 644,88.6 645,87.7 646,87.5 647,86.6 648,85.1 649,83.3 650,82.5 651,81.6 652,81.6 653,80.8 654,82.9 655,84.5 656,82.4 657,79.9 658,78.8 659,80.0 660,80.0 661,79.6 662,78.8 663,77.4 664,78.5 665,76.4 666,75.0 667,75.1 668,72.7 669,72.3 670,72.0 671,71.6 672,72.7 673,72.6 674,72.5 675,72.2 676,71.0 677,69.1 678,68.3 679,66.6 680,65.6 681,64.4 682,65.0 683,64.3 684,64.1 685,64.3 686,63.3 687,61.9 688,61.1 689,61.1 690,61.2 691,59.5 692,58.8 693,58.6 694,58.2 695,58.0 696,56.5 697,52.8 698,51.7 699,50.9 700,49.8 701,48.4 702,47.1 703,45.1 704,43.6 705,44.5 706,45.1 707,44.9 708,43.5 709,42.9 710,42.4 711,40.8 712,39.2 713,38.5"/><polyline stroke="#ffc0c0" points="125,363.8 126,363.7 127,363.2 128,362.9 129,363.0 130,363.5 131,362.8 132,363.3 133,363.3 134,363.8 135,361.6 136,360.9 137,361.3 138,361.2 139,361.3 140,361.8 141,359.9 142,360.1 143,360.3 144,359.4 145,358.2 146,357.2 147,356.2 148,356.4 149,355.1 150,354.4 151,353.2 152,352.4 153,352.3 154,351.2 155,351.0 156,349.9 157,347.8 158,347.5 159,346.7 160,346.2 161,347.4 162,347.3 163,344.2 164,342.5 165,342.4 166,340.5 167,339.9 168,339.9 169,339.0 170,338.3 171,337.4 172,336.1 173,335.3 174,332.9 175,332.1 176,333.1 177,331.4 178,332.0 179,331.2 180,327.4 181,327.3 182,326.2 183,325.9 184,326.0 185,325.1 186,324.9 187,324.6 188,323.1 189,322.6 190,323.2 191,321.2 192,320.6 193,319.6 194,319.6 195,318.9 196,317.8 197,317.1 198,316.2 199,314.9 200,313.6 201,314.3 202,314.8 203,314.8 204,312.8 205,311.4 206,309.9 207,308.9 208,309.5 209,309.5 210,309.2 211,308.4 212,307.8 213,308.8 214,308.8 215,309.4 216,309.6 217,307.8 218,306.5 219,306.3 220,307.6 221,307.9 222,306.6 223,306.0 224,305.8 225,306.2 226,305.3 227,304.5 228,303.5 229,302.6 230,303.8 231,304.9 232,305.1 233,303.5 234,301.1 235,300.4 236,301.1 237,301.2 238,300.8 239,301.9 240,301.1 241,300.7 242,300.0 243,299.6 244,298.0 245,299.4 246,298.5 247,296.8 248,296.0 249,296.1 250,295.7 251,294.4 252,294.5 253,293.6 254,293.4 255,292.8 256,292.8 257,291.2 258,289.8 259,290.9 260,289.3 261,286.6 262,285.5 263,283.5 264,283.0 265,282.2 266,280.8 267,279.5 268,279.3 269,278.9 270,276.8 271,276.7 272,275.1 273,272.5 274,272.0 275,272.2 276,271.0 277,269.9 278,269.6 279,268.5 280,267.3 281,265.9 282,266.3 283,265.1 284,264.3 285,263.2 286,262.3 287,261.5 288,261.8 289,261.5 290,260.0 291,259.4 292,259.2 293,258.8 294,259.7 295,259.2 296,257.7 297,257.7 298,257.8 299,256.8 300,254.9 301,254.2 302,255.5 303,255.5 304,253.7 305,252.8 306,252.4 307,252.4 308,251.5 309,251.3 310,251.5 311,250.3 312,249.8 313,250.2 314,249.4 315,247.9 316,247.4 317,246.8 318,246.7 319,246.5 320,245.6 321,244.4 322,243.2 323,243.3 324,242.9 325,242.2 326,242.5 327,242.1 328,241.0 329,240.2 330,240.9 331,240.3 332,240.2 333,239.2 334,238.6 335,238.3 336,237.5 337,237.0 338,236.9 339,237.2 340,236.1 341,236.0 342,236.6 343,235.8 344,235.3 345,235.9 346,236.4 347,234.8 348,234.0 349,233.5 350,233.2 351,232.7 352,231.7 353,231.5 354,231.5 355,231.5 356,230.8 357,228.8 358,229.1 359,229.2 360,228.1 361,226.9 362,226.2 363,225.6 364,225.2 365,224.2 366,224.4 367,224.1 368,223.5 369,224.1 370,225.5 371,224.2 372,221.6 373,221.1 374,221.9 375,220.6 376,220.4 377,221.0 378,220.5 379,219.3 380,220.2 381,220.2 382,219.3 383,217.9 384,218.0 385,217.8 386,218.4 387,218.3 388,217.6 389,216.1 390,215.7 391,216.1 392,215.4 393,215.1 394,214.7 395,215.3 396,214.3 397,213.3 398,213.6 399,212.9 400,212.4 401,212.4 402,212.3 403,212.2 404,211.7 405,211.0 406,211.2 407,210.9 408,210.8 409,210.6 410,209.9 411,209.5 412,209.2 413,209.5 414,209.7 415,209.4 416,209.2 417,208.4 418,208.3 419,208.1 420,208.3 421,207.9 422,207.5 423,207.5 424,207.0 425,206.7 426,206.2 427,205.6 428,205.1 429,205.4 430,205.5 431,205.2 432,205.2 433,205.1 434,204.9 435,204.3 436,204.2 437,203.9 438,203.7 439,203.2 440,202.8 441,202.1 442,201.4 443,200.7 444,200.0 445,200.2 446,200.6 447,200.0 448,200.0 449,199.8 450,199.4 451,199.2 452,198.8 453,198.3 454,197.6 455,197.3 456,197.5 457,197.4 458,196.6 459,195.5 460,195.8 461,195.2 462,194.9 463,194.0 464,194.0 465,193.6 466,193.4 467,193.4 468,193.1 469,191.6 470,191.5 471,191.1 472,191.2 473,190.5 474,190.1 475,190.2 476,189.9 477,188.9 478,188.5 479,188.6 480,188.5 481,187.8 482,186.3 483,185.8 484,186.1 485,185.7 486,186.6 487,184.9 488,182.7 489,184.3 490,184.7 491,182.6 492,181.6 493,181.9 494,183.7 495,181.3 496,178.6 497,179.1 498,180.0 499,179.5 500,177.1 501,176.3 502,176.6 503,177.2 504,178.0 505,177.8 506,175.3 507,174.0 508,173.2 509,171.7 510,170.7 511,170.3 512,169.2 513,169.4 514,169.6 515,168.0 516,167.7 517,167.1 518,166.4 519,165.3 520,163.5 521,162.4 522,163.3 523,162.2 524,159.6 525,159.2 526,158.7 527,158.5 528,157.9 529,158.0 530,157.7 531,155.9 532,154.9 533,154.1 534,155.3 535,155.4 536,154.7 537,154.8 538,154.4 539,152.8 540,151.5 541,151.6 542,150.5 543,149.5 544,150.2 545,149.5 546,147.8 547,147.6 548,147.7 549,147.2 550,147.0 551,147.1 552,146.6 553,145.6 554,144.3 555,145.3 556,145.6 557,143.8 558,142.2 559,141.4 560,142.2 561,142.9 562,141.9 563,140.7 564,140.4 565,139.7 566,139.1 567,138.3 568,137.1 569,137.2 570,137.4 571,136.5 572,136.0 573,135.6 574,135.5 575,134.5 576,133.8 577,131.8 578,130.3 579,130.4 580,128.9 581,128.5 582,128.0 583,127.7 584,126.1 585,125.8 586,126.0 587,124.3 588,123.2 589,123.1 590,122.4 591,120.1 592,120.6 593,119.6 594,116.5 595,116.9 596,117.2 597,114.8 598,112.6 599,111.5 600,111.2 601,110.4 602,109.4 603,109.0 604,108.9 605,108.5 606,108.0 607,107.5 608,106.7 609,106.6 610,105.9 611,106.1 612,105.2 613,103.4 614,103.4 615,103.8 616,103.1 617,102.7 618,102.0 619,100.5 620,99.0 621,99.7 622,99.7 623,100.1 624,98.7 625,96.9 626,96.8 627,96.6 628,96.2 629,96.1 630,96.2 631,94.7 632,93.6 633,93.6 634,92.3 635,90.8 636,89.9 637,89.9 638,91.1 639,91.8 640,90.6 641,90.7 642,89.4 643,87.8 644,87.2 645,86.6 646,84.8 647,83.7 648,85.3 649,86.1 650,85.0 651,84.7 652,84.1 653,84.7 654,83.5 655,82.9 656,83.1 657,82.9 658,81.7 659,81.2 660,78.7 661,78.0 662,78.4 663,78.2 664,78.0 665,75.4 666,74.6 667,73.4 668,73.5 669,73.8 670,73.5 671,72.4 672,71.4 673,69.4 674,67.5 675,66.8 676,66.7 677,66.0 678,65.1 679,65.5 680,65.1 681,64.5 682,64.2 683,62.3 684,61.8 685,62.0 686,61.1 687,60.5 688,59.5 689,58.6 690,58.4 691,57.2 692,57.4 693,56.1 694,55.6 695,54.8 696,54.9 697,53.5 698,51.4 699,51.0 700,49.7 701,46.8 702,46.9 703,46.7 704,46.9 705,47.6 706,47.5 707,47.7 708,45.7 709,45.1 710,45.1 711,44.0 712,43.7 713,44.7"/><polyline stroke="#ff0000" points="125,372.9 126,371.6 127,370.1 128,368.7 129,368.1 130,367.0 131,365.9 132,364.8 133,364.6 134,364.4 135,364.8 136,363.5 137,361.7 138,359.6 139,360.2 140,360.0 141,359.5 142,359.2 143,357.6 144,356.3 145,355.9 146,355.2 147,353.9 148,354.1 149,353.0 150,352.6 151,350.9 152,350.6 153,349.5 154,348.4 155,348.2 156,348.4 157,345.3 158,344.6 159,343.5 160,343.4 161,343.6 162,342.2 163,340.8 164,339.3 165,337.2 166,335.0 167,335.0 168,335.0 169,336.4 170,336.7 171,334.7 172,332.3 173,330.6 174,329.6 175,330.4 176,330.8 177,328.5 178,327.8 179,327.9 180,326.9 181,326.5 182,325.5 183,325.3 184,324.2 185,322.0 186,321.1 187,322.8 188,322.2 189,320.9 190,319.8 191,318.8 192,317.2 193,316.9 194,316.4 195,316.0 196,317.0 197,318.5 198,319.1 199,316.1 200,314.7 201,316.0 202,315.0 203,312.1 204,311.7 205,313.3 206,313.5 207,312.8 208,312.4 209,314.2 210,314.1 211,312.6 212,312.2 213,312.0 214,313.1 215,312.8 216,313.4 217,312.4 218,311.3 219,309.5 220,310.4 221,310.9 222,309.2 223,308.8 224,307.4 225,306.9 226,306.2 227,306.8 228,307.3 229,306.4 230,305.4 231,304.8 232,304.0 233,302.8 234,301.0 235,298.7 236,299.5 237,300.1 238,299.5 239,296.7 240,295.6 241,297.0 242,297.0 243,296.6 244,296.7 245,294.6 246,291.9 247,293.4 248,294.6 249,294.0 250,291.5 251,290.5 252,290.3 253,290.1 254,289.5 255,289.5 256,289.0 257,287.9 258,286.7 259,286.9 260,287.0 261,286.7 262,286.0 263,284.2 264,281.9 265,282.1 266,282.6 267,281.4 268,280.5 269,280.0 270,278.7 271,277.6 272,277.3 273,275.5 274,274.0 275,273.5 276,272.6 277,271.0 278,271.6 279,271.4 280,270.9 281,269.3 282,268.8 283,268.2 284,266.0 285,264.1 286,264.3 287,264.2 288,262.9 289,261.8 290,262.2 291,260.3 292,259.9 293,260.4 294,260.5 295,259.8 296,258.3 297,257.8 298,257.4 299,256.7 300,257.1 301,257.2 302,255.0 303,253.7 304,253.1 305,253.9 306,252.7 307,251.8 308,251.9 309,250.9 310,249.9 311,250.4 312,249.8 313,247.4 314,246.0 315,246.1 316,246.2 317,246.2 318,246.1 319,244.8 320,243.4 321,243.1 322,243.1 323,243.0 324,243.0 325,241.8 326,240.2 327,238.8 328,238.8 329,238.7 330,238.1 331,238.2 332,239.0 333,238.9 334,238.9 335,238.4 336,237.5 337,236.7 338,237.0 339,237.2 340,236.4 341,236.0 342,236.5 343,236.0 344,234.7 345,233.3 346,232.7 347,233.2 348,233.2 349,233.4 350,232.6 351,230.4 352,229.4 353,230.3 354,231.2 355,229.8 356,228.2 357,228.4 358,227.5 359,226.4 360,226.4 361,225.5 362,225.8 363,224.9 364,224.2 365,222.2 366,221.1 367,221.3 368,222.5 369,222.6 370,222.3 371,221.8 372,221.7 373,221.1 374,219.7 375,217.1 376,218.2 377,219.0 378,218.6 379,217.0 380,216.4 381,216.3 382,216.4 383,215.7 384,216.3 385,216.6 386,217.0 387,216.0 388,215.3 389,215.4 390,215.2 391,213.7 392,213.5 393,214.0 394,213.6 395,213.6 396,213.0 397,212.2 398,212.0 399,211.5 400,211.8 401,211.8 402,211.1 403,210.3 404,210.5 405,210.2 406,209.8 407,210.0 408,210.0 409,209.7 410,209.6 411,209.6 412,209.7 413,209.5 414,209.0 415,208.9 416,208.6 417,207.7 418,207.2 419,207.2 420,207.3 421,207.2 422,207.4 423,207.3 424,206.6 425,206.3 426,206.1 427,206.2 428,205.9 429,206.2 430,206.0 431,205.5 432,205.3 433,205.3 434,205.3 435,204.8 436,203.4 437,203.1 438,203.5 439,203.3 440,203.3 441,202.8 442,202.3 443,201.8 444,201.1 445,201.4 446,201.2 447,201.0 448,200.5 449,200.1 450,199.4 451,199.4 452,199.1 453,198.3 454,198.0 455,197.4 456,197.7 457,197.8 458,197.6 459,197.4 460,196.7 461,196.6 462,196.5 463,195.9 464,195.2 465,194.2 466,194.1 467,193.9 468,193.4 469,194.0 470,194.4 471,194.4 472,193.7 473,192.0 474,191.4 475,191.4 476,190.9 477,189.9 478,189.7 479,190.5 480,189.2 481,187.8 482,186.4 483,184.9 484,186.1 485,185.7 486,184.6 487,183.9 488,183.8 489,184.4 490,184.0 491,184.1 492,184.6 493,184.5 494,182.9 495,182.0 496,181.0 497,180.0 498,180.2 499,179.9 500,179.0 501,178.3 502,176.2 503,174.9 504,174.6 505,175.0 506,174.9 507,173.8 508,173.1 509,172.9 510,170.3 511,168.2 512,168.4 513,169.5 514,168.3 515,167.8 516,167.4 517,166.7 518,166.3 519,165.2 520,164.1 521,162.4 522,162.4 523,163.1 524,161.3 525,160.6 526,158.8 527,158.5 528,159.4 529,159.2 530,157.6 531,157.1 532,157.9 533,156.4 534,154.5 535,155.2 536,155.0 537,154.8 538,154.6 539,154.0 540,153.3 541,151.6 542,150.3 543,149.6 544,149.8 545,150.1 546,149.0 547,148.3 548,148.3 549,147.4 550,146.2 551,146.7 552,147.6 553,147.4 554,146.0 555,144.1 556,143.5 557,144.2 558,143.3 559,142.0 560,141.6 561,139.9 562,139.5 563,140.2 564,141.3 565,141.0 566,139.8 567,138.9 568,138.3 569,137.7 570,137.0 571,136.3 572,136.0 573,136.4 574,135.9 575,134.5 576,134.1 577,133.1 578,132.8 579,132.6 580,131.7 581,131.0 582,130.1 583,128.5 584,127.8 585,126.7 586,125.8 587,124.9 588,124.6 589,124.2 590,123.7 591,122.2 592,122.2 593,120.4 594,118.9 595,118.6 596,118.9 597,116.8 598,116.8 599,117.9 600,116.5 601,114.5 602,113.8 603,114.7 604,113.7 605,112.6 606,111.9 607,112.8 608,112.5 609,112.6 610,112.4 611,111.9 612,111.4 613,110.0 614,109.1 615,109.3 616,109.6 617,109.5 618,109.0 619,109.0 620,108.2 621,105.9 622,105.1 623,104.6 624,102.3 625,101.2 626,101.2 627,102.0 628,101.7 629,100.5 630,97.7 631,96.1 632,95.7 633,94.0 634,94.0 635,93.6 636,93.0 637,92.3 638,90.9 639,88.7 640,88.7 641,88.3 642,88.2 643,86.5 644,86.6 645,85.5 646,83.8 647,84.3 648,85.3 649,83.5 650,82.6 651,83.2 652,82.3 653,81.0 654,81.1 655,81.6 656,81.2 657,80.1 658,79.2 659,77.9 660,77.2 661,76.0 662,75.0 663,75.2 664,75.6 665,74.8 666,74.7 667,75.1 668,72.8 669,73.7 670,74.6 671,73.7 672,72.2 673,70.0 674,68.4 675,67.5 676,68.0 677,69.7 678,68.9 679,67.5 680,65.8 681,64.8 682,65.3 683,66.4 684,65.6 685,64.2 686,63.4 687,62.7 688,63.3 689,62.6 690,61.3 691,60.7 692,60.7 693,59.4 694,58.9 695,58.4 696,57.1 697,56.0 698,56.5 699,55.4 700,54.1 701,52.0 702,51.8 703,52.0 704,51.3 705,50.7 706,50.8 707,50.3 708,50.5 709,49.3 710,50.4 711,50.5 712,51.1 713,52.5"/><polyline stroke="#00ffff" points="125,367.7 126,367.2 127,368.1 128,368.0 129,367.7 130,367.9 131,365.7 132,364.0 133,363.6 134,363.8 135,364.2 136,362.5 137,360.7 138,359.9 139,360.9 140,361.7 141,360.2 142,359.4 143,358.4 144,357.1 145,358.0 146,358.0 147,356.9 148,355.6 149,353.6 150,351.5 151,353.4 152,355.3 153,353.1 154,350.2 155,348.6 156,349.5 157,346.9 158,346.5 159,347.0 160,344.8 161,342.6 162,341.9 163,342.5 164,343.4 165,344.3 166,343.0 167,340.8 168,338.6 169,338.7 170,339.6 171,338.1 172,337.9 173,336.9 174,335.4 175,335.5 176,334.8 177,333.7 178,334.1 179,331.5 180,328.8 181,327.5 182,326.3 183,327.2 184,328.5 185,327.8 186,325.4 187,323.8 188,323.8 189,326.0 190,324.4 191,322.2 192,323.3 193,323.7 194,322.0 195,320.2 196,319.7 197,319.6 198,318.3 199,317.1 200,317.8 201,317.6 202,316.0 203,316.5 204,315.1 205,314.5 206,314.9 207,313.5 208,314.2 209,314.8 210,313.9 211,311.3 212,311.9 213,314.5 214,314.2 215,311.9 216,311.6 217,312.4 218,311.7 219,311.7 220,311.1 221,310.6 222,309.2 223,308.7 224,308.2 225,308.0 226,307.0 227,305.9 228,306.4 229,305.0 230,303.3 231,304.1 232,302.6 233,302.5 234,302.0 235,300.3 236,298.6 237,299.3 238,298.3 239,296.9 240,296.8 241,295.8 242,294.3 243,294.4 244,292.6 245,292.8 246,293.3 247,293.3 248,293.0 249,291.8 250,290.4 251,290.8 252,290.5 253,289.4 254,288.8 255,288.4 256,288.4 257,287.2 258,287.8 259,288.1 260,287.1 261,285.7 262,284.4 263,283.7 264,283.6 265,282.2 266,281.2 267,281.3 268,280.7 269,281.1 270,280.8 271,278.9 272,277.3 273,277.1 274,276.4 275,276.2 276,275.2 277,273.6 278,273.0 279,272.4 280,271.1 281,270.2 282,269.4 283,269.1 284,268.4 285,267.0 286,266.1 287,265.7 288,266.0 289,265.9 290,264.6 291,262.5 292,261.6 293,261.3 294,261.6 295,261.4 296,260.4 297,259.5 298,257.4 299,257.0 300,258.0 301,257.5 302,256.8 303,256.7 304,256.6 305,255.6 306,255.2 307,255.3 308,254.9 309,253.5 310,252.7 311,252.6 312,250.6 313,250.1 314,250.0 315,249.4 316,248.2 317,246.4 318,247.1 319,246.5 320,247.3 321,245.7 322,243.9 323,243.3 324,242.9 325,242.0 326,241.1 327,240.5 328,239.7 329,239.5 330,239.0 331,238.0 332,237.6 333,237.7 334,237.4 335,237.4 336,236.7 337,237.3 338,236.7 339,235.2 340,235.4 341,234.6 342,234.3 343,234.2 344,233.7 345,233.3 346,233.9 347,233.2 348,232.3 349,231.6 350,230.8 351,231.4 352,231.3 353,231.2 354,230.1 355,229.9 356,230.2 357,230.6 358,231.2 359,230.7 360,230.0 361,229.8 362,230.4 363,229.1 364,226.9 365,227.3 366,228.0 367,227.7 368,227.0 369,225.7 370,225.5 371,225.4 372,224.3 373,223.8 374,223.9 375,223.2 376,222.3 377,222.6 378,221.9 379,221.7 380,220.9 381,220.6 382,219.3 383,219.3 384,219.9 385,218.8 386,217.8 387,217.0 388,215.7 389,215.1 390,215.3 391,215.4 392,215.1 393,214.7 394,213.2 395,212.3 396,211.9 397,211.7 398,211.3 399,211.1 400,211.1 401,211.2 402,211.7 403,211.3 404,210.2 405,210.0 406,209.6 407,209.2 408,209.1 409,209.2 410,209.6 411,209.2 412,209.0 413,208.9 414,208.4 415,208.3 416,208.4 417,208.4 418,208.0 419,207.6 420,207.7 421,207.8 422,207.4 423,206.7 424,207.1 425,207.4 426,207.4 427,206.9 428,206.1 429,205.1 430,205.4 431,205.5 432,205.5 433,205.4 434,205.7 435,205.3 436,204.6 437,203.7 438,203.1 439,203.4 440,203.5 441,203.1 442,202.0 443,201.1 444,201.3 445,201.4 446,201.4 447,201.1 448,200.8 449,200.5 450,199.8 451,199.7 452,198.6 453,198.0 454,197.6 455,197.9 456,197.4 457,197.1 458,196.7 459,196.1 460,195.8 461,196.2 462,196.6 463,196.7 464,196.3 465,195.3 466,194.4 467,194.0 468,193.8 469,193.4 470,193.3 471,192.9 472,192.4 473,191.7 474,191.7 475,191.6 476,192.1 477,192.2 478,190.9 479,188.3 480,187.6 481,187.9 482,188.8 483,188.5 484,187.3 485,186.8 486,188.1 487,186.3 488,185.7 489,186.2 490,184.8 491,184.9 492,185.2 493,183.9 494,182.8 495,181.8 496,181.9 497,182.1 498,181.9 499,182.0 500,181.0 501,179.6 502,180.9 503,181.3 504,180.4 505,179.5 506,178.0 507,177.0 508,175.4 509,175.3 510,175.6 511,176.9 512,176.2 513,173.6 514,172.4 515,171.7 516,172.3 517,171.3 518,168.9 519,167.8 520,165.8 521,163.8 522,164.3 523,163.5 524,163.9 525,164.1 526,163.8 527,163.4 528,162.2 529,160.9 530,160.2 531,160.0 532,158.5 533,156.9 534,156.6 535,157.4 536,157.6 537,156.0 538,155.7 539,153.3 540,152.4 541,152.4 542,151.7 543,150.7 544,151.0 545,149.8 546,147.8 547,147.1 548,147.3 549,148.6 550,148.5 551,146.5 552,144.0 553,142.9 554,143.1 555,143.2 556,142.9 557,141.8 558,141.0 559,140.7 560,140.4 561,140.0 562,139.4 563,138.8 564,139.4 565,139.5 566,138.4 567,137.8 568,137.1 569,137.4 570,136.4 571,135.8 572,135.2 573,135.7 574,135.0 575,134.0 576,134.8 577,133.6 578,134.4 579,133.4 580,131.3 581,130.1 582,132.1 583,132.3 584,131.0 585,128.4 586,127.9 587,126.3 588,124.8 589,125.3 590,125.2 591,124.3 592,123.3 593,123.6 594,124.0 595,122.5 596,122.0 597,120.9 598,119.4 599,119.3 600,119.0 601,119.3 602,118.1 603,116.6 604,117.6 605,117.6 606,115.8 607,115.9 608,116.0 609,115.6 610,114.3 611,111.7 612,112.5 613,112.8 614,111.6 615,110.7 616,110.2 617,110.6 618,111.6 619,109.5 620,107.0 621,106.5 622,106.8 623,106.2 624,104.1 625,102.6 626,102.7 627,102.5 628,100.0 629,98.4 630,98.2 631,97.7 632,96.9 633,94.5 634,93.5 635,94.1 636,93.0 637,91.4 638,90.6 639,91.2 640,90.7 641,88.8 642,88.5 643,87.8 644,88.0 645,87.1 646,86.4 647,84.8 648,85.4 649,84.7 650,83.6 651,83.1 652,82.0 653,81.6 654,81.2 655,79.4 656,78.4 657,78.7 658,78.9 659,78.2 660,78.0 661,77.6 662,76.9 663,77.8 664,76.1 665,75.1 666,75.0 667,74.9 668,74.0 669,72.1 670,71.2 671,71.9 672,72.9 673,72.2 674,71.9 675,69.3 676,68.3 677,67.6 678,66.3 679,67.2 680,68.3 681,66.5 682,66.2 683,65.3 684,64.0 685,63.6 686,62.5 687,61.8 688,61.7 689,60.9 690,59.6 691,60.7 692,60.4 693,57.7 694,54.5 695,54.0 696,53.2 697,52.1 698,52.3 699,51.7 700,50.3 701,49.2 702,46.6 703,46.3 704,47.1 705,46.9 706,46.7 707,45.0 708,44.6 709,42.8 710,42.6 711,42.4 712,40.4 713,39.4"/><polyline stroke="#800000" points="125,373.4 126,371.8 127,371.8 128,372.5 129,373.0 130,373.7 131,372.9 132,373.0 133,372.3 134,370.6 135,370.8 136,369.2 137,368.5 138,369.9 139,370.9 140,368.8 141,367.1 142,364.8 143,364.9 144,365.6 145,364.1 146,363.8 147,362.6 148,360.1 149,358.7 150,360.2 151,360.4 152,358.5 153,358.2 154,358.2 155,355.0 156,354.4 157,353.8 158,354.0 159,353.4 160,350.6 161,349.3 162,348.2 163,347.9 164,347.1 165,346.2 166,344.4 167,343.1 168,343.1 169,342.1 170,340.4 171,340.6 172,339.0 173,337.5 174,336.7 175,335.6 176,334.6 177,332.4 178,330.9 179,330.3 180,329.1 181,328.5 182,328.8 183,328.6 184,328.4 185,327.6 186,325.7 187,323.9 188,323.4 189,323.5 190,322.8 191,321.1 192,319.8 193,320.2 194,319.5 195,318.6 196,319.1 197,317.6 198,317.3 199,316.6 200,317.2 201,314.3 202,314.0 203,314.1 204,314.0 205,313.3 206,311.8 207,311.6 208,311.5 209,310.0 210,309.6 211,309.2 212,309.1 213,309.0 214,310.3 215,311.9 216,310.2 217,308.2 218,309.0 219,309.2 220,308.2 221,306.9 222,305.4 223,306.4 224,307.0 225,307.3 226,306.5 227,305.8 228,305.8 229,306.1 230,305.0 231,303.3 232,302.7 233,304.0 234,303.3 235,302.9 236,302.1 237,301.8 238,302.2 239,301.6 240,300.5 241,299.4 242,299.5 243,298.5 244,296.7 245,297.7 246,296.2 247,295.5 248,296.0 249,295.0 250,293.1 251,293.4 252,293.4 253,293.0 254,292.4 255,292.4 256,292.9 257,291.2 258,289.9 259,290.9 260,289.2 261,289.6 262,289.3 263,288.9 264,287.5 265,284.2 266,283.4 267,283.5 268,282.5 269,281.6 270,281.6 271,280.9 272,279.7 273,278.8 274,278.4 275,278.0 276,277.7 277,277.4 278,276.2 279,273.8 280,272.5 281,271.0 282,270.2 283,269.7 284,268.2 285,267.8 286,266.0 287,266.1 288,265.8 289,264.9 290,263.0 291,262.2 292,261.8 293,262.3 294,261.6 295,260.0 296,258.8 297,258.6 298,257.5 299,257.8 300,257.3 301,256.6 302,256.2 303,256.0 304,256.7 305,256.6 306,255.5 307,252.9 308,251.6 309,252.1 310,252.1 311,252.3 312,251.8 313,251.0 314,250.1 315,247.9 316,248.5 317,247.8 318,245.5 319,245.8 320,245.9 321,243.8 322,242.7 323,242.0 324,241.1 325,240.9 326,240.1 327,241.2 328,241.3 329,240.4 330,240.0 331,239.6 332,239.7 333,239.5 334,238.4 335,237.5 336,236.2 337,236.3 338,236.5 339,237.3 340,236.7 341,235.4 342,235.7 343,236.4 344,235.2 345,233.6 346,233.3 347,232.9 348,232.1 349,232.0 350,232.0 351,231.7 352,231.3 353,231.5 354,231.7 355,230.3 356,229.8 357,229.7 358,228.6 359,229.1 360,229.2 361,226.9 362,225.4 363,225.1 364,224.3 365,225.7 366,224.8 367,224.5 368,224.4 369,224.1 370,223.0 371,221.5 372,220.6 373,220.4 374,219.5 375,218.9 376,220.0 377,220.2 378,219.6 379,218.2 380,217.7 381,217.6 382,217.4 383,216.9 384,216.8 385,216.4 386,216.4 387,216.1 388,215.8 389,215.9 390,216.0 391,216.3 392,215.7 393,215.1 394,215.1 395,214.3 396,213.9 397,213.3 398,212.5 399,212.0 400,211.7 401,211.1 402,211.4 403,211.5 404,211.0 405,211.1 406,210.9 407,210.2 408,209.9 409,209.5 410,209.4 411,209.6 412,209.7 413,209.9 414,209.9 415,208.9 416,209.0 417,208.3 418,208.0 419,208.0 420,208.3 421,208.1 422,207.6 423,207.7 424,207.0 425,206.7 426,206.9 427,206.6 428,206.7 429,206.5 430,207.1 431,207.1 432,206.1 433,205.4 434,204.7 435,204.1 436,204.1 437,204.4 438,204.2 439,203.6 440,203.4 441,203.5 442,203.3 443,202.9 444,203.4 445,203.3 446,203.1 447,202.7 448,202.3 449,202.3 450,201.7 451,201.0 452,201.0 453,201.0 454,200.2 455,200.2 456,200.0 457,200.1 458,200.1 459,199.9 460,200.2 461,200.0 462,199.0 463,198.6 464,198.7 465,197.9 466,198.0 467,198.2 468,197.9 469,197.4 470,196.8 471,196.5 472,195.7 473,195.1 474,195.1 475,195.3 476,194.2 477,193.3 478,191.8 479,189.6 480,189.0 481,189.6 482,189.9 483,189.7 484,188.8 485,186.4 486,187.1 487,187.4 488,185.7 489,183.2 490,183.2 491,183.9 492,183.5 493,182.9 494,182.1 495,180.4 496,178.9 497,179.1 498,179.2 499,178.9 500,177.5 501,176.1 502,175.8 503,175.6 504,174.8 505,172.9 506,172.1 507,172.6 508,172.2 509,172.6 510,170.1 511,169.7 512,170.4 513,170.1 514,169.7 515,169.9 516,169.5 517,168.8 518,168.5 519,168.4 520,166.9 521,165.9 522,164.8 523,162.6 524,162.7 525,163.7 526,163.5 527,162.2 528,160.8 529,161.9 530,162.4 531,161.1 532,161.0 533,160.0 534,159.5 535,159.2 536,158.0 537,157.6 538,156.1 539,155.8 540,156.7 541,157.2 542,156.7 543,156.3 544,155.6 545,154.8 546,154.7 547,153.5 548,151.6 549,151.3 550,150.6 551,149.5 552,150.0 553,151.5 554,150.0 555,149.2 556,149.4 557,149.6 558,148.3 559,147.5 560,146.4 561,144.9 562,144.2 563,144.8 564,144.5 565,143.4 566,143.3 567,142.9 568,142.3 569,141.6 570,141.6 571,141.9 572,141.6 573,141.7 574,141.8 575,141.7 576,140.3 577,138.4 578,136.7 579,135.8 580,137.4 581,139.9 582,138.2 583,136.8 584,135.4 585,133.9 586,132.6 587,132.5 588,132.8 589,132.8 590,132.1 591,131.1 592,129.7 593,129.4 594,128.3 595,128.0 596,126.1 597,126.1 598,126.0 599,124.3 600,122.7 601,121.9 602,121.8 603,120.8 604,119.8 605,118.4 606,117.5 607,116.1 608,114.9 609,113.5 610,112.4 611,110.8 612,110.7 613,110.5 614,108.6 615,106.4 616,104.8 617,105.1 618,104.6 619,104.6 620,105.2 621,104.3 622,103.4 623,101.3 624,100.3 625,99.7 626,99.8 627,98.4 628,96.6 629,96.2 630,95.9 631,95.0 632,92.8 633,91.6 634,92.3 635,91.6 636,89.5 637,89.6 638,90.2 639,89.0 640,89.8 641,88.7 642,88.1 643,88.4 644,88.1 645,85.7 646,84.5 647,84.6 648,85.1 649,84.9 650,82.9 651,80.8 652,81.3 653,82.8 654,83.7 655,82.6 656,81.0 657,79.6 658,80.5 659,79.7 660,78.2 661,77.1 662,78.0 663,77.5 664,76.0 665,76.3 666,76.1 667,74.4 668,74.8 669,74.1 670,73.7 671,73.2 672,72.1 673,71.7 674,71.7 675,71.4 676,70.1 677,68.8 678,68.4 679,68.3 680,67.2 681,66.0 682,66.7 683,67.7 684,66.7 685,64.9 686,64.7 687,64.3 688,62.3 689,61.5 690,61.1 691,60.1 692,60.6 693,58.0 694,55.6 695,56.0 696,57.1 697,56.2 698,54.8 699,54.1 700,54.5 701,53.7 702,50.3 703,49.1 704,47.5 705,47.3 706,47.7 707,47.7 708,47.3 709,47.9 710,47.1 711,45.7 712,45.7 713,48.1"/><polyline stroke="#008000" points="125,370.3 126,370.3 127,370.7 128,369.8 129,369.6 130,370.3 131,368.6 132,368.0 133,366.5 134,365.7 135,365.4 136,364.0 137,363.5 138,363.6 139,362.4 140,362.3 141,362.2 142,361.4 143,359.5 144,357.7 145,358.1 146,357.3 147,357.8 148,357.6 149,356.6 150,355.4 151,353.6 152,352.0 153,351.3 154,350.5 155,349.1 156,347.4 157,348.0 158,347.6 159,346.9 160,346.8 161,345.3 162,344.2 163,344.4 164,343.6 165,342.1 166,340.5 167,340.5 168,340.9 169,340.6 170,339.2 171,339.5 172,339.4 173,338.2 174,337.4 175,336.6 176,334.9 177,334.4 178,333.3 179,332.4 180,332.6 181,331.5 182,328.9 183,328.3 184,328.7 185,327.4 186,325.6 187,326.3 188,325.2 189,323.8 190,325.2 191,323.4 192,321.9 193,319.4 194,318.8 195,320.5 196,319.7 197,317.7 198,317.3 199,318.9 200,317.8 201,316.3 202,314.2 203,314.6 204,314.7 205,313.6 206,313.7 207,314.2 208,312.5 209,310.7 210,309.3 211,310.1 212,310.9 213,310.4 214,310.6 215,309.6 216,308.7 217,308.6 218,307.8 219,308.6 220,308.6 221,308.6 222,308.6 223,307.7 224,307.7 225,306.9 226,308.0 227,308.5 228,307.7 229,307.5 230,307.5 231,305.2 232,303.4 233,303.9 234,304.4 235,305.0 236,304.2 237,303.5 238,302.3 239,301.9 240,302.7 241,303.2 242,301.6 243,300.5 244,299.2 245,298.9 246,300.6 247,300.3 248,297.8 249,297.5 250,296.6 251,295.0 252,295.8 253,295.9 254,296.7 255,295.5 256,295.0 257,292.9 258,291.0 259,291.5 260,291.6 261,290.4 262,289.0 263,288.4 264,287.2 265,285.6 266,284.0 267,283.5 268,283.5 269,281.6 270,282.0 271,280.3 272,279.2 273,279.8 274,277.6 275,274.9 276,274.0 277,273.8 278,273.6 279,272.3 280,271.4 281,270.3 282,269.0 283,267.7 284,268.7 285,268.7 286,267.7 287,264.8 288,264.4 289,264.7 290,265.8 291,265.2 292,264.0 293,264.2 294,263.5 295,263.1 296,263.0 297,262.6 298,260.7 299,260.9 300,261.7 301,261.4 302,260.2 303,260.0 304,260.0 305,261.0 306,260.0 307,259.1 308,259.1 309,257.2 310,254.8 311,254.2 312,254.7 313,253.3 314,251.2 315,251.4 316,252.0 317,251.8 318,250.1 319,250.5 320,249.1 321,249.0 322,247.7 323,246.0 324,245.8 325,245.6 326,244.9 327,243.1 328,242.4 329,242.3 330,242.5 331,241.5 332,239.3 333,238.3 334,238.6 335,238.7 336,239.0 337,239.4 338,238.8 339,238.0 340,237.4 341,236.1 342,235.2 343,235.6 344,235.1 345,233.4 346,233.3 347,233.4 348,232.5 349,231.9 350,231.5 351,230.6 352,231.2 353,230.6 354,229.9 355,229.2 356,229.1 357,227.9 358,226.6 359,226.1 360,224.3 361,223.0 362,224.7 363,225.7 364,223.9 365,222.7 366,221.7 367,222.2 368,222.0 369,220.4 370,219.8 371,219.0 372,218.5 373,218.1 374,218.3 375,217.2 376,217.4 377,217.7 378,217.0 379,217.9 380,218.9 381,217.8 382,217.8 383,217.4 384,216.3 385,216.4 386,216.5 387,216.4 388,216.1 389,216.1 390,215.6 391,215.4 392,215.4 393,214.8 394,214.0 395,214.4 396,214.1 397,213.7 398,213.8 399,213.4 400,213.0 401,212.9 402,212.5 403,212.2 404,212.2 405,211.5 406,211.2 407,211.1 408,210.7 409,210.4 410,210.1 411,209.8 412,209.1 413,208.8 414,209.1 415,209.1 416,208.3 417,207.5 418,206.7 419,206.5 420,207.2 421,207.0 422,206.3 423,206.2 424,205.7 425,205.9 426,205.6 427,204.6 428,204.0 429,203.8 430,203.4 431,203.1 432,203.0 433,203.3 434,203.1 435,202.6 436,202.6 437,202.5 438,201.6 439,201.1 440,201.4 441,201.1 442,201.1 443,201.0 444,200.9 445,200.6 446,200.4 447,200.4 448,200.4 449,200.1 450,199.7 451,198.7 452,198.3 453,198.9 454,198.9 455,199.1 456,199.0 457,199.1 458,199.1 459,198.5 460,198.1 461,198.0 462,198.1 463,198.1 464,197.8 465,196.9 466,196.4 467,197.0 468,195.7 469,195.2 470,195.2 471,193.9 472,192.9 473,193.0 474,192.8 475,191.2 476,192.4 477,192.9 478,189.7 479,188.0 480,188.6 481,188.2 482,188.7 483,189.8 484,188.5 485,186.4 486,185.2 487,184.7 488,184.2 489,184.0 490,182.9 491,183.2 492,182.2 493,180.8 494,180.6 495,179.9 496,179.4 497,179.8 498,178.9 499,178.4 500,176.2 501,174.0 502,173.6 503,174.6 504,175.2 505,174.9 506,174.0 507,173.3 508,174.8 509,176.2 510,175.6 511,173.9 512,172.4 513,171.8 514,172.2 515,172.6 516,172.5 517,172.0 518,170.9 519,168.5 520,166.8 521,166.3 522,166.7 523,165.5 524,164.3 525,163.5 526,164.3 527,165.4 528,163.1 529,161.7 530,160.2 531,159.7 532,160.3 533,161.6 534,160.7 535,159.5 536,158.0 537,157.9 538,158.4 539,156.2 540,154.7 541,153.1 542,152.5 543,152.5 544,151.7 545,150.9 546,150.6 547,150.0 548,148.8 549,147.7 550,146.2 551,146.1 552,146.2 553,144.7 554,143.7 555,143.0 556,142.7 557,142.2 558,142.2 559,143.5 560,141.9 561,140.8 562,140.6 563,139.5 564,139.8 565,139.5 566,139.6 567,139.4 568,138.6 569,138.1 570,137.7 571,138.8 572,139.2 573,138.2 574,137.3 575,138.0 576,137.6 577,136.0 578,134.9 579,134.4 580,135.2 581,135.5 582,136.6 583,135.2 584,134.0 585,134.0 586,133.3 587,132.7 588,132.2 589,131.6 590,129.2 591,128.3 592,128.3 593,126.6 594,127.1 595,129.1 596,126.7 597,124.9 598,122.8 599,120.8 600,120.3 601,120.8 602,120.7 603,120.9 604,118.9 605,118.5 606,119.1 607,117.7 608,117.1 609,116.6 610,115.7 611,115.2 612,114.3 613,111.6 614,109.2 615,109.4 616,110.1 617,109.4 618,107.6 619,106.4 620,106.9 621,106.5 622,105.1 623,103.6 624,103.6 625,103.3 626,101.0 627,97.5 628,96.9 629,97.2 630,97.5 631,99.0 632,98.1 633,96.8 634,97.2 635,96.8 636,94.8 637,92.2 638,91.7 639,93.1 640,92.0 641,91.8 642,90.8 643,88.6 644,88.9 645,89.4 646,89.2 647,88.0 648,88.1 649,88.4 650,86.8 651,86.6 652,86.9 653,86.1 654,85.2 655,85.3 656,84.9 657,85.1 658,86.2 659,85.5 660,82.7 661,81.2 662,79.7 663,78.9 664,78.7 665,78.0 666,76.6 667,76.3 668,75.5 669,75.2 670,74.4 671,73.4 672,72.7 673,70.8 674,69.2 675,68.3 676,68.1 677,67.1 678,67.1 679,67.2 680,66.4 681,65.4 682,64.2 683,63.5 684,63.3 685,63.1 686,63.3 687,62.2 688,59.4 689,58.3 690,59.2 691,57.9 692,55.8 693,55.3 694,56.0 695,55.5 696,55.5 697,53.3 698,51.7 699,53.4 700,52.6 701,50.5 702,49.3 703,49.3 704,47.1 705,45.4 706,44.9 707,44.8 708,45.0 709,45.7 710,45.0 711,44.8 712,45.1 713,44.7"/><polyline stroke="#ffff00" points="125,377.4 126,376.4 127,375.1 128,374.7 129,375.1 130,376.0 131,375.1 132,371.9 133,371.6 134,372.0 135,370.4 136,370.2 137,371.3 138,371.2 139,368.8 140,366.4 141,366.8 142,366.2 143,367.4 144,366.3 145,366.3 146,366.0 147,363.9 148,362.1 149,361.2 150,360.8 151,360.0 152,359.3 153,358.1 154,356.0 155,354.8 156,355.8 157,356.0 158,354.7 159,351.9 160,350.2 161,350.3 162,349.9 163,349.0 164,348.7 165,346.6 166,344.4 167,342.6 168,341.1 169,339.8 170,340.9 171,339.0 172,335.4 173,333.4 174,333.2 175,334.5 176,333.9 177,331.5 178,328.7 179,328.7 180,329.3 181,328.5 182,326.6 183,326.4 184,326.1 185,325.2 186,325.3 187,323.5 188,322.6 189,323.5 190,320.7 191,319.4 192,319.8 193,318.5 194,318.1 195,318.3 196,315.5 197,313.1 198,313.5 199,312.0 200,309.0 201,310.3 202,310.9 203,309.9 204,308.9 205,309.4 206,309.5 207,310.0 208,308.4 209,307.4 210,306.7 211,306.0 212,307.2 213,306.5 214,306.8 215,306.9 216,304.8 217,305.6 218,305.8 219,305.2 220,304.2 221,302.9 222,302.5 223,302.9 224,303.9 225,303.9 226,303.3 227,302.0 228,302.4 229,303.6 230,303.9 231,303.3 232,303.1 233,303.3 234,303.4 235,301.6 236,301.6 237,301.7 238,300.2 239,299.0 240,298.4 241,299.0 242,297.9 243,298.0 244,296.7 245,295.7 246,294.0 247,293.7 248,293.2 249,293.5 250,293.9 251,294.0 252,293.9 253,294.8 254,293.9 255,291.4 256,290.1 257,289.6 258,289.4 259,289.8 260,288.9 261,287.3 262,286.5 263,286.3 264,283.7 265,282.1 266,280.7 267,280.3 268,280.8 269,280.8 270,278.9 271,278.3 272,278.2 273,277.0 274,276.8 275,275.0 276,274.5 277,273.3 278,273.2 279,272.6 280,269.6 281,268.5 282,267.3 283,266.7 284,266.1 285,266.0 286,265.0 287,265.8 288,264.6 289,263.2 290,262.9 291,262.7 292,262.5 293,262.8 294,262.0 295,259.9 296,259.1 297,258.6 298,257.8 299,258.6 300,257.7 301,256.8 302,257.3 303,257.1 304,256.0 305,254.6 306,254.3 307,253.9 308,253.1 309,252.1 310,253.7 311,252.3 312,250.4 313,249.9 314,249.5 315,250.4 316,249.5 317,247.9 318,247.1 319,247.1 320,246.6 321,246.1 322,245.0 323,244.3 324,244.4 325,245.2 326,245.6 327,245.5 328,245.3 329,246.4 330,245.8 331,244.3 332,242.6 333,242.2 334,242.9 335,242.2 336,240.3 337,239.2 338,239.3 339,241.2 340,241.3 341,239.2 342,237.8 343,237.1 344,237.8 345,238.2 346,237.2 347,237.2 348,237.8 349,236.4 350,235.3 351,236.2 352,235.6 353,233.3 354,233.6 355,234.4 356,234.0 357,233.0 358,232.4 359,232.4 360,231.8 361,230.9 362,230.5 363,230.2 364,230.2 365,228.6 366,227.7 367,227.9 368,225.5 369,224.3 370,225.6 371,225.6 372,225.9 373,225.3 374,224.4 375,223.2 376,223.1 377,223.1 378,224.1 379,222.4 380,220.8 381,221.0 382,220.7 383,219.7 384,219.0 385,218.1 386,217.9 387,218.4 388,217.5 389,216.0 390,215.7 391,215.9 392,216.0 393,215.8 394,215.3 395,214.2 396,213.3 397,212.8 398,212.7 399,212.4 400,212.7 401,213.0 402,211.7 403,211.2 404,211.2 405,210.9 406,210.6 407,210.6 408,210.7 409,210.6 410,210.3 411,209.4 412,209.2 413,209.9 414,209.2 415,208.8 416,208.2 417,208.3 418,208.4 419,207.9 420,207.8 421,207.1 422,206.3 423,206.8 424,207.4 425,206.8 426,206.4 427,206.5 428,206.6 429,205.9 430,205.6 431,206.0 432,205.1 433,204.7 434,204.9 435,204.6 436,204.2 437,204.5 438,204.0 439,203.0 440,202.8 441,202.8 442,202.6 443,202.1 444,202.4 445,202.1 446,201.9 447,201.9 448,201.2 449,201.4 450,201.5 451,201.9 452,201.0 453,201.1 454,201.2 455,201.1 456,200.6 457,200.2 458,199.9 459,199.7 460,200.2 461,199.9 462,199.6 463,200.2 464,200.2 465,200.5 466,200.3 467,200.0 468,198.7 469,198.0 470,197.0 471,197.1 472,197.6 473,195.9 474,195.8 475,196.4 476,195.7 477,195.7 478,194.8 479,193.4 480,194.1 481,193.9 482,193.0 483,191.4 484,189.5 485,189.4 486,189.8 487,189.9 488,190.3 489,189.9 490,187.6 491,187.5 492,187.5 493,187.3 494,186.3 495,184.2 496,183.8 497,184.2 498,183.4 499,182.6 500,183.5 501,182.8 502,181.7 503,181.4 504,182.3 505,179.7 506,178.1 507,178.6 508,177.8 509,177.0 510,175.7 511,174.4 512,173.8 513,173.8 514,173.4 515,171.1 516,171.2 517,172.8 518,169.8 519,167.6 520,169.1 521,168.4 522,166.5 523,166.5 524,165.3 525,163.9 526,163.0 527,162.6 528,161.2 529,159.1 530,159.0 531,160.3 532,160.1 533,159.9 534,158.5 535,156.6 536,155.7 537,155.4 538,154.9 539,154.3 540,155.5 541,153.4 542,152.5 543,152.5 544,152.9 545,151.6 546,150.2 547,149.5 548,148.3 549,147.8 550,147.0 551,146.5 552,146.4 553,145.8 554,145.5 555,146.1 556,145.4 557,144.5 558,143.0 559,142.4 560,142.6 561,142.3 562,141.3 563,140.4 564,141.2 565,141.4 566,141.6 567,141.5 568,139.8 569,138.1 570,137.4 571,137.6 572,137.0 573,137.0 574,136.6 575,136.6 576,136.1 577,134.8 578,134.6 579,134.5 580,134.3 581,133.2 582,130.9 583,129.3 584,129.3 585,129.7 586,128.7 587,127.4 588,127.0 589,126.6 590,126.2 591,127.3 592,125.0 593,123.8 594,122.8 595,120.8 596,121.2 597,120.6 598,119.9 599,118.6 600,116.7 601,116.0 602,117.2 603,116.5 604,115.6 605,116.5 606,116.7 607,116.0 608,114.4 609,111.9 610,111.8 611,110.7 612,111.3 613,110.1 614,109.1 615,108.1 616,107.1 617,106.9 618,106.5 619,106.7 620,106.2 621,106.0 622,105.3 623,102.8 624,101.3 625,101.1 626,100.7 627,100.1 628,99.6 629,99.2 630,98.7 631,96.1 632,94.7 633,94.8 634,93.6 635,93.7 636,95.5 637,94.6 638,93.0 639,92.4 640,91.9 641,90.9 642,90.2 643,89.4 644,90.2 645,89.9 646,88.6 647,88.3 648,87.8 649,87.4 650,85.4 651,83.8 652,84.3 653,85.2 654,84.8 655,85.5 656,84.0 657,82.1 658,81.7 659,81.8 660,80.8 661,80.6 662,80.4 663,79.7 664,79.6 665,78.0 666,77.5 667,75.7 668,74.6 669,73.9 670,72.5 671,72.5 672,72.2 673,71.1 674,71.5 675,72.9 676,71.4 677,68.2 678,67.8 679,68.7 680,67.5 681,66.4 682,64.7 683,64.7 684,63.8 685,62.7 686,62.1 687,62.8 688,62.1 689,60.0 690,60.9 691,59.8 692,59.0 693,59.6 694,58.2 695,55.7 696,53.2 697,53.4 698,53.5 699,54.0 700,54.2 701,52.0 702,49.5 703,47.7 704,46.8 705,45.5 706,47.6 707,48.9 708,48.1 709,47.1 710,48.4 711,48.1 712,46.5 713,45.4"/><polyline stroke="#000080" points="125,380.8 126,380.7 127,379.0 128,377.7 129,377.5 130,375.9 131,374.7 132,374.3 133,375.0 134,373.8 135,371.2 136,371.4 137,369.8 138,368.6 139,367.5 140,366.5 141,364.0 142,363.6 143,364.2 144,364.8 145,364.1 146,361.6 147,360.6 148,360.5 149,361.1 150,360.1 151,359.9 152,358.9 153,357.3 154,355.8 155,355.1 156,354.7 157,353.3 158,351.4 159,349.5 160,349.9 161,350.8 162,349.7 163,347.0 164,345.3 165,345.8 166,346.3 167,345.2 168,344.3 169,344.8 170,344.4 171,342.5 172,340.4 173,339.2 174,338.4 175,337.7 176,337.9 177,337.2 178,336.3 179,335.9 180,335.0 181,334.2 182,333.6 183,332.5 184,330.4 185,329.8 186,330.0 187,328.5 188,326.3 189,325.2 190,324.5 191,325.0 192,324.5 193,322.0 194,320.3 195,320.4 196,319.9 197,318.3 198,316.8 199,316.1 200,315.7 201,313.8 202,314.0 203,314.1 204,314.4 205,314.3 206,313.5 207,311.8 208,311.2 209,311.1 210,311.4 211,310.5 212,310.0 213,310.9 214,310.0 215,308.6 216,308.4 217,307.0 218,306.1 219,306.6 220,307.2 221,307.8 222,307.4 223,306.7 224,306.4 225,307.3 226,306.7 227,305.3 228,303.9 229,304.8 230,303.8 231,303.8 232,303.9 233,303.8 234,302.3 235,300.9 236,302.0 237,304.2 238,303.0 239,300.2 240,300.6 241,301.2 242,301.3 243,300.7 244,299.7 245,298.5 246,297.6 247,296.9 248,297.9 249,298.1 250,296.7 251,295.2 252,295.5 253,294.8 254,294.3 255,292.8 256,293.6 257,293.7 258,291.8 259,291.4 260,291.2 261,290.4 262,288.9 263,288.6 264,288.3 265,286.6 266,287.3 267,287.2 268,285.3 269,284.0 270,284.0 271,281.9 272,280.2 273,279.6 274,279.0 275,279.0 276,278.3 277,275.8 278,273.0 279,271.2 280,271.7 281,273.2 282,272.4 283,270.1 284,268.9 285,268.6 286,268.1 287,266.6 288,266.6 289,265.3 290,264.5 291,265.0 292,263.7 293,262.6 294,264.3 295,264.7 296,262.3 297,261.0 298,260.3 299,260.0 300,259.5 301,259.9 302,259.8 303,258.2 304,257.2 305,257.1 306,256.8 307,256.3 308,256.5 309,255.1 310,253.8 311,253.8 312,253.7 313,253.1 314,251.5 315,250.8 316,249.1 317,248.8 318,249.7 319,248.6 320,248.5 321,247.4 322,247.6 323,245.7 324,244.5 325,244.1 326,242.9 327,241.7 328,241.2 329,240.9 330,240.1 331,239.0 332,237.7 333,238.9 334,239.7 335,239.9 336,239.2 337,238.4 338,236.5 339,236.0 340,235.8 341,236.3 342,237.0 343,236.0 344,235.6 345,235.7 346,234.8 347,234.3 348,233.1 349,232.3 350,232.5 351,232.5 352,232.4 353,231.6 354,231.8 355,231.9 356,230.2 357,228.8 358,228.7 359,228.6 360,228.9 361,229.3 362,228.8 363,228.7 364,227.7 365,226.3 366,226.3 367,225.6 368,224.8 369,224.3 370,225.1 371,224.9 372,224.1 373,223.8 374,222.0 375,222.0 376,221.6 377,222.9 378,222.0 379,221.3 380,221.8 381,221.0 382,221.3 383,221.4 384,220.5 385,220.7 386,220.5 387,219.8 388,219.7 389,219.3 390,219.5 391,218.6 392,217.8 393,217.2 394,216.1 395,215.2 396,215.1 397,214.8 398,214.8 399,214.2 400,213.7 401,213.0 402,213.0 403,213.3 404,212.7 405,212.1 406,211.9 407,211.2 408,210.9 409,210.9 410,210.6 411,210.8 412,210.5 413,210.0 414,210.1 415,210.1 416,209.5 417,208.6 418,208.0 419,207.4 420,207.9 421,208.1 422,207.7 423,207.6 424,207.3 425,206.7 426,206.8 427,206.1 428,205.4 429,205.4 430,205.1 431,204.7 432,204.3 433,203.7 434,203.5 435,204.2 436,204.1 437,203.5 438,203.3 439,203.2 440,203.2 441,203.1 442,202.1 443,201.4 444,201.7 445,201.6 446,201.1 447,200.3 448,200.6 449,201.1 450,201.0 451,200.7 452,200.7 453,200.3 454,200.1 455,199.3 456,198.9 457,198.8 458,199.0 459,198.4 460,198.2 461,197.6 462,198.2 463,198.2 464,197.7 465,196.7 466,196.9 467,197.7 468,197.0 469,196.6 470,196.1 471,194.5 472,194.0 473,194.1 474,193.4 475,192.4 476,193.2 477,193.7 478,191.7 479,192.0 480,191.7 481,191.1 482,190.3 483,188.1 484,186.5 485,188.0 486,188.9 487,187.4 488,186.2 489,184.9 490,184.6 491,183.4 492,182.7 493,183.3 494,183.6 495,182.2 496,183.0 497,183.2 498,181.1 499,179.3 500,178.4 501,177.1 502,177.1 503,177.2 504,176.3 505,175.8 506,174.5 507,174.3 508,173.6 509,170.9 510,170.5 511,171.3 512,170.6 513,169.0 514,170.7 515,170.8 516,169.2 517,168.6 518,167.2 519,165.9 520,164.7 521,164.0 522,164.6 523,163.2 524,164.3 525,165.2 526,163.7 527,161.8 528,160.0 529,159.6 530,159.9 531,159.2 532,158.0 533,158.2 534,157.8 535,157.4 536,156.3 537,156.1 538,155.9 539,155.2 540,153.9 541,153.5 542,153.8 543,153.1 544,152.7 545,152.7 546,150.9 547,149.3 548,150.1 549,150.8 550,149.4 551,148.5 552,148.2 553,147.7 554,147.0 555,147.1 556,146.5 557,145.8 558,145.6 559,144.8 560,143.9 561,143.1 562,142.1 563,141.5 564,140.6 565,141.0 566,142.0 567,141.9 568,141.3 569,140.9 570,139.1 571,138.6 572,138.9 573,139.0 574,138.4 575,138.7 576,136.8 577,135.6 578,135.7 579,136.1 580,135.0 581,134.0 582,132.5 583,133.0 584,133.2 585,132.6 586,131.8 587,131.5 588,131.2 589,130.2 590,129.0 591,127.7 592,127.1 593,126.2 594,125.5 595,124.4 596,123.8 597,124.0 598,124.1 599,122.9 600,120.0 601,118.6 602,118.8 603,118.8 604,118.1 605,116.7 606,116.7 607,117.0 608,116.9 609,115.3 610,113.2 611,114.0 612,115.3 613,115.7 614,113.3 615,113.0 616,111.3 617,110.0 618,110.6 619,109.6 620,108.6 621,108.3 622,107.9 623,105.5 624,105.1 625,105.5 626,104.7 627,102.5 628,101.3 629,100.3 630,100.0 631,99.2 632,97.9 633,97.7 634,98.6 635,99.0 636,97.5 637,95.5 638,96.4 639,94.8 640,94.1 641,93.9 642,93.8 643,92.9 644,92.9 645,93.6 646,93.3 647,91.9 648,90.2 649,89.0 650,88.5 651,87.7 652,87.8 653,88.3 654,86.2 655,85.6 656,85.6 657,85.1 658,84.6 659,83.5 660,83.2 661,81.7 662,82.1 663,81.8 664,82.0 665,81.1 666,79.7 667,78.4 668,78.4 669,77.9 670,76.1 671,75.6 672,74.6 673,72.6 674,71.9 675,71.1 676,70.4 677,69.9 678,69.6 679,69.4 680,68.0 681,65.9 682,64.9 683,66.3 684,66.1 685,65.7 686,66.7 687,64.7 688,62.5 689,61.9 690,61.2 691,60.2 692,59.6 693,58.9 694,57.4 695,56.3 696,55.1 697,54.4 698,52.7 699,52.3 700,53.1 701,52.0 702,51.7 703,51.6 704,49.6 705,49.8 706,48.8 707,46.6 708,46.9 709,46.4 710,47.4 711,50.3 712,49.8 713,48.1"/><polyline stroke="#c0c0c0" points="125,379.6 126,377.6 127,376.2 128,375.2 129,373.2 130,371.5 131,371.2 132,369.4 133,368.9 134,369.4 135,368.2 136,366.3 137,366.7 138,367.0 139,365.2 140,363.7 141,364.4 142,364.1 143,363.0 144,362.3 145,360.3 146,359.3 147,358.0 148,357.2 149,358.7 150,357.4 151,355.1 152,354.2 153,352.6 154,350.7 155,350.0 156,351.1 157,351.2 158,348.8 159,347.4 160,345.6 161,345.1 162,345.6 163,344.7 164,344.2 165,343.6 166,341.9 167,340.7 168,339.9 169,338.7 170,336.3 171,335.0 172,334.7 173,336.3 174,335.0 175,332.5 176,332.0 177,332.6 178,332.4 179,330.9 180,329.3 181,328.4 182,328.5 183,328.5 184,326.8 185,323.4 186,322.3 187,323.6 188,324.3 189,323.7 190,322.6 191,321.1 192,319.4 193,320.6 194,321.2 195,320.0 196,319.6 197,319.6 198,320.2 199,319.0 200,317.2 201,316.9 202,316.1 203,315.1 204,314.7 205,315.1 206,315.4 207,313.9 208,313.3 209,314.0 210,313.4 211,311.3 212,311.1 213,311.9 214,312.8 215,313.5 216,313.2 217,311.0 218,310.2 219,310.5 220,310.6 221,309.7 222,309.8 223,310.1 224,309.7 225,308.2 226,307.1 227,305.6 228,304.9 229,305.7 230,305.9 231,303.1 232,301.8 233,301.0 234,298.7 235,297.6 236,296.2 237,295.6 238,296.9 239,296.7 240,294.8 241,293.7 242,294.2 243,294.3 244,293.8 245,292.6 246,291.3 247,291.6 248,292.0 249,290.9 250,291.3 251,290.7 252,291.2 253,290.4 254,287.3 255,286.0 256,286.1 257,287.0 258,286.7 259,284.9 260,286.3 261,286.2 262,285.0 263,284.2 264,284.8 265,285.2 266,284.6 267,284.8 268,283.8 269,282.9 270,280.3 271,280.6 272,280.6 273,278.7 274,277.7 275,277.3 276,276.0 277,275.4 278,275.0 279,273.0 280,271.1 281,270.2 282,269.6 283,269.4 284,269.5 285,268.1 286,266.5 287,266.7 288,266.1 289,265.8 290,265.9 291,265.0 292,265.3 293,263.8 294,262.8 295,261.4 296,260.6 297,260.3 298,260.2 299,259.1 300,259.0 301,258.2 302,257.4 303,256.6 304,257.1 305,257.7 306,256.2 307,255.4 308,254.5 309,252.7 310,253.0 311,253.5 312,251.7 313,250.8 314,250.3 315,249.2 316,247.4 317,246.4 318,247.4 319,248.9 320,245.8 321,243.4 322,243.2 323,243.4 324,243.3 325,242.6 326,241.2 327,240.7 328,240.0 329,239.7 330,239.6 331,239.3 332,237.9 333,237.4 334,237.2 335,236.2 336,235.4 337,234.4 338,234.1 339,235.0 340,235.3 341,234.5 342,233.4 343,233.1 344,232.4 345,232.1 346,231.5 347,231.8 348,231.5 349,232.6 350,232.6 351,231.2 352,231.8 353,231.6 354,232.6 355,233.2 356,231.7 357,230.7 358,230.5 359,230.8 360,229.6 361,229.9 362,230.4 363,230.0 364,229.3 365,228.4 366,227.4 367,225.4 368,225.7 369,227.7 370,226.7 371,225.6 372,224.6 373,224.6 374,224.4 375,225.7 376,225.2 377,224.6 378,224.4 379,223.1 380,222.7 381,223.0 382,221.3 383,220.7 384,221.0 385,220.9 386,220.1 387,218.9 388,219.0 389,218.6 390,217.3 391,216.4 392,216.2 393,216.6 394,216.2 395,215.8 396,214.8 397,214.2 398,213.9 399,213.0 400,212.6 401,213.1 402,213.1 403,212.7 404,212.5 405,212.2 406,212.1 407,211.4 408,211.3 409,210.6 410,210.7 411,210.7 412,210.8 413,210.6 414,210.6 415,209.9 416,209.8 417,209.6 418,208.7 419,208.6 420,208.6 421,208.3 422,209.0 423,208.8 424,207.8 425,207.3 426,207.2 427,207.4 428,207.5 429,207.6 430,207.2 431,206.9 432,206.8 433,206.9 434,206.5 435,205.5 436,205.4 437,205.1 438,204.5 439,204.4 440,203.9 441,203.5 442,203.2 443,203.0 444,203.2 445,203.4 446,202.6 447,202.6 448,202.4 449,202.3 450,202.2 451,201.4 452,201.3 453,200.2 454,199.8 455,199.7 456,199.1 457,199.3 458,199.9 459,199.2 460,197.9 461,197.7 462,197.9 463,198.0 464,198.6 465,198.2 466,197.0 467,196.2 468,196.5 469,196.8 470,196.5 471,196.7 472,195.5 473,193.7 474,193.6 475,194.2 476,194.8 477,193.8 478,192.6 479,193.6 480,192.4 481,190.8 482,190.7 483,190.6 484,191.1 485,190.9 486,189.1 487,187.7 488,187.1 489,186.3 490,186.9 491,186.1 492,184.6 493,185.3 494,185.2 495,184.8 496,184.0 497,182.3 498,182.0 499,182.1 500,181.5 501,181.1 502,180.3 503,178.9 504,179.0 505,180.3 506,179.5 507,177.9 508,176.9 509,174.9 510,174.0 511,173.5 512,173.4 513,173.1 514,171.2 515,170.1 516,169.2 517,169.6 518,169.1 519,167.5 520,167.6 521,165.8 522,165.2 523,164.1 524,163.3 525,164.0 526,162.3 527,160.3 528,160.5 529,161.9 530,160.5 531,160.3 532,159.1 533,159.9 534,159.7 535,158.2 536,157.5 537,156.8 538,155.9 539,154.6 540,152.9 541,153.1 542,155.3 543,155.7 544,155.7 545,155.2 546,153.6 547,152.0 548,152.0 549,152.1 550,150.9 551,150.5 552,149.7 553,150.1 554,148.7 555,148.0 556,148.3 557,147.8 558,147.9 559,147.8 560,147.3 561,147.2 562,145.9 563,143.6 564,143.4 565,143.5 566,143.6 567,143.8 568,143.9 569,143.5 570,142.5 571,140.6 572,139.4 573,139.4 574,138.9 575,138.3 576,137.3 577,135.8 578,135.9 579,136.4 580,135.6 581,135.4 582,134.7 583,132.5 584,131.5 585,132.1 586,131.6 587,131.3 588,132.2 589,130.8 590,128.8 591,127.3 592,126.8 593,126.2 594,125.6 595,125.7 596,124.4 597,123.1 598,124.3 599,123.9 600,122.0 601,121.5 602,120.6 603,118.4 604,118.2 605,119.3 606,118.5 607,118.6 608,119.2 609,118.9 610,118.1 611,117.5 612,115.5 613,114.7 614,112.9 615,111.7 616,112.0 617,110.9 618,110.3 619,111.9 620,110.9 621,109.0 622,108.3 623,108.5 624,107.3 625,105.8 626,104.7 627,103.8 628,102.6 629,103.8 630,101.9 631,98.6 632,98.8 633,98.4 634,98.3 635,97.1 636,95.8 637,94.6 638,93.3 639,92.4 640,91.0 641,90.0 642,92.0 643,90.5 644,89.7 645,89.2 646,87.1 647,85.8 648,87.3 649,87.5 650,85.8 651,84.1 652,82.7 653,83.7 654,84.9 655,84.4 656,83.0 657,81.1 658,80.7 659,80.4 660,80.7 661,80.9 662,80.1 663,81.4 664,82.2 665,80.9 666,80.0 667,78.8 668,77.6 669,76.7 670,77.4 671,77.1 672,75.8 673,75.8 674,75.6 675,75.1 676,75.0 677,73.3 678,71.9 679,70.9 680,70.4 681,71.1 682,70.7 683,70.5 684,70.6 685,69.8 686,67.8 687,66.1 688,65.5 689,65.2 690,64.6 691,63.8 692,63.5 693,62.8 694,62.8 695,62.2 696,61.7 697,60.0 698,59.0 699,57.4 700,54.2 701,54.9 702,55.0 703,53.6 704,52.8 705,52.2 706,52.4 707,52.2 708,51.6 709,50.7 710,49.0 711,49.1 712,49.5 713,49.8"/><polyline stroke="#ffffff" points="125,375.3 126,377.1 127,377.9 128,377.8 129,375.8 130,376.2 131,375.9 132,375.5 133,376.8 134,376.3 135,373.9 136,374.1 137,373.1 138,371.5 139,371.6 140,372.0 141,370.6 142,370.3 143,369.0 144,368.6 145,368.6 146,366.6 147,365.8 148,366.0 149,367.0 150,366.5 151,366.3 152,364.1 153,362.6 154,362.1 155,360.7 156,358.8 157,357.5 158,356.4 159,354.6 160,353.8 161,352.2 162,351.7 163,351.3 164,348.6 165,348.0 166,347.8 167,345.2 168,344.3 169,343.4 170,341.9 171,339.1 172,338.4 173,338.6 174,336.5 175,335.5 176,334.0 177,334.2 178,332.6 179,331.3 180,331.3 181,330.6 182,329.3 183,328.1 184,327.6 185,326.8 186,326.0 187,326.3 188,325.0 189,323.7 190,322.5 191,323.1 192,322.1 193,320.7 194,321.3 195,321.4 196,320.4 197,319.9 198,318.7 199,318.1 200,318.0 201,316.5 202,317.7 203,318.5 204,317.7 205,317.8 206,317.4 207,316.9 208,316.8 209,317.4 210,314.9 211,313.6 212,314.2 213,313.8 214,311.8 215,311.1 216,311.8 217,312.5 218,313.6 219,314.0 220,313.2 221,311.7 222,309.3 223,308.9 224,308.6 225,309.5 226,310.4 227,308.1 228,307.1 229,308.2 230,307.4 231,305.2 232,303.2 233,302.8 234,302.4 235,302.1 236,300.5 237,299.4 238,300.9 239,299.5 240,299.3 241,299.3 242,298.0 243,296.3 244,296.2 245,296.6 246,297.4 247,295.8 248,293.9 249,293.9 250,292.7 251,291.3 252,291.8 253,291.7 254,293.2 255,292.5 256,291.7 257,291.1 258,289.3 259,289.4 260,288.6 261,286.7 262,288.1 263,288.4 264,287.0 265,286.8 266,287.9 267,287.7 268,286.5 269,284.7 270,283.5 271,283.2 272,280.8 273,281.2 274,281.4 275,281.7 276,278.9 277,277.3 278,276.9 279,274.6 280,274.7 281,273.6 282,272.8 283,271.6 284,271.0 285,269.0 286,268.8 287,269.7 288,269.2 289,267.6 290,265.2 291,265.1 292,265.5 293,264.9 294,263.5 295,263.9 296,263.3 297,262.5 298,261.6 299,261.3 300,260.6 301,261.4 302,261.5 303,259.4 304,257.8 305,257.8 306,257.1 307,257.1 308,256.6 309,255.8 310,255.7 311,254.2 312,254.1 313,254.6 314,254.3 315,253.4 316,251.3 317,251.2 318,252.4 319,250.0 320,249.1 321,250.5 322,250.7 323,249.1 324,247.9 325,246.5 326,245.7 327,245.2 328,243.6 329,243.0 330,243.8 331,244.8 332,243.5 333,243.1 334,243.8 335,242.1 336,241.2 337,241.8 338,241.5 339,239.9 340,239.9 341,239.6 342,238.8 343,238.7 344,238.8 345,237.9 346,237.1 347,235.8 348,235.7 349,235.8 350,235.1 351,235.1 352,234.8 353,233.9 354,233.7 355,231.8 356,231.2 357,230.9 358,229.9 359,229.1 360,228.1 361,228.0 362,228.0 363,227.1 364,226.9 365,226.7 366,225.1 367,224.8 368,226.2 369,225.9 370,225.1 371,225.1 372,222.8 373,222.2 374,222.6 375,221.9 376,221.4 377,222.0 378,222.1 379,221.5 380,220.2 381,219.0 382,219.2 383,218.8 384,217.7 385,218.4 386,218.8 387,217.5 388,215.6 389,215.0 390,214.9 391,215.2 392,215.1 393,214.4 394,213.4 395,212.6 396,212.8 397,212.5 398,211.8 399,212.0 400,212.6 401,211.8 402,210.6 403,210.1 404,210.7 405,210.4 406,209.6 407,209.6 408,210.1 409,209.7 410,208.8 411,208.7 412,208.9 413,208.6 414,208.4 415,208.2 416,208.3 417,208.1 418,207.9 419,207.8 420,207.8 421,207.2 422,206.9 423,207.4 424,207.3 425,207.2 426,207.1 427,206.7 428,205.9 429,206.0 430,205.6 431,205.1 432,204.4 433,204.9 434,205.2 435,205.0 436,204.8 437,204.1 438,204.1 439,204.2 440,204.0 441,203.3 442,202.8 443,203.4 444,203.4 445,202.6 446,202.3 447,202.6 448,202.7 449,202.7 450,201.7 451,201.2 452,201.3 453,201.5 454,201.7 455,200.7 456,200.7 457,200.7 458,200.1 459,199.5 460,199.2 461,199.0 462,199.6 463,199.5 464,199.0 465,198.9 466,198.5 467,197.8 468,198.2 469,198.3 470,197.7 471,197.0 472,197.5 473,197.5 474,196.1 475,195.0 476,195.0 477,194.5 478,192.9 479,192.2 480,192.5 481,193.1 482,193.3 483,191.9 484,192.2 485,193.1 486,190.6 487,190.1 488,188.9 489,187.7 490,185.6 491,184.9 492,185.3 493,185.7 494,184.4 495,185.6 496,185.4 497,184.0 498,181.3 499,180.8 500,181.3 501,181.1 502,180.8 503,179.6 504,179.3 505,178.9 506,179.2 507,178.4 508,178.9 509,178.8 510,177.3 511,175.8 512,174.2 513,172.9 514,174.1 515,173.4 516,171.0 517,170.5 518,170.4 519,169.9 520,169.4 521,168.8 522,168.2 523,165.1 524,165.5 525,164.8 526,163.4 527,163.8 528,162.1 529,160.8 530,159.6 531,159.3 532,159.7 533,159.3 534,158.0 535,156.8 536,156.1 537,155.6 538,155.3 539,154.3 540,153.4 541,154.7 542,154.0 543,151.2 544,151.8 545,153.9 546,154.4 547,152.2 548,150.7 549,151.5 550,153.1 551,151.7 552,150.0 553,149.8 554,150.9 555,149.2 556,148.8 557,148.7 558,148.6 559,146.4 560,146.2 561,146.0 562,144.8 563,145.5 564,144.8 565,143.2 566,143.3 567,143.7 568,143.4 569,142.4 570,141.9 571,140.2 572,139.4 573,139.4 574,139.2 575,139.2 576,139.2 577,137.7 578,137.9 579,137.1 580,135.9 581,135.3 582,134.4 583,132.7 584,133.4 585,133.7 586,132.7 587,134.4 588,133.7 589,131.2 590,130.6 591,130.0 592,129.4 593,128.3 594,126.8 595,126.0 596,124.4 597,123.9 598,122.8 599,124.0 600,124.1 601,123.4 602,124.4 603,123.9 604,124.3 605,123.6 606,122.4 607,122.2 608,119.0 609,119.0 610,120.2 611,120.0 612,119.1 613,117.1 614,116.2 615,116.2 616,118.3 617,117.6 618,113.1 619,111.9 620,113.4 621,113.0 622,110.1 623,108.1 624,108.1 625,108.1 626,107.6 627,106.8 628,103.9 629,103.6 630,104.8 631,103.5 632,101.2 633,99.8 634,99.7 635,98.6 636,98.0 637,96.1 638,96.1 639,95.9 640,94.6 641,95.3 642,94.5 643,93.7 644,91.8 645,91.1 646,91.0 647,90.6 648,90.9 649,89.9 650,89.3 651,89.9 652,88.7 653,87.2 654,85.2 655,83.0 656,83.0 657,83.9 658,85.6 659,83.6 660,82.8 661,81.4 662,79.8 663,80.5 664,80.8 665,80.7 666,79.7 667,78.8 668,78.1 669,76.7 670,75.6 671,76.4 672,76.6 673,75.3 674,73.9 675,71.7 676,70.7 677,69.9 678,70.8 679,70.2 680,68.4 681,67.6 682,67.8 683,67.6 684,66.3 685,64.6 686,63.0 687,62.6 688,62.4 689,63.4 690,63.2 691,60.7 692,58.8 693,58.0 694,58.4 695,56.4 696,57.7 697,59.1 698,56.9 699,53.9 700,51.2 701,50.7 702,49.2 703,49.4 704,50.1 705,49.3 706,50.2 707,49.5 708,47.0 709,47.8 710,46.9 711,46.3 712,44.8 713,44.0"/><polyline stroke="#000000" points="125,381.5 126,382.1 127,380.0 128,378.5 129,377.8 130,378.9 131,378.2 132,376.7 133,376.8 134,376.7 135,374.0 136,372.4 137,371.6 138,371.3 139,370.4 140,371.1 141,371.6 142,369.7 143,368.3 144,367.7 145,367.5 146,367.7 147,367.4 148,366.1 149,364.4 150,363.6 151,362.0 152,361.6 153,360.0 154,360.3 155,360.0 156,357.8 157,356.7 158,354.3 159,352.6 160,351.6 161,349.7 162,349.5 163,349.6 164,348.5 165,346.9 166,347.0 167,345.9 168,346.5 169,345.7 170,343.7 171,342.7 172,341.6 173,340.5 174,340.5 175,338.6 176,337.7 177,338.1 178,336.8 179,335.9 180,335.6 181,334.8 182,333.5 183,332.0 184,332.7 185,332.4 186,331.1 187,329.6 188,327.9 189,327.7 190,327.0 191,325.4 192,323.0 193,322.4 194,322.3 195,322.7 196,322.1 197,319.4 198,319.3 199,320.5 200,319.2 201,317.5 202,315.8 203,314.8 204,316.2 205,314.7 206,314.1 207,313.3 208,313.3 209,313.9 210,311.4 211,310.1 212,310.5 213,308.7 214,308.4 215,308.5 216,308.6 217,308.0 218,307.8 219,308.6 220,309.7 221,308.8 222,307.1 223,307.6 224,306.5 225,305.1 226,304.5 227,306.0 228,306.1 229,304.1 230,303.9 231,303.8 232,303.3 233,302.8 234,303.7 235,303.1 236,301.7 237,301.2 238,300.5 239,298.8 240,299.0 241,298.5 242,297.8 243,297.0 244,296.2 245,296.6 246,296.4 247,295.6 248,296.1 249,295.9 250,295.1 251,294.6 252,294.3 253,293.4 254,292.9 255,293.0 256,292.4 257,291.9 258,292.1 259,291.0 260,290.3 261,289.9 262,289.0 263,287.7 264,287.7 265,288.1 266,288.3 267,287.3 268,286.4 269,285.9 270,283.9 271,282.6 272,282.5 273,282.9 274,281.4 275,278.8 276,277.7 277,277.0 278,276.0 279,275.2 280,274.7 281,274.4 282,272.6 283,270.8 284,269.2 285,269.0 286,269.0 287,268.0 288,268.0 289,266.5 290,265.1 291,263.9 292,263.0 293,262.6 294,263.3 295,262.2 296,261.8 297,259.9 298,258.6 299,257.9 300,257.2 301,256.3 302,256.8 303,256.8 304,257.3 305,257.3 306,256.0 307,254.6 308,255.4 309,254.9 310,254.1 311,253.2 312,253.2 313,252.0 314,251.4 315,250.3 316,249.2 317,249.1 318,249.8 319,248.9 320,246.5 321,245.3 322,244.8 323,245.9 324,245.4 325,246.3 326,246.5 327,246.0 328,245.3 329,243.2 330,242.3 331,243.0 332,243.6 333,242.3 334,240.6 335,241.0 336,240.5 337,239.6 338,239.7 339,239.3 340,239.2 341,238.9 342,237.8 343,237.0 344,237.7 345,237.4 346,237.0 347,236.1 348,235.7 349,235.6 350,236.4 351,235.2 352,235.1 353,234.1 354,233.0 355,233.3 356,233.8 357,233.0 358,233.5 359,232.8 360,230.9 361,230.3 362,230.0 363,229.7 364,229.9 365,230.3 366,230.8 367,228.9 368,228.3 369,229.1 370,228.2 371,227.4 372,226.0 373,225.7 374,226.1 375,225.3 376,224.7 377,224.3 378,223.3 379,223.5 380,223.4 381,222.1 382,221.0 383,221.2 384,220.2 385,220.2 386,220.2 387,219.9 388,219.6 389,219.6 390,219.3 391,217.9 392,217.3 393,217.2 394,216.9 395,216.2 396,215.6 397,214.9 398,214.2 399,214.0 400,213.5 401,212.9 402,212.8 403,212.8 404,212.3 405,212.3 406,212.2 407,211.9 408,212.0 409,211.2 410,210.8 411,210.9 412,210.7 413,210.2 414,210.3 415,210.1 416,209.6 417,209.4 418,209.3 419,209.6 420,209.2 421,208.8 422,209.5 423,209.3 424,208.6 425,207.6 426,207.1 427,207.6 428,207.5 429,207.1 430,206.8 431,206.9 432,207.1 433,207.3 434,206.9 435,206.3 436,205.7 437,205.4 438,205.1 439,205.8 440,205.5 441,205.0 442,204.7 443,204.2 444,204.3 445,204.0 446,204.4 447,204.3 448,203.5 449,202.8 450,202.8 451,202.5 452,201.7 453,202.4 454,202.4 455,200.7 456,200.7 457,201.2 458,201.5 459,201.4 460,200.8 461,200.2 462,199.8 463,199.0 464,198.7 465,198.9 466,199.4 467,199.9 468,199.3 469,198.2 470,198.5 471,198.6 472,198.6 473,196.2 474,195.4 475,195.6 476,195.6 477,193.3 478,192.5 479,192.5 480,193.1 481,193.2 482,192.1 483,191.0 484,192.0 485,190.1 486,187.8 487,187.5 488,187.4 489,187.7 490,187.2 491,186.4 492,187.0 493,185.3 494,184.1 495,184.5 496,183.8 497,181.6 498,179.3 499,179.4 500,180.6 501,179.8 502,179.4 503,178.5 504,179.2 505,177.1 506,176.7 507,177.1 508,177.0 509,174.6 510,174.5 511,173.5 512,173.3 513,173.6 514,173.6 515,171.5 516,169.4 517,169.3 518,170.3 519,170.3 520,168.4 521,166.4 522,165.4 523,164.0 524,164.5 525,165.3 526,165.9 527,164.6 528,164.8 529,164.5 530,163.1 531,160.7 532,159.8 533,159.5 534,158.5 535,158.7 536,158.9 537,158.0 538,156.6 539,156.4 540,155.5 541,154.4 542,153.7 543,154.0 544,154.6 545,155.4 546,154.3 547,152.4 548,152.1 549,151.8 550,152.8 551,151.2 552,149.3 553,148.8 554,147.6 555,147.4 556,146.3 557,147.6 558,148.4 559,148.0 560,145.7 561,143.9 562,143.1 563,143.6 564,144.6 565,143.3 566,142.8 567,142.5 568,141.8 569,141.8 570,142.3 571,142.2 572,141.9 573,141.5 574,140.9 575,139.7 576,139.5 577,138.4 578,138.1 579,137.4 580,136.6 581,135.8 582,135.8 583,136.4 584,137.1 585,135.2 586,134.1 587,134.5 588,133.5 589,132.5 590,130.9 591,130.2 592,129.2 593,129.7 594,127.1 595,125.1 596,126.0 597,126.7 598,125.9 599,124.9 600,124.3 601,123.1 602,122.4 603,120.4 604,119.5 605,121.5 606,121.8 607,120.3 608,119.4 609,120.0 610,119.6 611,118.2 612,118.2 613,115.0 614,114.5 615,113.1 616,112.8 617,112.4 618,112.3 619,111.3 620,110.2 621,109.1 622,107.8 623,106.6 624,107.0 625,107.0 626,104.4 627,101.9 628,101.9 629,102.5 630,100.7 631,98.7 632,98.6 633,96.7 634,95.8 635,96.0 636,94.5 637,92.9 638,91.1 639,90.7 640,91.4 641,90.8 642,88.7 643,87.5 644,87.2 645,88.6 646,86.2 647,83.7 648,82.4 649,85.0 650,85.8 651,84.4 652,82.2 653,81.7 654,80.8 655,79.6 656,80.2 657,81.0 658,80.5 659,79.8 660,79.4 661,78.9 662,78.7 663,78.3 664,77.2 665,77.7 666,76.5 667,76.4 668,75.5 669,76.1 670,76.5 671,75.5 672,75.7 673,76.4 674,76.7 675,75.9 676,75.0 677,74.8 678,74.8 679,74.7 680,74.1 681,74.6 682,73.7 683,73.6 684,72.1 685,69.6 686,69.1 687,68.4 688,69.4 689,68.9 690,67.3 691,67.1 692,67.6 693,65.4 694,64.2 695,64.3 696,62.4 697,60.2 698,59.7 699,59.4 700,59.1 701,58.4 702,57.6 703,57.2 704,56.9 705,55.8 706,56.1 707,56.3 708,55.3 709,55.9 710,56.0 711,55.7 712,54.6 713,53.8"/><polyline stroke="#800080" points="125,376.6 126,377.4 127,376.5 128,376.1 129,375.3 130,375.6 131,375.0 132,374.9 133,375.5 134,374.8 135,373.5 136,373.4 137,372.6 138,372.1 139,370.8 140,370.4 141,370.5 142,369.3 143,368.7 144,370.1 145,368.8 146,367.1 147,365.2 148,363.2 149,362.6 150,363.3 151,361.8 152,360.8 153,360.6 154,359.9 155,359.3 156,357.7 157,355.9 158,355.3 159,354.2 160,353.0 161,352.3 162,350.8 163,349.0 164,348.7 165,349.5 166,347.1 167,346.1 168,344.0 169,342.2 170,341.7 171,342.4 172,339.8 173,338.1 174,337.2 175,336.5 176,335.2 177,334.4 178,333.5 179,334.4 180,333.1 181,331.9 182,330.7 183,329.6 184,328.8 185,328.8 186,327.0 187,326.3 188,325.5 189,326.5 190,324.2 191,321.5 192,321.5 193,322.0 194,322.1 195,321.0 196,320.4 197,319.8 198,320.1 199,319.7 200,317.6 201,315.4 202,315.6 203,316.9 204,316.4 205,315.0 206,315.1 207,316.0 208,313.1 209,313.3 210,312.6 211,312.0 212,310.2 213,310.6 214,310.7 215,309.9 216,310.4 217,311.0 218,310.2 219,308.3 220,310.3 221,310.9 222,307.9 223,306.9 224,307.9 225,306.9 226,306.3 227,305.9 228,305.3 229,307.2 230,306.4 231,303.8 232,304.5 233,306.0 234,304.0 235,301.1 236,300.8 237,300.5 238,301.6 239,300.8 240,300.3 241,298.8 242,298.5 243,297.8 244,296.7 245,295.0 246,295.8 247,296.2 248,294.3 249,294.1 250,296.1 251,295.3 252,294.2 253,293.4 254,292.8 255,291.9 256,291.3 257,291.0 258,290.6 259,289.6 260,289.3 261,288.9 262,287.4 263,286.9 264,286.8 265,287.1 266,285.2 267,285.1 268,286.1 269,284.1 270,282.9 271,284.1 272,283.1 273,280.8 274,279.5 275,278.4 276,276.9 277,275.9 278,274.7 279,274.8 280,273.7 281,272.9 282,271.0 283,271.1 284,269.7 285,268.8 286,269.7 287,269.2 288,267.0 289,267.0 290,267.5 291,266.1 292,265.5 293,266.4 294,265.8 295,265.1 296,263.5 297,262.9 298,261.6 299,261.7 300,261.0 301,261.1 302,260.6 303,260.8 304,260.0 305,258.2 306,256.9 307,256.1 308,255.6 309,255.9 310,255.0 311,254.5 312,255.0 313,253.3 314,253.1 315,253.3 316,251.3 317,249.9 318,249.2 319,249.0 320,248.5 321,248.6 322,247.4 323,246.5 324,245.3 325,243.6 326,241.4 327,240.0 328,240.9 329,241.5 330,240.9 331,240.4 332,237.7 333,237.5 334,237.7 335,236.2 336,237.2 337,237.6 338,238.0 339,237.9 340,236.3 341,235.4 342,235.4 343,234.8 344,233.6 345,234.3 346,232.6 347,232.3 348,233.3 349,234.0 350,233.3 351,232.3 352,233.2 353,233.8 354,233.8 355,232.8 356,232.4 357,233.8 358,232.4 359,231.2 360,231.3 361,230.8 362,230.6 363,231.7 364,231.6 365,230.5 366,230.2 367,229.4 368,228.6 369,228.1 370,229.0 371,229.1 372,227.7 373,227.2 374,226.2 375,224.6 376,223.7 377,222.5 378,222.6 379,223.6 380,223.7 381,222.1 382,221.3 383,222.0 384,221.2 385,220.4 386,220.3 387,219.6 388,218.7 389,219.5 390,219.7 391,217.7 392,217.3 393,217.1 394,215.7 395,215.6 396,215.5 397,214.5 398,214.0 399,214.3 400,213.7 401,212.7 402,212.3 403,212.6 404,213.3 405,213.3 406,212.2 407,211.1 408,210.8 409,211.0 410,210.8 411,210.8 412,210.0 413,209.6 414,209.9 415,209.8 416,209.6 417,209.2 418,209.0 419,208.9 420,208.0 421,208.3 422,208.4 423,208.3 424,207.4 425,207.3 426,207.1 427,207.4 428,207.5 429,206.7 430,205.5 431,205.5 432,205.6 433,205.4 434,205.4 435,205.0 436,204.9 437,205.6 438,204.8 439,204.0 440,203.9 441,204.0 442,204.1 443,204.5 444,204.4 445,204.0 446,203.4 447,202.6 448,202.3 449,202.2 450,202.9 451,203.4 452,202.2 453,201.0 454,200.4 455,200.4 456,201.0 457,200.8 458,200.6 459,200.5 460,201.0 461,200.8 462,200.0 463,198.5 464,198.6 465,198.6 466,198.9 467,199.3 468,198.8 469,198.3 470,199.2 471,200.1 472,199.3 473,198.2 474,196.5 475,196.3 476,194.9 477,194.3 478,194.1 479,194.5 480,193.0 481,192.2 482,191.6 483,190.7 484,189.7 485,188.9 486,188.3 487,187.9 488,187.0 489,185.1 490,185.1 491,184.0 492,183.5 493,184.4 494,182.8 495,181.2 496,180.3 497,180.3 498,178.2 499,177.5 500,177.4 501,176.6 502,175.2 503,176.0 504,174.8 505,174.1 506,172.5 507,172.2 508,171.3 509,171.0 510,170.0 511,172.0 512,172.2 513,171.2 514,170.0 515,169.0 516,166.9 517,166.9 518,167.7 519,168.2 520,167.3 521,165.6 522,164.7 523,164.9 524,163.1 525,162.5 526,161.8 527,161.6 528,160.9 529,160.8 530,159.6 531,159.9 532,160.3 533,160.1 534,156.9 535,156.8 536,157.7 537,157.1 538,156.1 539,155.6 540,156.0 541,155.8 542,155.8 543,154.2 544,153.8 545,153.0 546,152.4 547,151.7 548,151.4 549,152.0 550,151.3 551,150.8 552,150.2 553,150.2 554,148.8 555,148.1 556,147.3 557,148.0 558,148.5 559,146.9 560,146.3 561,145.4 562,145.6 563,145.1 564,143.7 565,143.8 566,144.0 567,143.2 568,143.9 569,142.6 570,141.0 571,140.6 572,139.7 573,139.8 574,139.7 575,138.6 576,138.6 577,138.4 578,136.8 579,136.4 580,135.9 581,134.6 582,134.1 583,132.8 584,131.8 585,132.4 586,131.3 587,131.6 588,130.7 589,127.9 590,126.0 591,127.1 592,127.2 593,126.0 594,123.0 595,123.3 596,123.3 597,121.9 598,120.1 599,120.1 600,120.6 601,119.5 602,119.8 603,118.9 604,118.2 605,118.6 606,117.8 607,118.9 608,118.6 609,116.4 610,116.1 611,116.8 612,118.7 613,118.6 614,116.2 615,114.3 616,112.7 617,111.3 618,111.2 619,111.8 620,111.5 621,110.6 622,109.6 623,109.0 624,107.3 625,107.4 626,106.2 627,104.8 628,102.5 629,101.3 630,102.2 631,103.0 632,101.4 633,99.5 634,96.8 635,96.7 636,96.7 637,96.0 638,95.0 639,94.4 640,93.9 641,92.0 642,91.2 643,90.8 644,90.6 645,88.6 646,88.4 647,88.8 648,89.0 649,87.7 650,87.0 651,86.8 652,85.5 653,85.1 654,84.6 655,83.6 656,82.7 657,82.5 658,83.1 659,82.7 660,82.5 661,81.0 662,78.2 663,76.3 664,77.2 665,77.5 666,76.7 667,76.7 668,74.6 669,74.2 670,74.4 671,75.6 672,74.5 673,71.3 674,69.2 675,71.2 676,70.6 677,69.0 678,68.4 679,67.2 680,67.8 681,68.1 682,66.8 683,65.5 684,64.2 685,62.3 686,62.4 687,63.1 688,61.1 689,60.5 690,59.2 691,59.2 692,59.6 693,59.1 694,57.6 695,56.0 696,54.6 697,54.1 698,54.1 699,55.0 700,54.3 701,52.9 702,51.0 703,48.3 704,47.3 705,48.1 706,48.4 707,47.8 708,45.9 709,46.7 710,47.1 711,46.4 712,46.8 713,48.6"/><polyline stroke="#00ff00" points="125,377.6 126,379.0 127,378.6 128,378.4 129,378.5 130,379.6 131,377.7 132,375.8 133,376.4 134,376.3 135,375.4 136,374.4 137,374.4 138,372.6 139,370.2 140,368.9 141,368.8 142,370.1 143,369.8 144,368.8 145,367.7 146,367.6 147,367.7 148,366.9 149,367.2 150,365.8 151,364.1 152,362.5 153,360.6 154,360.6 155,360.6 156,359.3 157,357.8 158,356.8 159,355.4 160,352.5 161,351.3 162,352.0 163,350.8 164,348.5 165,348.9 166,348.8 167,347.7 168,346.5 169,346.6 170,345.6 171,343.7 172,343.1 173,340.4 174,339.3 175,338.3 176,337.4 177,337.6 178,336.2 179,334.7 180,335.1 181,332.4 182,331.0 183,330.9 184,331.2 185,330.8 186,328.2 187,328.2 188,329.1 189,327.4 190,325.2 191,327.4 192,327.9 193,325.6 194,322.9 195,324.7 196,324.4 197,322.7 198,321.8 199,321.3 200,322.3 201,322.0 202,321.3 203,319.9 204,318.1 205,317.6 206,317.7 207,317.5 208,318.0 209,317.2 210,316.2 211,315.4 212,313.5 213,313.5 214,314.0 215,313.9 216,313.3 217,313.3 218,314.5 219,314.6 220,313.9 221,312.6 222,312.2 223,311.8 224,310.7 225,308.9 226,309.2 227,309.7 228,309.6 229,309.3 230,308.3 231,308.6 232,307.9 233,306.0 234,306.3 235,305.1 236,303.8 237,304.4 238,304.6 239,302.0 240,301.2 241,300.8 242,300.8 243,300.7 244,298.9 245,298.6 246,299.1 247,298.2 248,298.1 249,298.5 250,297.3 251,295.2 252,294.7 253,294.4 254,295.1 255,293.8 256,292.8 257,294.4 258,292.7 259,292.1 260,293.1 261,292.2 262,289.9 263,288.6 264,287.7 265,286.7 266,286.2 267,285.4 268,285.6 269,284.8 270,282.9 271,280.0 272,279.3 273,278.9 274,278.8 275,276.6 276,275.5 277,275.3 278,274.7 279,273.0 280,272.8 281,271.7 282,269.9 283,268.2 284,267.9 285,266.8 286,265.3 287,265.4 288,265.8 289,264.8 290,265.0 291,265.0 292,262.9 293,262.4 294,261.4 295,260.8 296,260.2 297,259.4 298,258.6 299,258.2 300,258.7 301,258.4 302,258.0 303,258.4 304,258.6 305,257.2 306,255.9 307,254.5 308,254.3 309,253.6 310,252.4 311,251.8 312,251.8 313,251.5 314,251.2 315,249.8 316,249.8 317,248.7 318,247.9 319,247.1 320,246.7 321,246.5 322,245.9 323,245.2 324,245.1 325,246.5 326,245.6 327,245.2 328,245.1 329,244.3 330,243.0 331,242.7 332,242.9 333,242.6 334,240.4 335,239.9 336,238.9 337,238.8 338,239.9 339,239.1 340,239.0 341,238.7 342,236.9 343,236.1 344,236.6 345,237.5 346,238.1 347,238.4 348,237.5 349,235.7 350,235.3 351,235.1 352,234.9 353,234.8 354,235.1 355,235.0 356,234.3 357,232.2 358,231.8 359,231.9 360,231.3 361,231.2 362,231.7 363,230.4 364,229.4 365,228.7 366,229.9 367,231.2 368,229.8 369,227.7 370,228.3 371,227.7 372,227.1 373,226.5 374,225.9 375,224.9 376,225.4 377,225.6 378,225.1 379,224.7 380,224.4 381,223.5 382,222.6 383,221.6 384,220.8 385,219.9 386,220.5 387,220.0 388,218.9 389,217.6 390,217.4 391,216.6 392,216.0 393,215.3 394,215.2 395,214.9 396,214.6 397,213.5 398,213.0 399,212.3 400,212.2 401,211.6 402,211.3 403,211.6 404,211.3 405,210.6 406,211.0 407,211.0 408,211.3 409,210.9 410,210.8 411,210.3 412,209.8 413,209.7 414,210.1 415,210.0 416,209.5 417,209.2 418,208.7 419,208.1 420,208.1 421,208.2 422,207.8 423,207.4 424,207.3 425,207.7 426,208.0 427,208.1 428,208.2 429,207.9 430,206.9 431,206.4 432,206.4 433,206.4 434,206.2 435,205.6 436,205.9 437,205.7 438,205.2 439,204.6 440,204.5 441,204.9 442,204.8 443,204.7 444,203.4 445,202.8 446,203.2 447,202.8 448,202.1 449,202.1 450,201.5 451,200.5 452,200.8 453,201.0 454,200.8 455,200.6 456,199.4 457,199.0 458,198.5 459,198.3 460,197.5 461,197.4 462,197.8 463,198.1 464,197.6 465,197.0 466,197.4 467,196.2 468,195.6 469,196.2 470,196.0 471,196.8 472,196.6 473,195.2 474,193.6 475,193.5 476,194.4 477,192.8 478,191.7 479,192.2 480,193.1 481,192.6 482,193.2 483,191.8 484,190.7 485,191.0 486,190.2 487,190.6 488,190.2 489,187.1 490,184.9 491,185.3 492,186.1 493,186.5 494,186.7 495,185.8 496,184.2 497,183.9 498,184.9 499,184.5 500,182.4 501,181.7 502,180.9 503,180.5 504,181.1 505,179.9 506,178.5 507,178.3 508,177.2 509,177.1 510,176.5 511,175.4 512,174.5 513,174.4 514,173.2 515,172.1 516,171.2 517,170.0 518,167.9 519,167.6 520,168.9 521,168.5 522,165.5 523,164.8 524,164.2 525,165.3 526,163.9 527,162.3 528,161.7 529,160.9 530,159.9 531,158.7 532,159.0 533,159.7 534,159.3 535,157.6 536,156.6 537,155.3 538,155.5 539,155.8 540,154.5 541,152.0 542,153.0 543,153.0 544,152.8 545,153.3 546,152.7 547,150.3 548,150.1 549,149.7 550,149.2 551,148.3 552,148.5 553,148.0 554,146.4 555,146.4 556,146.4 557,145.3 558,145.0 559,145.2 560,145.2 561,143.5 562,143.5 563,144.2 564,143.9 565,141.4 566,141.7 567,142.4 568,142.1 569,141.4 570,141.8 571,141.5 572,141.7 573,141.5 574,141.8 575,140.7 576,139.2 577,139.1 578,138.8 579,137.1 580,136.0 581,136.2 582,137.3 583,136.5 584,136.5 585,137.9 586,137.7 587,135.4 588,132.6 589,132.9 590,132.8 591,132.1 592,130.9 593,131.1 594,130.6 595,130.5 596,129.3 597,127.2 598,126.3 599,126.6 600,126.8 601,125.9 602,125.7 603,124.7 604,123.3 605,122.9 606,123.0 607,122.5 608,121.5 609,121.0 610,121.6 611,120.9 612,120.0 613,119.9 614,118.5 615,116.7 616,115.2 617,113.3 618,112.8 619,112.5 620,110.5 621,107.6 622,108.1 623,108.8 624,106.7 625,105.8 626,103.7 627,102.8 628,102.0 629,100.6 630,99.8 631,99.2 632,100.3 633,97.6 634,95.7 635,95.2 636,95.0 637,93.3 638,94.4 639,93.2 640,91.0 641,89.2 642,87.5 643,88.1 644,88.2 645,86.6 646,87.3 647,86.1 648,86.4 649,88.0 650,87.0 651,86.3 652,85.3 653,84.3 654,83.1 655,83.0 656,83.3 657,81.8 658,80.9 659,80.3 660,79.5 661,78.6 662,78.3 663,78.0 664,78.6 665,77.1 666,74.5 667,74.5 668,76.0 669,76.8 670,75.3 671,73.9 672,74.4 673,74.6 674,72.6 675,70.1 676,68.9 677,69.9 678,70.7 679,68.2 680,67.7 681,69.0 682,68.7 683,67.7 684,67.4 685,66.9 686,66.5 687,64.9 688,63.4 689,61.8 690,62.1 691,60.6 692,60.9 693,61.2 694,60.8 695,59.9 696,58.2 697,56.4 698,57.1 699,57.9 700,57.6 701,57.4 702,57.1 703,55.8 704,54.3 705,55.4 706,55.7 707,55.9 708,56.0 709,56.3 710,56.6 711,56.5 712,56.1 713,55.2"/><polyline stroke="#000080" points="125,359.7 126,358.8 127,356.4 128,357.0 129,356.2 130,354.5 131,353.8 132,353.8 133,354.1 134,355.7 135,355.5 136,353.6 137,352.7 138,351.3 139,351.1 140,350.8 141,350.0 142,350.3 143,351.6 144,350.1 145,348.8 146,348.1 147,347.3 148,345.2 149,344.6 150,343.6 151,343.7 152,343.0 153,343.3 154,343.3 155,342.0 156,340.2 157,338.6 158,338.2 159,337.9 160,336.1 161,335.1 162,334.3 163,332.7 164,331.9 165,332.5 166,332.5 167,331.9 168,330.8 169,330.6 170,330.0 171,328.6 172,327.5 173,327.6 174,325.9 175,324.6 176,324.8 177,323.8 178,321.8 179,320.3 180,318.8 181,317.9 182,318.1 183,318.7 184,317.3 185,315.7 186,315.1 187,315.9 188,315.1 189,314.2 190,313.9 191,311.5 192,310.0 193,310.2 194,310.6 195,308.3 196,309.1 197,310.0 198,308.2 199,306.9 200,308.1 201,307.3 202,306.3 203,307.4 204,305.3 205,303.2 206,303.8 207,305.4 208,304.7 209,304.4 210,301.1 211,301.2 212,301.4 213,300.9 214,302.6 215,301.3 216,300.6 217,302.2 218,300.8 219,301.0 220,299.4 221,298.6 222,299.5 223,298.5 224,297.7 225,296.0 226,296.1 227,297.0 228,296.9 229,295.5 230,293.2 231,292.5 232,293.2 233,293.5 234,293.2 235,290.9 236,289.2 237,290.9 238,291.0 239,289.8 240,289.4 241,289.8 242,288.6 243,287.8 244,286.9 245,288.0 246,285.7 247,284.6 248,285.4 249,284.8 250,283.9 251,283.0 252,283.0 253,283.0 254,282.4 255,280.9 256,279.5 257,278.9 258,279.1 259,278.7 260,277.6 261,276.0 262,275.9 263,274.2 264,274.6 265,275.4 266,274.2 267,274.9 268,274.6 269,272.1 270,270.9 271,271.4 272,270.4 273,267.7 274,265.9 275,266.4 276,266.8 277,265.2 278,263.7 279,262.6 280,261.1 281,261.3 282,260.8 283,259.8 284,259.9 285,259.5 286,259.0 287,257.9 288,257.3 289,256.7 290,256.9 291,255.9 292,253.8 293,253.1 294,252.6 295,252.8 296,251.9 297,251.4 298,250.7 299,250.3 300,251.1 301,250.3 302,249.5 303,248.1 304,248.1 305,247.4 306,247.1 307,246.7 308,246.7 309,246.3 310,243.6 311,242.6 312,243.4 313,244.1 314,244.6 315,243.3 316,240.6 317,240.3 318,240.0 319,239.3 320,238.8 321,238.4 322,238.2 323,237.3 324,236.3 325,235.8 326,234.4 327,233.2 328,231.8 329,230.6 330,230.3 331,230.2 332,230.8 333,232.0 334,231.5 335,230.6 336,230.6 337,230.4 338,228.8 339,228.1 340,229.2 341,229.6 342,229.0 343,227.8 344,228.5 345,229.7 346,228.2 347,227.5 348,227.0 349,226.6 350,226.2 351,226.3 352,224.9 353,224.6 354,224.2 355,224.6 356,225.0 357,223.9 358,223.5 359,224.2 360,223.6 361,223.0 362,222.6 363,220.9 364,219.5 365,219.7 366,219.3 367,218.9 368,218.5 369,216.8 370,215.5 371,217.0 372,216.4 373,216.4 374,216.2 375,215.5 376,215.1 377,214.5 378,213.4 379,213.3 380,212.7 381,212.8 382,213.1 383,213.3 384,212.6 385,211.5 386,211.8 387,211.3 388,211.6 389,211.8 390,211.8 391,210.7 392,210.6 393,210.1 394,209.8 395,209.8 396,209.9 397,209.5 398,208.8 399,208.1 400,207.6 401,207.8 402,207.8 403,207.2 404,207.2 405,207.1 406,207.3 407,206.9 408,206.4 409,206.6 410,206.9 411,206.9 412,207.0 413,206.4 414,205.6 415,205.2 416,204.4 417,204.9 418,204.8 419,204.5 420,204.5 421,203.9 422,203.5 423,203.8 424,203.9 425,203.4 426,203.2 427,203.1 428,203.2 429,203.3 430,203.1 431,202.1 432,202.1 433,201.9 434,201.4 435,201.1 436,200.2 437,200.5 438,200.4 439,199.7 440,199.5 441,199.8 442,199.8 443,199.1 444,198.8 445,198.1 446,198.3 447,198.2 448,197.5 449,196.5 450,197.0 451,197.5 452,196.8 453,195.7 454,195.3 455,195.1 456,194.5 457,194.4 458,194.6 459,195.1 460,195.3 461,195.1 462,194.4 463,194.4 464,193.5 465,192.4 466,191.6 467,190.7 468,190.5 469,190.7 470,190.9 471,190.2 472,189.4 473,188.3 474,187.3 475,186.1 476,185.3 477,185.5 478,185.3 479,184.2 480,183.1 481,183.3 482,182.9 483,179.9 484,179.1 485,178.3 486,176.5 487,176.5 488,175.8 489,173.8 490,174.5 491,175.1 492,173.0 493,172.6 494,173.0 495,171.6 496,172.1 497,171.2 498,169.0 499,167.9 500,168.3 501,169.0 502,168.7 503,168.3 504,168.0 505,167.1 506,165.9 507,165.5 508,164.0 509,163.1 510,163.5 511,163.0 512,162.8 513,161.8 514,160.8 515,161.3 516,159.9 517,159.5 518,159.2 519,157.3 520,156.2 521,155.6 522,155.2 523,155.8 524,155.9 525,155.1 526,155.1 527,154.8 528,155.6 529,154.5 530,153.4 531,153.2 532,152.6 533,152.1 534,151.5 535,151.1 536,150.1 537,149.5 538,149.2 539,148.3 540,147.6 541,146.2 542,145.6 543,145.1 544,144.1 545,144.1 546,144.7 547,143.7 548,143.5 549,141.8 550,140.8 551,142.3 552,142.3 553,139.8 554,139.5 555,140.9 556,140.2 557,139.7 558,138.2 559,137.3 560,137.6 561,136.4 562,136.2 563,135.9 564,135.3 565,136.0 566,136.7 567,134.8 568,134.0 569,133.9 570,133.7 571,133.7 572,133.3 573,132.2 574,131.1 575,130.4 576,128.9 577,129.5 578,129.0 579,126.8 580,125.4 581,125.6 582,124.8 583,125.5 584,125.1 585,123.1 586,121.1 587,120.5 588,119.2 589,118.9 590,116.8 591,115.5 592,114.5 593,114.7 594,114.8 595,113.4 596,110.7 597,110.7 598,108.9 599,107.8 600,108.3 601,106.2 602,106.4 603,106.3 604,105.1 605,104.5 606,103.2 607,102.6 608,100.6 609,99.9 610,100.7 611,100.6 612,98.3 613,95.9 614,95.8 615,97.0 616,97.2 617,95.8 618,95.2 619,95.1 620,94.8 621,93.5 622,91.5 623,90.3 624,89.8 625,88.9 626,87.3 627,87.0 628,88.6 629,88.3 630,86.2 631,85.5 632,85.7 633,83.9 634,84.1 635,84.8 636,83.8 637,84.5 638,82.5 639,82.0 640,81.0 641,79.7 642,79.1 643,78.0 644,78.4 645,79.2 646,77.6 647,75.8 648,74.7 649,74.9 650,74.4 651,73.7 652,73.0 653,73.0 654,74.0 655,73.3 656,71.3 657,70.0 658,69.8 659,71.1 660,69.1 661,68.8 662,68.6 663,69.0 664,69.1 665,69.1 666,68.1 667,66.3 668,65.3 669,66.3 670,65.5 671,63.6 672,62.1 673,61.0 674,60.6 675,61.5 676,60.1 677,59.2 678,60.4 679,57.9 680,55.8 681,56.8 682,57.3 683,56.9 684,55.1 685,55.0 686,53.6 687,54.0 688,53.5 689,52.0 690,51.5 691,50.7 692,49.3 693,47.1 694,47.1 695,46.7 696,45.7 697,44.3 698,44.8 699,44.0 700,43.9 701,41.3 702,39.1 703,37.8 704,37.1 705,38.0 706,36.3 707,34.4 708,33.6 709,31.8 710,31.8 711,32.7 712,30.7 713,29.6"/><polyline stroke="#00ff00" points="125,356.0 126,354.5 127,355.5 128,357.1 129,356.1 130,355.5 131,354.7 132,353.9 133,354.9 134,353.8 135,353.4 136,353.3 137,352.8 138,352.7 139,352.5 140,350.8 141,349.3 142,347.8 143,347.7 144,349.6 145,349.3 146,347.5 147,346.5 148,347.0 149,345.4 150,343.3 151,343.1 152,342.0 153,341.9 154,341.1 155,340.3 156,339.7 157,339.5 158,339.1 159,337.9 160,335.7 161,335.1 162,334.8 163,333.4 164,333.1 165,332.8 166,330.3 167,331.0 168,330.4 169,329.5 170,330.2 171,329.9 172,329.3 173,328.7 174,326.1 175,324.6 176,323.3 177,323.6 178,323.3 179,322.1 180,320.6 181,320.1 182,319.4 183,319.2 184,316.9 185,315.1 186,314.2 187,313.5 188,313.6 189,314.2 190,314.7 191,312.4 192,311.7 193,310.3 194,309.4 195,309.5 196,309.6 197,308.3 198,307.2 199,306.7 200,305.8 201,305.1 202,304.7 203,304.8 204,303.3 205,303.3 206,305.0 207,304.8 208,303.0 209,301.6 210,302.1 211,302.1 212,301.7 213,301.6 214,302.3 215,300.1 216,299.6 217,300.3 218,298.4 219,299.8 220,300.7 221,299.4 222,297.6 223,297.2 224,295.6 225,296.3 226,297.8 227,296.3 228,295.0 229,293.8 230,294.0 231,293.6 232,293.3 233,292.2 234,291.4 235,290.4 236,288.8 237,290.1 238,290.9 239,288.8 240,288.5 241,287.8 242,287.6 243,289.2 244,287.7 245,285.5 246,284.9 247,285.6 248,283.6 249,282.9 250,281.9 251,280.8 252,279.0 253,278.3 254,280.1 255,280.0 256,279.0 257,277.8 258,278.1 259,276.7 260,275.9 261,277.6 262,275.0 263,273.7 264,272.9 265,271.7 266,271.3 267,272.1 268,271.0 269,270.7 270,269.9 271,271.1 272,268.9 273,266.6 274,267.2 275,266.7 276,265.7 277,265.9 278,264.0 279,263.8 280,263.2 281,262.8 282,261.7 283,261.2 284,260.1 285,258.8 286,258.7 287,258.3 288,257.3 289,256.3 290,255.7 291,255.4 292,255.1 293,255.7 294,255.1 295,253.4 296,252.1 297,251.9 298,250.9 299,252.1 300,252.1 301,249.9 302,249.9 303,249.5 304,248.7 305,247.5 306,245.8 307,244.9 308,244.3 309,245.6 310,244.4 311,243.5 312,241.9 313,242.0 314,242.9 315,241.9 316,240.1 317,239.6 318,240.0 319,238.7 320,236.8 321,236.7 322,235.1 323,234.8 324,237.0 325,237.6 326,236.1 327,234.2 328,233.5 329,232.0 330,231.3 331,231.9 332,231.8 333,231.8 334,231.6 335,231.8 336,231.3 337,231.0 338,230.4 339,231.1 340,230.3 341,229.4 342,229.7 343,229.3 344,228.9 345,227.8 346,226.8 347,226.9 348,227.5 349,227.0 350,226.7 351,226.6 352,226.4 353,225.7 354,225.2 355,224.6 356,225.4 357,224.7 358,224.5 359,223.9 360,223.0 361,222.2 362,221.2 363,219.5 364,218.6 365,219.2 366,218.4 367,217.7 368,218.0 369,217.9 370,217.4 371,217.9 372,217.0 373,215.4 374,214.3 375,213.6 376,213.7 377,214.5 378,216.0 379,215.5 380,213.6 381,212.1 382,212.7 383,212.3 384,211.8 385,213.0 386,212.8 387,211.2 388,211.2 389,210.7 390,209.9 391,210.3 392,210.0 393,209.7 394,209.0 395,208.1 396,207.7 397,208.1 398,209.1 399,209.1 400,208.6 401,208.6 402,208.1 403,207.2 404,207.2 405,206.8 406,206.7 407,206.8 408,206.4 409,205.9 410,206.4 411,206.2 412,205.7 413,205.5 414,205.7 415,205.5 416,204.6 417,204.4 418,204.6 419,204.0 420,203.8 421,204.0 422,203.9 423,203.9 424,203.9 425,202.9 426,202.6 427,202.7 428,203.0 429,202.3 430,201.8 431,202.0 432,201.8 433,201.3 434,201.6 435,201.2 436,200.3 437,199.6 438,199.8 439,199.7 440,198.9 441,199.0 442,198.8 443,198.2 444,198.1 445,197.8 446,197.8 447,198.1 448,197.9 449,197.4 450,196.6 451,196.5 452,196.2 453,195.5 454,195.8 455,196.0 456,195.2 457,194.4 458,194.2 459,193.2 460,193.5 461,193.3 462,193.3 463,192.9 464,193.0 465,193.1 466,192.2 467,191.1 468,190.3 469,190.5 470,190.6 471,190.2 472,189.0 473,188.8 474,187.1 475,185.0 476,184.7 477,184.8 478,184.4 479,183.9 480,182.7 481,182.1 482,181.2 483,181.3 484,181.2 485,179.3 486,177.2 487,176.5 488,176.6 489,177.1 490,176.2 491,174.7 492,173.6 493,174.4 494,173.0 495,172.6 496,172.0 497,171.0 498,170.1 499,168.9 500,168.8 501,168.0 502,167.4 503,166.2 504,167.0 505,164.4 506,162.4 507,163.5 508,164.0 509,164.1 510,163.6 511,160.9 512,160.0 513,158.7 514,158.1 515,159.4 516,159.7 517,157.9 518,157.2 519,156.8 520,155.8 521,155.3 522,154.0 523,155.2 524,154.9 525,155.2 526,154.6 527,152.5 528,152.1 529,152.8 530,153.5 531,151.2 532,149.0 533,148.8 534,148.1 535,148.1 536,148.9 537,148.7 538,147.7 539,147.1 540,146.7 541,145.7 542,145.4 543,144.7 544,143.7 545,142.4 546,143.2 547,142.8 548,143.0 549,142.5 550,140.5 551,140.6 552,139.5 553,138.9 554,138.3 555,136.7 556,137.5 557,138.9 558,137.5 559,137.2 560,137.2 561,137.3 562,135.9 563,135.1 564,135.0 565,135.8 566,135.0 567,135.5 568,135.8 569,135.4 570,133.4 571,133.4 572,133.4 573,131.4 574,130.7 575,130.7 576,130.1 577,128.7 578,128.1 579,126.8 580,126.2 581,125.8 582,124.1 583,123.6 584,122.6 585,121.8 586,121.8 587,121.3 588,120.2 589,118.6 590,117.4 591,117.6 592,117.4 593,116.3 594,114.5 595,111.8 596,110.1 597,109.5 598,110.5 599,108.9 600,107.1 601,106.8 602,106.2 603,105.1 604,104.6 605,104.5 606,103.1 607,101.4 608,100.5 609,100.6 610,99.8 611,99.0 612,98.1 613,95.5 614,93.8 615,94.0 616,94.2 617,95.3 618,95.2 619,94.4 620,92.8 621,91.0 622,90.9 623,89.1 624,89.1 625,89.8 626,88.2 627,86.9 628,87.2 629,86.3 630,85.6 631,84.0 632,84.3 633,83.8 634,83.4 635,84.1 636,83.7 637,81.4 638,78.6 639,79.0 640,80.7 641,81.0 642,80.1 643,78.2 644,77.7 645,75.8 646,76.3 647,75.6 648,75.8 649,75.5 650,74.3 651,72.9 652,72.5 653,73.1 654,72.1 655,70.4 656,69.5 657,70.3 658,69.6 659,68.6 660,69.1 661,68.0 662,66.5 663,67.3 664,67.4 665,65.9 666,65.4 667,64.6 668,65.2 669,64.3 670,63.5 671,63.4 672,62.6 673,60.7 674,60.5 675,60.7 676,59.0 677,59.2 678,59.2 679,58.5 680,56.1 681,55.1 682,55.8 683,56.0 684,54.6 685,53.0 686,52.4 687,53.0 688,52.4 689,51.4 690,51.6 691,51.3 692,49.8 693,47.9 694,45.4 695,44.6 696,44.9 697,43.7 698,44.9 699,44.6 700,43.1 701,41.1 702,38.8 703,37.8 704,37.5 705,37.6 706,35.4 707,33.6 708,32.9 709,32.8 710,30.5 711,29.3 712,29.0 713,29.2"/><polyline stroke="#00ff00" points="125,380.8 126,380.8 127,379.8 128,380.6 129,379.7 130,379.3 131,378.6 132,377.5 133,376.3 134,375.1 135,374.3 136,374.5 137,375.2 138,374.4 139,372.6 140,371.4 141,371.7 142,370.8 143,370.3 144,369.1 145,369.1 146,368.9 147,368.0 148,366.6 149,365.4 150,364.5 151,363.9 152,361.9 153,360.0 154,360.7 155,360.2 156,358.3 157,357.2 158,356.4 159,356.0 160,353.6 161,352.8 162,350.8 163,350.0 164,350.1 165,349.4 166,348.0 167,347.3 168,345.7 169,344.5 170,343.0 171,341.8 172,341.7 173,340.5 174,340.1 175,339.4 176,338.9 177,337.6 178,336.1 179,333.8 180,333.0 181,333.2 182,333.3 183,332.1 184,331.9 185,331.5 186,329.7 187,328.5 188,327.7 189,328.9 190,327.1 191,325.9 192,325.6 193,324.8 194,324.5 195,323.1 196,323.6 197,322.5 198,321.1 199,320.1 200,320.8 201,320.5 202,319.7 203,318.5 204,318.2 205,318.4 206,318.1 207,316.0 208,315.5 209,314.5 210,313.8 211,314.4 212,314.7 213,314.3 214,313.8 215,312.0 216,311.9 217,313.0 218,313.2 219,311.5 220,313.6 221,314.4 222,312.7 223,311.4 224,310.3 225,310.2 226,310.8 227,310.2 228,308.4 229,307.4 230,307.2 231,308.2 232,307.1 233,306.1 234,305.8 235,305.5 236,305.2 237,303.5 238,303.9 239,303.8 240,302.5 241,303.0 242,302.7 243,300.9 244,300.5 245,300.4 246,301.8 247,300.6 248,298.7 249,299.0 250,299.7 251,299.2 252,297.6 253,296.9 254,296.2 255,295.2 256,293.8 257,293.0 258,293.8 259,293.5 260,292.7 261,292.6 262,292.5 263,292.9 264,291.5 265,291.2 266,289.8 267,289.1 268,288.3 269,287.0 270,286.0 271,287.1 272,287.2 273,285.9 274,284.0 275,282.5 276,281.3 277,279.6 278,278.5 279,275.3 280,274.1 281,273.3 282,272.4 283,271.4 284,270.2 285,269.6 286,270.1 287,269.7 288,269.5 289,268.3 290,266.6 291,265.9 292,265.3 293,264.3 294,263.3 295,263.7 296,263.8 297,263.0 298,261.5 299,262.0 300,261.2 301,260.7 302,259.0 303,257.9 304,258.8 305,258.6 306,257.8 307,255.6 308,255.7 309,255.4 310,255.5 311,255.5 312,253.6 313,253.1 314,252.8 315,252.7 316,252.2 317,251.8 318,250.1 319,249.8 320,250.8 321,248.9 322,247.5 323,248.9 324,249.0 325,247.2 326,245.3 327,245.6 328,244.6 329,242.8 330,244.5 331,244.0 332,243.0 333,243.4 334,243.1 335,242.6 336,242.1 337,239.8 338,238.4 339,238.4 340,239.8 341,241.1 342,240.7 343,239.7 344,239.6 345,238.9 346,237.1 347,236.9 348,237.3 349,237.5 350,236.5 351,235.6 352,234.9 353,234.1 354,233.8 355,234.0 356,233.8 357,233.9 358,232.4 359,231.3 360,231.9 361,231.8 362,231.3 363,231.2 364,231.1 365,231.2 366,231.1 367,230.6 368,229.1 369,229.0 370,228.5 371,227.7 372,228.2 373,227.0 374,224.9 375,225.6 376,224.9 377,224.6 378,225.1 379,223.4 380,222.4 381,221.5 382,220.4 383,221.7 384,221.4 385,220.2 386,219.6 387,219.6 388,218.3 389,217.8 390,217.2 391,217.6 392,217.8 393,216.3 394,215.5 395,215.0 396,215.4 397,215.3 398,214.1 399,213.4 400,213.5 401,213.6 402,213.1 403,212.0 404,211.8 405,211.6 406,211.6 407,211.3 408,211.4 409,211.6 410,211.7 411,211.0 412,210.3 413,210.1 414,210.3 415,209.6 416,209.3 417,209.1 418,209.0 419,209.2 420,209.4 421,209.5 422,209.4 423,209.1 424,208.5 425,208.4 426,207.8 427,207.0 428,207.6 429,207.3 430,207.3 431,207.1 432,206.7 433,206.5 434,206.4 435,206.2 436,205.2 437,204.7 438,205.0 439,206.0 440,206.0 441,205.3 442,204.8 443,204.9 444,204.3 445,203.8 446,203.7 447,203.3 448,203.4 449,203.1 450,202.8 451,202.8 452,203.3 453,202.7 454,201.9 455,201.6 456,201.0 457,201.3 458,201.0 459,200.2 460,200.1 461,200.1 462,200.1 463,199.9 464,200.3 465,200.1 466,198.3 467,197.1 468,197.8 469,197.5 470,197.2 471,196.7 472,195.8 473,196.2 474,196.2 475,196.1 476,195.4 477,195.2 478,193.0 479,193.6 480,193.5 481,192.2 482,191.7 483,190.1 484,190.6 485,191.6 486,191.6 487,189.9 488,188.0 489,187.6 490,187.2 491,186.5 492,185.0 493,184.6 494,183.8 495,182.8 496,183.2 497,183.8 498,182.5 499,182.1 500,181.5 501,181.2 502,181.2 503,181.6 504,180.6 505,180.2 506,179.4 507,177.3 508,176.3 509,176.5 510,175.5 511,174.6 512,175.4 513,175.0 514,173.8 515,173.6 516,173.0 517,171.8 518,170.4 519,169.6 520,168.8 521,168.2 522,168.8 523,167.9 524,166.8 525,165.5 526,165.2 527,164.7 528,164.2 529,164.3 530,163.2 531,162.0 532,161.8 533,160.4 534,160.4 535,160.2 536,160.3 537,158.6 538,158.5 539,158.1 540,158.6 541,157.9 542,156.2 543,156.5 544,154.8 545,154.4 546,154.1 547,153.4 548,153.7 549,153.7 550,152.6 551,151.1 552,151.0 553,149.3 554,149.7 555,149.4 556,149.3 557,148.6 558,147.6 559,147.6 560,147.6 561,146.7 562,146.6 563,146.3 564,145.9 565,145.4 566,144.0 567,143.1 568,144.2 569,144.5 570,144.1 571,143.8 572,143.1 573,141.8 574,140.9 575,140.8 576,139.8 577,141.3 578,140.1 579,140.2 580,139.1 581,136.8 582,136.5 583,137.3 584,137.5 585,135.5 586,134.0 587,134.1 588,132.2 589,132.3 590,132.5 591,132.9 592,132.3 593,131.0 594,130.0 595,128.7 596,128.8 597,128.3 598,127.5 599,125.7 600,124.4 601,124.3 602,124.9 603,124.1 604,124.1 605,123.3 606,121.9 607,121.2 608,120.7 609,120.7 610,120.0 611,120.3 612,120.2 613,118.3 614,118.4 615,117.7 616,116.2 617,115.2 618,114.6 619,113.4 620,113.4 621,111.7 622,111.8 623,110.2 624,109.2 625,108.3 626,107.2 627,107.4 628,106.9 629,104.6 630,102.7 631,101.9 632,101.1 633,101.3 634,100.7 635,99.9 636,100.5 637,99.9 638,96.7 639,96.9 640,96.3 641,94.5 642,94.2 643,94.7 644,95.0 645,93.9 646,93.1 647,91.5 648,91.0 649,89.1 650,89.4 651,89.9 652,89.6 653,89.0 654,88.4 655,87.8 656,86.6 657,85.9 658,87.0 659,86.1 660,85.8 661,87.1 662,84.8 663,83.7 664,84.2 665,83.2 666,81.1 667,81.5 668,80.6 669,81.4 670,80.2 671,77.8 672,78.5 673,79.8 674,80.0 675,78.9 676,75.9 677,75.6 678,75.8 679,75.8 680,75.6 681,75.0 682,72.8 683,71.7 684,70.8 685,70.7 686,69.9 687,69.6 688,67.8 689,69.0 690,68.6 691,67.1 692,66.4 693,64.5 694,64.8 695,64.9 696,63.5 697,62.4 698,60.1 699,59.1 700,59.6 701,57.1 702,55.8 703,56.0 704,55.0 705,55.1 706,54.4 707,54.9 708,56.3 709,56.7 710,56.0 711,54.7 712,55.7 713,56.5"/><polyline stroke="#0000ff" stroke-width="4.8" stroke-linejoin="round" points="125.0,370.8 127.0,370.0 129.0,368.9 131.0,367.7 133.0,366.4 135.0,365.0 137.0,363.6 139.0,362.2 141.0,360.6 143.0,359.1 145.0,357.4 147.0,355.8 149.0,354.2 151.0,352.6 153.0,350.9 155.0,349.2 157.0,347.4 159.0,345.6 161.0,343.7 163.0,341.9 165.0,340.1 167.0,338.3 169.0,336.5 171.0,334.7 173.0,333.0 175.0,331.1 177.0,329.3 179.0,327.5 181.0,325.9 183.0,324.4 185.0,323.1 187.0,321.8 189.0,320.5 191.0,319.3 193.0,318.2 195.0,317.1 197.0,316.1 199.0,315.1 201.0,314.0 203.0,313.0 205.0,312.0 207.0,311.0 209.0,310.0 211.0,309.0 213.0,308.1 215.0,307.2 217.0,306.5 219.0,305.8 221.0,305.2 223.0,304.5 225.0,303.8 227.0,303.1 229.0,302.2 231.0,301.3 233.0,300.2 235.0,299.2 237.0,298.2 239.0,297.2 241.0,296.2 243.0,295.3 245.0,294.3 247.0,293.3 249.0,292.3 251.0,291.3 253.0,290.3 255.0,289.2 257.0,288.0 259.0,286.6 261.0,285.2 263.0,283.7 265.0,282.2 267.0,280.6 269.0,278.8 271.0,276.8 273.0,274.5 275.0,272.3 277.0,270.3 279.0,268.6 281.0,267.0 283.0,265.6 285.0,264.3 287.0,263.1 289.0,262.0 291.0,260.9 293.0,260.0 295.0,259.0 297.0,257.9 299.0,256.7 301.0,255.5 303.0,254.3 305.0,253.1 307.0,251.9 309.0,250.7 311.0,249.6 313.0,248.5 315.0,247.5 317.0,246.5 319.0,245.5 321.0,244.5 323.0,243.6 325.0,242.8 327.0,242.0 329.0,241.2 331.0,240.4 333.0,239.6 335.0,238.8 337.0,238.1 339.0,237.2 341.0,236.4 343.0,235.6 345.0,234.8 347.0,234.0 349.0,233.2 351.0,232.4 353.0,231.6 355.0,230.8 357.0,230.0 359.0,229.2 361.0,228.4 363.0,227.6 365.0,226.7 367.0,225.8 369.0,224.8 371.0,223.7 373.0,222.5 375.0,221.3 377.0,220.1 379.0,218.9 381.0,217.6 383.0,216.4 385.0,215.4 387.0,214.5 389.0,213.7 391.0,213.0 393.0,212.3 395.0,211.6 397.0,211.1 399.0,210.6 401.0,210.1 403.0,209.8 405.0,209.4 407.0,209.1 409.0,208.8 411.0,208.5 413.0,208.1 415.0,207.7 417.0,207.3 419.0,206.9 421.0,206.5 423.0,206.2 425.0,205.8 427.0,205.4 429.0,205.0 431.0,204.6 433.0,204.2 435.0,203.7 437.0,203.3 439.0,202.8 441.0,202.4 443.0,201.9 445.0,201.4 447.0,200.9 449.0,200.4 451.0,199.8 453.0,199.3 455.0,198.8 457.0,198.3 459.0,197.9 461.0,197.4 463.0,196.9 465.0,196.4 467.0,195.8 469.0,195.2 471.0,194.4 473.0,193.5 475.0,192.4 477.0,191.0 479.0,189.5 481.0,187.9 483.0,186.1 485.0,184.2 487.0,182.3 489.0,180.5 491.0,178.7 493.0,177.0 495.0,175.4 497.0,174.0 499.0,172.7 501.0,171.4 503.0,170.3 505.0,169.2 507.0,168.1 509.0,167.0 511.0,165.9 513.0,164.8 515.0,163.8 517.0,162.8 519.0,161.8 521.0,160.8 523.0,159.8 525.0,158.8 527.0,157.8 529.0,156.7 531.0,155.7 533.0,154.7 535.0,153.7 537.0,152.7 539.0,151.7 541.0,150.7 543.0,149.7 545.0,148.7 547.0,147.7 549.0,146.7 551.0,145.7 553.0,144.8 555.0,143.9 557.0,143.0 559.0,142.2 561.0,141.4 563.0,140.6 565.0,139.8 567.0,139.0 569.0,138.1 571.0,137.2 573.0,136.2 575.0,135.1 577.0,134.0 579.0,132.8 581.0,131.5 583.0,130.1 585.0,128.5 587.0,126.8 589.0,125.0 591.0,123.1 593.0,121.1 595.0,119.1 597.0,117.1 599.0,115.0 601.0,113.2 603.0,111.6 605.0,110.2 607.0,108.9 609.0,107.6 611.0,106.4 613.0,105.2 615.0,104.0 617.0,102.6 619.0,101.3 621.0,99.8 623.0,98.4 625.0,97.0 627.0,95.6 629.0,94.2 631.0,93.0 633.0,91.7 635.0,90.6 637.0,89.5 639.0,88.5 641.0,87.6 643.0,86.5 645.0,85.3 647.0,84.1 649.0,82.9 651.0,81.9 653.0,80.9 655.0,79.9 657.0,78.9 659.0,77.9 661.0,76.9 663.0,75.9 665.0,74.7 667.0,73.5 669.0,72.3 671.0,71.1 673.0,69.9 675.0,68.7 677.0,67.5 679.0,66.1 681.0,64.7 683.0,63.2 685.0,61.7 687.0,60.1 689.0,58.5 691.0,56.8 693.0,55.1 695.0,53.4 697.0,51.6 699.0,49.7 701.0,47.7 703.0,45.8 705.0,44.0 707.0,42.4 709.0,40.8 711.0,39.3 713.0,38.2"/></g><g clip-path="url(#c2)" fill="none" shape-rendering="crispEdges"><polyline stroke="#0000ff" stroke-width="3" stroke-linejoin="round" points="124.2,564.8 125.5,557.6 126.8,549.7 128.1,542.0 129.6,553.5 131.0,565.0 132.1,554.4 133.1,544.7 134.1,534.5 135.2,524.5 136.3,529.5 137.4,534.3 138.6,539.5 139.7,530.9 140.9,522.3 142.0,513.5 143.2,505.5 144.3,496.8 145.9,495.3 147.0,484.1 148.2,472.8 149.3,460.9 150.5,449.3 151.6,437.8 152.8,426.5 154.0,419.5 155.1,413.5 156.3,406.4 157.4,400.0 158.6,401.1 159.8,403.8 160.9,401.5 162.1,400.5 163.2,397.3 164.4,402.6 165.6,407.4 166.8,412.8 167.9,430.1 169.1,448.0 170.2,465.3 171.3,477.3 172.5,489.1 173.7,501.2 174.8,513.3 176.0,522.4 177.1,531.6 178.3,540.0 180.2,556.5 181.0,566.0 181.5,583.5 183.0,567.0 184.7,567.2 186.6,573.0 187.8,590.7 189.3,594.2 191.0,590.9 192.3,597.0 193.6,599.3 194.8,603.4 195.9,610.3 197.0,611.7 198.0,613.9 199.0,616.4 200.0,619.6 201.8,616.0 203.1,614.3 204.3,616.0 205.7,609.9 207.5,617.3 209.4,621.0 211.2,633.1 212.2,630.3 213.2,628.7 214.5,618.6 216.4,609.9 217.4,614.6 218.5,620.1 219.6,624.8 221.3,618.0 222.3,613.5 223.3,609.0 224.4,607.4 225.6,608.6 226.7,607.4 227.8,607.2 228.9,608.3 230.0,611.8 231.4,605.5 232.8,599.6 234.1,600.0 235.3,600.7 236.6,602.1 238.5,597.3 239.6,597.9 240.6,598.4 242.3,590.7 243.6,584.4 244.9,579.3 246.8,578.0 248.2,579.8 249.3,564.0 250.6,563.0 251.8,563.0 253.1,561.5 255.0,547.6 255.6,540.0 256.7,526.7 257.8,513.3 258.9,499.8 260.0,486.0 261.1,466.9 262.3,447.0 263.5,434.6 264.7,422.9 265.9,410.5 267.3,394.0 268.8,392.7 270.2,394.0 271.8,412.8 273.7,449.0 274.8,463.4 276.0,477.7 277.1,492.7 278.2,507.4 279.4,521.9 280.5,536.0 282.1,568.0 283.2,575.0 285.1,588.9 287.0,595.9 288.9,600.3 290.3,609.4 291.0,610.3 292.4,624.9 293.3,610.5 294.2,603.5 295.3,603.3 296.9,609.1 298.0,605.5 299.0,608.0 300.2,619.2 301.3,606.7 302.3,601.8 303.4,608.0 304.4,612.9 305.3,608.0 306.9,607.3 308.3,606.8 309.6,603.7 310.8,600.9 311.9,603.4 313.0,603.5 314.2,611.8 315.5,621.9 317.4,632.0 318.6,633.4 320.4,632.2 321.8,635.8 323.7,644.1 325.0,645.2 326.3,647.2 327.6,648.3 328.8,649.1 330.7,652.3 331.7,653.7 332.8,652.9 333.9,654.8 335.3,657.5 337.0,651.0 338.1,650.2 339.1,649.2 340.8,653.6 342.5,656.2 343.6,653.4 344.7,652.1 346.5,652.9 348.0,653.9 349.7,649.8 351.3,644.9 352.5,648.8 353.7,652.1 355.4,649.8 357.3,635.8 359.2,628.2 360.4,628.3 361.7,625.7 363.5,627.5 364.7,606.7 366.2,591.5 367.5,575.0 368.3,565.0 369.6,550.2 370.9,536.0 371.8,524.0 372.8,512.0 373.5,500.0 374.0,492.4 374.6,494.0 375.4,500.0 376.4,510.0 377.4,522.0 378.7,540.6 380.5,565.0 381.7,580.7 382.9,596.0 384.2,640.0 385.6,654.0 387.0,666.5 388.1,669.2 389.1,672.1 390.5,684.6 391.9,697.2 393.8,699.8 395.1,699.6 396.4,697.1 398.1,701.4 399.1,707.1 400.2,712.5 401.2,717.2 402.3,720.9 403.4,723.5 404.4,725.1 405.8,726.3 407.2,727.2 408.2,724.3 409.2,723.4 410.4,736.2 411.6,739.3 412.8,740.4 413.9,742.2 414.9,746.0 416.0,746.9 417.1,747.5 418.2,745.6 419.3,742.2 420.4,740.4 421.6,739.6 422.7,739.4 423.9,737.6 425.3,733.4 426.7,729.3 427.8,725.9 428.8,723.7 429.6,719.8 430.9,719.1 432.2,716.4 433.4,717.7 435.1,719.5 436.1,718.5 437.2,718.8 438.4,717.0 439.5,715.6 440.7,714.6 441.9,713.0 443.0,713.0 444.2,711.8 445.6,705.6 447.3,704.8 448.5,706.9 449.7,709.7 450.6,710.8 452.5,708.3 453.2,695.8 455.2,692.9 456.7,698.6 458.5,710.9 459.8,701.4 460.9,687.4 462.3,685.2 463.7,683.2 464.8,680.9 465.8,677.7 466.9,671.2 467.9,665.1 468.9,658.8 470.0,652.6 471.8,640.0 472.3,625.0 473.5,615.9 474.7,605.8 476.6,584.0 477.6,560.0 477.9,538.4 479.3,481.3 481.1,442.5 482.6,428.0 483.6,417.0 484.5,408.0 485.6,402.0 486.6,399.0 487.6,396.9 488.2,405.0 488.8,417.0 489.6,428.0 491.3,445.0 493.0,463.0 494.8,492.7 496.0,512.3 497.1,531.5 498.3,540.7 499.5,550.5 500.7,560.0 502.3,570.0 503.5,583.5 504.8,590.9 506.0,593.1 507.2,594.6 509.1,599.5 510.3,601.6 511.5,602.0 512.8,607.0 514.0,611.8 515.2,611.4 516.4,611.8 517.1,603.8 518.2,602.4 519.3,602.0 520.4,603.6 521.4,604.4 523.2,608.1 524.4,616.7 525.6,619.4 526.9,621.6 528.1,622.2 529.4,623.5 530.6,622.4 531.8,621.6 533.7,619.8 535.5,624.1 536.5,628.7 537.6,622.9 539.2,620.0 540.4,622.9 541.6,623.2 542.9,624.1 544.3,620.5 545.5,621.6 546.6,621.6 547.8,627.8 549.5,627.9 551.2,615.8 552.1,621.6 553.2,622.6 554.3,624.6 555.8,621.6 557.6,619.8 559.5,622.9 560.7,623.8 561.9,624.1 563.7,628.2 565.6,627.2 567.1,619.2 568.3,614.0 569.3,619.2 570.4,625.0 571.5,616.7 573.0,605.7 574.2,603.2 575.5,599.5 576.7,588.4 577.9,579.8 579.2,570.0 580.1,559.5 581.4,536.0 583.0,520.0 584.0,485.9 585.2,470.7 586.4,455.1 587.6,440.0 588.6,427.0 589.6,420.0 590.5,414.0 591.6,407.0 592.5,399.0 593.0,396.2 594.0,394.8 595.0,396.2 595.6,399.0 596.4,405.0 597.4,418.0 598.3,428.0 599.7,444.7 601.1,460.8 602.2,473.6 603.4,486.8 604.5,499.6 605.7,509.6 606.9,520.0 607.9,525.0 609.1,537.3 610.6,547.7 612.2,554.5 613.2,556.9 614.5,547.5 615.3,555.7 616.5,560.5 617.5,556.4 618.9,555.8 620.2,557.6 621.4,566.8 622.4,570.0 623.9,564.3 625.6,552.4 627.0,559.4 628.1,564.7 629.3,569.9 630.7,569.3 631.9,566.3 633.0,563.0 634.4,565.6 635.4,568.5 636.8,563.7 638.0,563.6 639.3,563.9 640.5,563.7 641.7,574.2 643.3,581.8 644.4,577.9 645.5,575.0 646.6,577.9 647.9,578.0 649.1,579.1 650.3,588.9 651.4,591.5 652.5,587.9 653.6,584.5 655.3,586.5 657.1,593.9 658.1,596.8 659.2,597.0 660.9,597.7 662.6,601.2 663.8,603.3 665.0,604.3 666.9,598.8 668.2,592.0 669.2,591.6 670.2,592.4 671.2,592.0 672.3,595.1 673.4,599.0 674.5,594.9 675.5,591.4 676.8,585.2 677.8,583.4 678.8,580.0 679.8,577.9 681.7,565.6 683.5,549.6 684.8,537.3 686.6,529.9 688.3,527.0 689.7,492.7 691.2,469.9 692.8,459.6 693.8,457.3 694.8,456.7 695.8,456.2 696.8,442.5 697.6,420.0 698.6,409.5 700.4,409.5 701.4,420.0 702.6,429.0 703.8,437.9 704.9,442.5 706.1,447.3 707.2,451.6 708.4,457.1 709.5,463.0 711.2,480.0 712.6,492.0"/><g fill="#0000ff" stroke="none"><polyline points="136.9,539.3 138.9,547.6 140.3,539.1"/><polyline points="146.0,497.0 143.9,488.8 142.6,497.1"/><polyline points="144.2,495.1 146.3,503.4 147.5,494.9"/><polyline points="159.1,400.3 157.4,391.9 155.7,400.3"/><polyline points="158.1,403.4 159.4,410.1 161.5,403.6"/><polyline points="164.9,397.7 163.5,391.4 161.5,397.6"/><polyline points="179.8,583.2 181.5,591.6 183.2,583.2"/><polyline points="184.6,566.6 181.4,563.9 181.6,568.1"/><polyline points="187.6,594.0 189.8,601.2 191.0,593.7"/><polyline points="192.7,591.2 190.8,582.8 189.3,591.2"/><polyline points="194.2,609.7 195.2,615.1 197.6,610.2"/><polyline points="198.6,612.1 197.5,606.8 195.3,611.8"/><polyline points="198.4,619.3 199.8,625.9 201.8,619.4"/><polyline points="207.4,610.2 205.6,601.8 204.0,610.2"/><polyline points="209.5,632.7 210.6,640.5 212.9,633.0"/><polyline points="218.1,610.2 216.4,601.8 214.7,610.2"/><polyline points="217.9,624.5 219.5,632.9 221.3,624.5"/><polyline points="228.3,611.6 230.4,617.6 231.7,611.4"/><polyline points="240.2,597.6 238.5,591.6 236.8,597.7"/><polyline points="238.9,598.3 241.1,605.6 242.3,598.0"/><polyline points="246.4,579.8 249.0,584.6 249.8,579.3"/><polyline points="288.7,608.7 289.5,612.7 292.0,609.5"/><polyline points="292.5,611.0 291.8,607.0 289.2,610.2"/><polyline points="290.7,624.6 292.4,633.0 294.1,624.6"/><polyline points="296.8,604.3 296.4,600.7 293.6,603.0"/><polyline points="295.2,608.8 297.1,617.2 298.6,608.8"/><polyline points="299.7,605.7 297.6,600.0 296.3,605.9"/><polyline points="298.5,618.9 300.3,627.3 301.9,618.9"/><polyline points="304.0,602.1 302.4,593.7 300.6,602.1"/><polyline points="302.7,612.6 304.5,621.0 306.1,612.6"/><polyline points="308.5,607.9 307.4,603.8 305.2,607.4"/><polyline points="306.6,606.6 308.6,610.8 310.0,606.4"/><polyline points="312.5,600.9 310.2,596.2 309.2,601.4"/><polyline points="316.8,633.2 318.8,637.4 320.2,633.0"/><polyline points="322.1,632.6 320.7,625.4 318.7,632.4"/><polyline points="330.0,653.6 332.2,657.7 333.4,653.2"/><polyline points="334.6,653.1 332.5,648.2 331.2,653.3"/><polyline points="333.6,657.3 335.6,663.4 337.0,657.1"/><polyline points="340.7,649.8 339.9,645.0 337.4,649.2"/><polyline points="340.8,656.1 343.2,662.2 344.2,655.7"/><polyline points="346.4,651.9 343.5,648.3 343.1,652.9"/><polyline points="346.3,653.9 348.7,657.7 349.7,653.3"/><polyline points="353.0,645.2 351.4,636.8 349.6,645.2"/><polyline points="352.1,651.7 353.1,657.7 355.4,652.0"/><polyline points="361.8,627.5 364.7,632.4 365.1,626.8"/><polyline points="375.7,492.6 373.7,488.4 372.3,492.9"/><polyline points="392.1,699.5 394.0,704.4 395.5,699.4"/><polyline points="398.0,697.4 396.6,691.4 394.6,697.3"/><polyline points="410.9,723.9 410.2,715.8 407.5,723.5"/><polyline points="415.4,747.5 417.6,751.1 418.7,747.0"/><polyline points="431.3,719.8 428.9,715.1 427.9,720.4"/><polyline points="429.2,718.8 430.9,723.2 432.6,718.8"/><polyline points="435.1,718.0 433.4,713.7 431.7,718.0"/><polyline points="448.9,705.4 447.9,701.2 445.5,704.8"/><polyline points="448.9,710.3 450.2,714.1 452.3,710.7"/><polyline points="456.8,693.4 455.8,687.2 453.4,693.0"/><polyline points="456.8,710.6 458.5,719.0 460.2,710.6"/><polyline points="489.3,397.4 488.2,391.9 485.9,397.0"/><polyline points="521.0,602.4 519.6,598.5 517.6,602.1"/><polyline points="534.8,628.4 536.4,636.8 538.2,628.4"/><polyline points="540.8,620.4 539.5,613.9 537.5,620.2"/><polyline points="546.0,620.3 543.2,617.1 542.8,621.4"/><polyline points="547.8,628.4 551.0,631.0 550.9,626.9"/><polyline points="552.9,616.1 551.1,607.7 549.5,616.1"/><polyline points="552.6,624.5 554.8,629.4 556.0,624.2"/><polyline points="562.1,627.5 562.8,631.8 565.4,628.3"/><polyline points="570.0,614.3 568.5,605.9 566.6,614.3"/><polyline points="568.7,624.7 570.5,633.1 572.1,624.7"/><polyline points="594.7,396.3 592.4,390.9 591.3,396.7"/><polyline points="592.3,394.5 594.0,400.1 595.7,394.5"/><polyline points="596.7,396.6 595.6,390.9 593.3,396.3"/><polyline points="611.5,556.7 613.6,562.3 614.9,556.5"/><polyline points="616.2,547.8 614.4,539.4 612.8,547.8"/><polyline points="614.8,560.2 616.5,568.4 618.2,560.2"/><polyline points="620.7,569.6 622.4,576.4 624.1,569.7"/><polyline points="627.3,552.7 625.5,544.3 623.9,552.7"/><polyline points="627.7,569.2 628.4,573.2 631.0,570.1"/><polyline points="634.7,563.3 633.1,557.2 631.3,563.2"/><polyline points="633.7,568.2 635.3,574.6 637.1,568.3"/><polyline points="641.6,581.5 643.3,589.9 645.0,581.5"/><polyline points="647.2,575.3 645.4,568.9 643.8,575.3"/><polyline points="649.7,591.3 651.7,597.3 653.1,591.2"/><polyline points="655.4,584.5 653.0,579.3 652.0,585.0"/><polyline points="657.6,596.4 658.6,600.4 660.9,597.0"/><polyline points="662.5,598.4 661.8,594.1 659.2,597.6"/><polyline points="663.2,604.2 665.5,609.0 666.6,603.9"/><polyline points="671.7,598.7 673.5,605.9 675.1,598.6"/></g></g></svg>
<div class="title">Graph Data</div>
<div class="yl" style="top:65px">2</div><div class="yl" style="top:133px">1</div><div class="yl" style="top:201px">0</div><div class="yl" style="top:270px">-1</div><div class="yl" style="top:338px">-2</div><div class="yl" style="top:437px">10</div><div class="yl" style="top:508px">8</div><div class="yl" style="top:578px">6</div><div class="yl" style="top:648px">4</div><div class="yl" style="top:719px">2</div><div class="xl" style="left:96px">-400</div><div class="xl" style="left:169px">-300</div><div class="xl" style="left:242px">-200</div><div class="xl" style="left:316px">-100</div><div class="xl" style="left:389px">0</div><div class="xl" style="left:462px">100</div><div class="xl" style="left:535px">200</div><div class="xl" style="left:608px">300</div>
<div class="yt" style="top:199px">Current[ nA ]</div>
<div class="yt" style="top:564px">dI/dV[ nA/V ]</div>
<div class="xt">Voltage[ mV ]</div>
</body></html>
